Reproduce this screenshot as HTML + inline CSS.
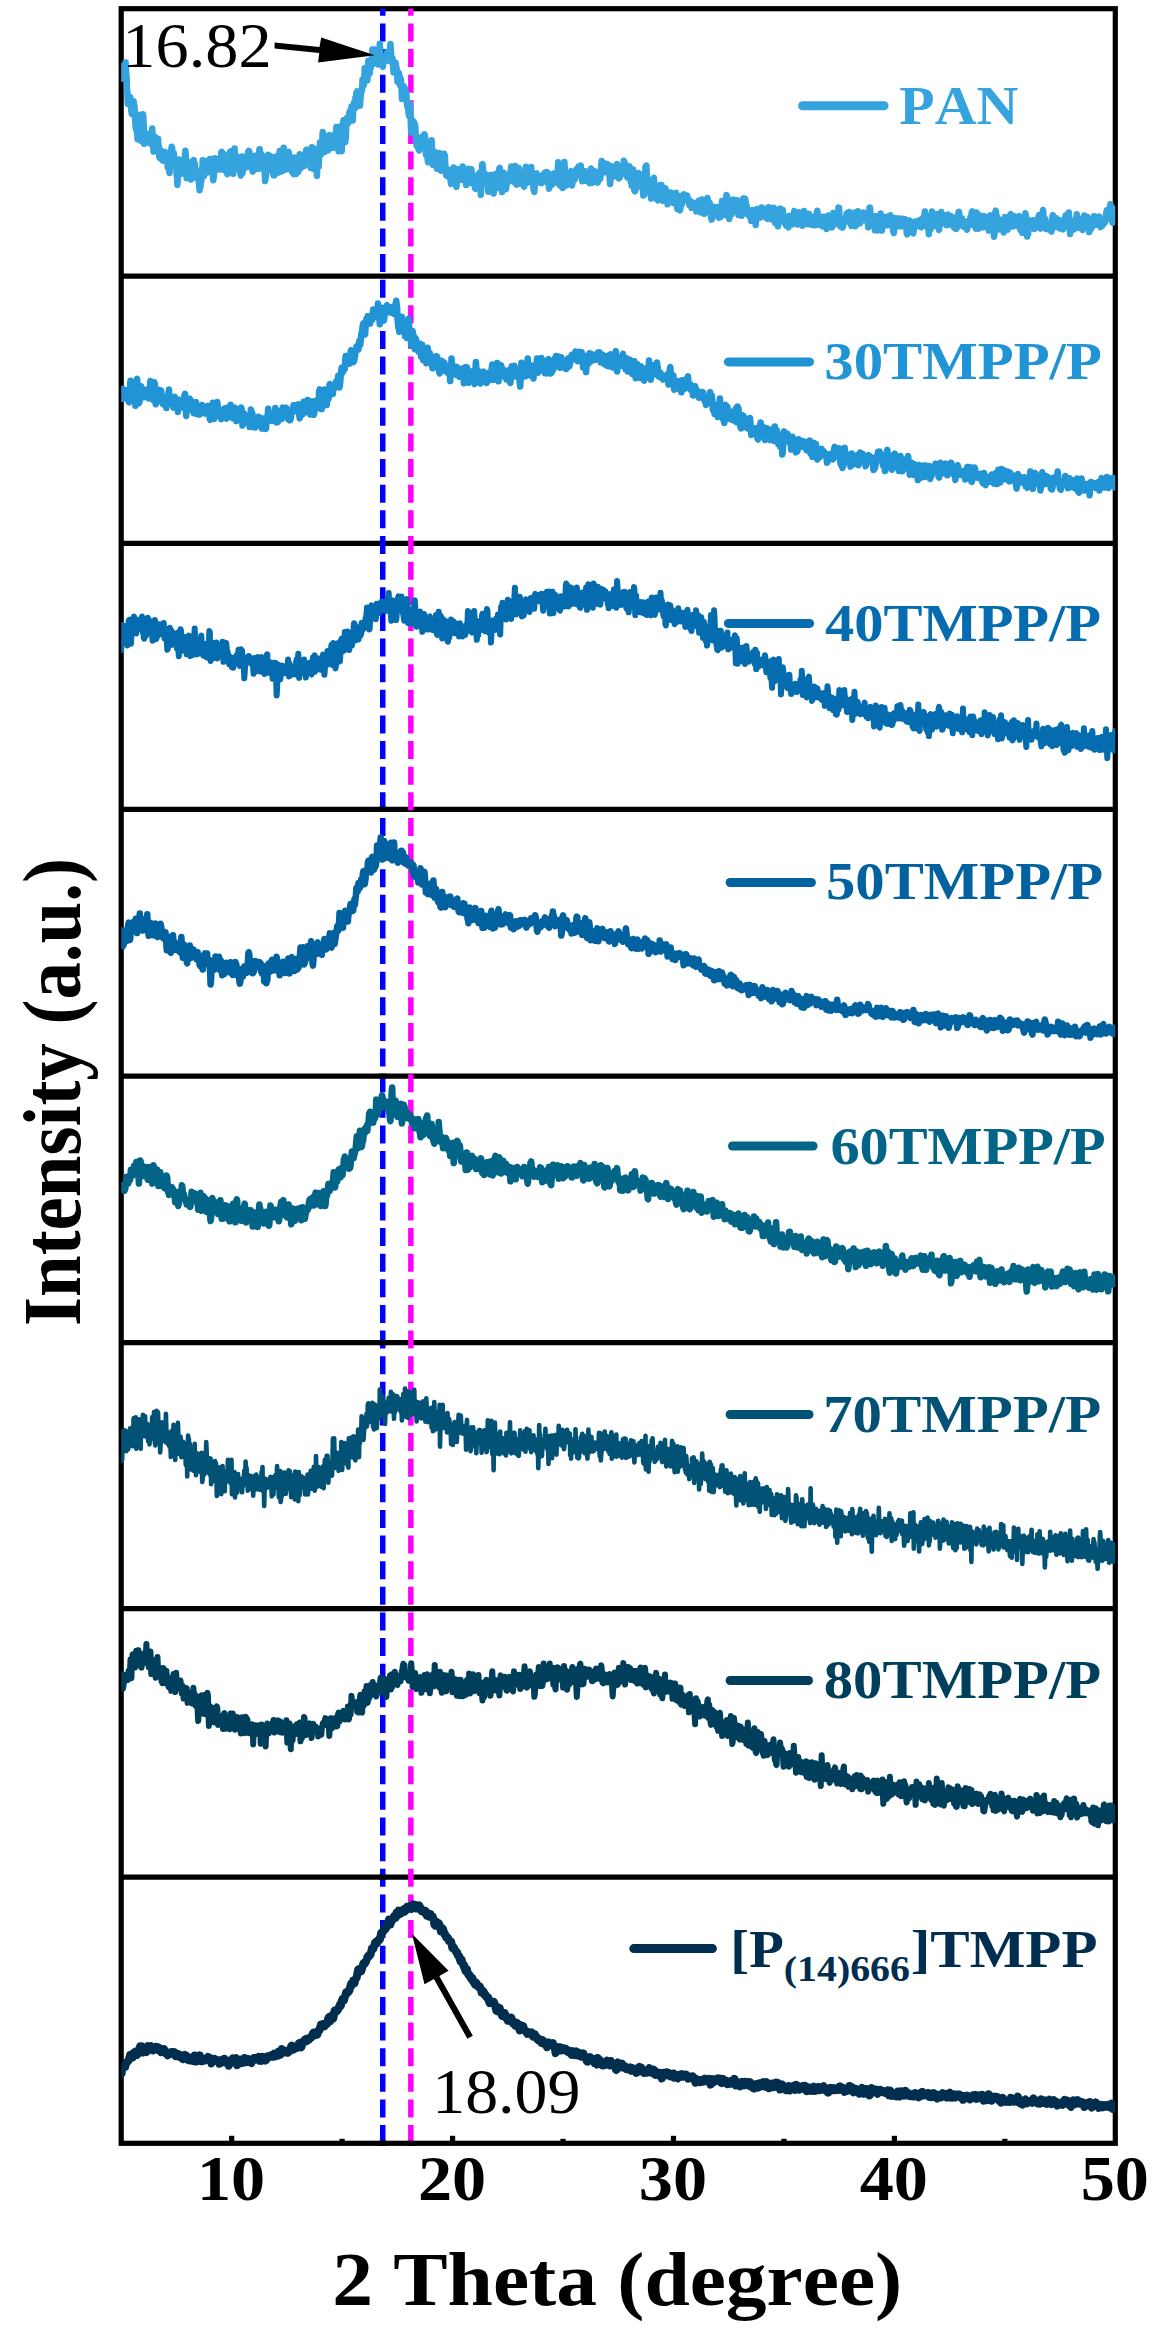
<!DOCTYPE html><html><head><meta charset="utf-8"><title>XRD</title><style>html,body{margin:0;padding:0;background:#fff;width:1153px;height:2334px;overflow:hidden;}svg{display:block;} text{font-kerning:none;font-feature-settings:"kern" 0;}</style></head><body><svg width="1153" height="2334" viewBox="0 0 1153 2334">
<defs><clipPath id="pc"><rect x="121.2" y="8.7" width="994.10" height="2134.60"/></clipPath></defs>
<rect width="1153" height="2334" fill="#fff"/>
<rect x="121.20" y="8.70" width="994.10" height="2134.60" fill="none" stroke="#000" stroke-width="5.2"/>
<line x1="121.20" y1="276.10" x2="1115.30" y2="276.10" stroke="#000" stroke-width="5.2"/>
<line x1="121.20" y1="543.30" x2="1115.30" y2="543.30" stroke="#000" stroke-width="5.2"/>
<line x1="121.20" y1="809.30" x2="1115.30" y2="809.30" stroke="#000" stroke-width="5.2"/>
<line x1="121.20" y1="1076.20" x2="1115.30" y2="1076.20" stroke="#000" stroke-width="5.2"/>
<line x1="121.20" y1="1342.70" x2="1115.30" y2="1342.70" stroke="#000" stroke-width="5.2"/>
<line x1="121.20" y1="1608.70" x2="1115.30" y2="1608.70" stroke="#000" stroke-width="5.2"/>
<line x1="121.20" y1="1877.20" x2="1115.30" y2="1877.20" stroke="#000" stroke-width="5.2"/>
<rect x="229.06" y="2135.80" width="5.2" height="5.90" fill="#000"/>
<rect x="339.51" y="2138.80" width="5.2" height="2.90" fill="#000"/>
<rect x="449.97" y="2135.80" width="5.2" height="5.90" fill="#000"/>
<rect x="560.42" y="2138.80" width="5.2" height="2.90" fill="#000"/>
<rect x="670.88" y="2135.80" width="5.2" height="5.90" fill="#000"/>
<rect x="781.33" y="2138.80" width="5.2" height="2.90" fill="#000"/>
<rect x="891.79" y="2135.80" width="5.2" height="5.90" fill="#000"/>
<rect x="1002.24" y="2138.80" width="5.2" height="2.90" fill="#000"/>
<line x1="382.75" y1="8.7" x2="382.75" y2="2143.3" stroke="#0000FF" stroke-width="5.5" stroke-dasharray="18 7.63" stroke-dashoffset="10.93"/>
<line x1="410.85" y1="8.7" x2="410.85" y2="2143.3" stroke="#FF00FF" stroke-width="5.5" stroke-dasharray="18 7.63" stroke-dashoffset="10.93"/>
<rect x="379" y="806.70" width="7.5" height="5.2" fill="#000"/>
<rect x="379" y="1073.60" width="7.5" height="5.2" fill="#000"/>
<rect x="379" y="1340.10" width="7.5" height="5.2" fill="#000"/>
<rect x="379" y="1606.10" width="7.5" height="5.2" fill="#000"/>
<rect x="407" y="1606.10" width="7.5" height="5.2" fill="#000"/>
<rect x="379" y="1874.60" width="7.5" height="5.2" fill="#000"/>
<rect x="379" y="2140.70" width="7.5" height="5.2" fill="#000"/>
<rect x="407" y="2140.70" width="7.5" height="5.2" fill="#000"/>
<g clip-path="url(#pc)">
<path d="M121.2,78.7 121.6,75.1 122.1,74.1 122.5,72.2 123.0,74.8 123.4,65.4 123.9,72.8 124.3,75.1 124.7,71.3 125.2,68.9 125.6,62.6 126.1,72.3 126.5,75.8 127.0,91.0 127.4,91.4 127.8,104.0 128.3,97.3 128.7,103.1 129.2,97.6 129.6,101.3 130.1,97.0 130.5,100.1 130.9,103.4 131.4,111.1 131.8,113.9 132.3,109.8 132.7,108.6 133.2,104.0 133.6,101.1 134.0,105.1 134.5,106.2 134.9,114.4 135.4,123.6 135.8,128.4 136.3,130.0 136.7,125.6 137.1,130.9 137.6,139.3 138.0,132.9 138.5,136.1 138.9,128.2 139.4,126.1 139.8,114.8 140.2,121.1 140.7,130.3 141.1,140.9 141.6,132.6 142.0,128.5 142.5,118.2 142.9,114.2 143.3,116.4 143.8,129.4 144.2,143.8 144.7,141.1 145.1,139.9 145.6,133.1 146.0,138.6 146.4,137.7 146.9,139.1 147.3,134.4 147.8,134.3 148.2,135.9 148.7,137.9 149.1,138.4 149.5,138.8 150.0,143.5 150.4,137.0 150.9,141.7 151.3,136.3 151.8,139.4 152.2,128.4 152.6,138.2 153.1,140.8 153.5,151.6 154.0,139.4 154.4,140.1 154.9,136.8 155.3,150.1 155.7,142.9 156.2,146.6 156.6,146.4 157.1,148.5 157.5,147.9 158.0,138.8 158.4,144.7 158.8,146.1 159.3,157.1 159.7,158.0 160.2,153.9 160.6,151.0 161.1,150.6 161.5,158.8 161.9,154.0 162.4,160.2 162.8,156.6 163.3,160.7 163.7,159.6 164.2,156.9 164.6,153.9 165.0,152.0 165.5,154.3 165.9,157.1 166.4,153.5 166.8,152.8 167.3,156.7 167.7,167.5 168.1,163.1 168.6,166.2 169.0,161.2 169.5,172.9 169.9,167.3 170.4,161.1 170.8,155.2 171.2,150.6 171.7,146.8 172.1,147.7 172.6,153.2 173.0,159.6 173.5,161.0 173.9,153.4 174.3,159.5 174.8,158.3 175.2,165.5 175.7,164.3 176.1,162.8 176.6,174.2 177.0,176.8 177.4,184.9 177.9,174.5 178.3,166.1 178.8,163.1 179.2,159.5 179.7,163.9 180.1,162.9 180.5,171.7 181.0,172.8 181.4,172.7 181.9,173.5 182.3,171.3 182.8,168.5 183.2,160.4 183.6,167.5 184.1,170.2 184.5,170.1 185.0,155.3 185.4,150.8 185.8,154.8 186.3,166.1 186.7,178.2 187.2,173.9 187.6,173.7 188.1,172.2 188.5,165.4 188.9,173.5 189.4,163.0 189.8,168.1 190.3,162.2 190.7,169.1 191.2,179.5 191.6,178.4 192.0,178.1 192.5,172.3 192.9,166.2 193.4,167.6 193.8,159.9 194.3,162.6 194.7,163.5 195.1,167.0 195.6,171.6 196.0,172.6 196.5,178.0 196.9,173.8 197.4,172.0 197.8,174.6 198.2,174.2 198.7,180.9 199.1,184.8 199.6,190.3 200.0,187.5 200.5,186.6 200.9,176.2 201.3,181.2 201.8,169.2 202.2,176.1 202.7,160.2 203.1,169.2 203.6,170.2 204.0,176.1 204.4,160.7 204.9,162.3 205.3,162.3 205.8,165.8 206.2,168.8 206.7,166.9 207.1,172.5 207.5,167.7 208.0,165.9 208.4,170.9 208.9,167.3 209.3,165.6 209.8,158.9 210.2,163.8 210.6,168.1 211.1,169.7 211.5,163.5 212.0,159.1 212.4,171.7 212.9,175.8 213.3,180.3 213.7,177.4 214.2,172.8 214.6,167.2 215.1,158.3 215.5,161.7 216.0,165.5 216.4,166.1 216.8,165.9 217.3,164.7 217.7,161.3 218.2,163.8 218.6,164.4 219.1,167.8 219.5,166.7 219.9,169.6 220.4,165.9 220.8,160.4 221.3,152.4 221.7,151.9 222.2,156.4 222.6,160.2 223.0,161.3 223.5,154.1 223.9,161.6 224.4,163.8 224.8,170.5 225.3,164.6 225.7,162.2 226.1,162.9 226.6,163.7 227.0,173.4 227.5,174.1 227.9,168.0 228.4,161.7 228.8,158.5 229.2,163.5 229.7,158.6 230.1,151.7 230.6,151.4 231.0,158.2 231.5,160.3 231.9,168.8 232.3,170.1 232.8,173.1 233.2,173.9 233.7,164.4 234.1,162.1 234.6,148.5 235.0,160.1 235.4,161.2 235.9,169.0 236.3,165.0 236.8,165.6 237.2,163.0 237.7,156.7 238.1,162.8 238.5,158.0 239.0,159.3 239.4,158.6 239.9,160.8 240.3,172.6 240.8,175.6 241.2,170.5 241.6,163.1 242.1,156.6 242.5,172.9 243.0,169.9 243.4,167.8 243.9,157.7 244.3,159.1 244.7,157.9 245.2,159.9 245.6,158.5 246.1,158.7 246.5,164.2 247.0,167.1 247.4,166.3 247.8,153.8 248.3,151.7 248.7,150.9 249.2,151.3 249.6,157.4 250.1,162.2 250.5,165.3 250.9,161.4 251.4,159.6 251.8,162.3 252.3,169.3 252.7,171.6 253.2,168.7 253.6,156.0 254.0,158.9 254.5,160.8 254.9,167.4 255.4,157.8 255.8,156.9 256.3,155.6 256.7,164.7 257.1,167.5 257.6,165.9 258.0,169.1 258.5,167.9 258.9,160.2 259.4,149.3 259.8,149.1 260.2,159.0 260.7,158.7 261.1,153.8 261.6,154.4 262.0,161.2 262.5,168.0 262.9,169.5 263.3,168.6 263.8,163.7 264.2,166.1 264.7,170.3 265.1,181.1 265.6,177.7 266.0,174.0 266.4,167.8 266.9,167.3 267.3,159.0 267.8,157.5 268.2,154.8 268.7,164.2 269.1,166.3 269.5,166.5 270.0,163.0 270.4,156.0 270.9,158.6 271.3,158.4 271.8,162.6 272.2,166.0 272.6,172.4 273.1,172.6 273.5,175.2 274.0,173.8 274.4,175.3 274.9,164.2 275.3,157.3 275.7,161.0 276.2,156.4 276.6,167.4 277.1,166.2 277.5,173.0 278.0,172.5 278.4,170.5 278.8,166.6 279.3,156.8 279.7,151.0 280.2,151.1 280.6,162.3 281.1,167.3 281.5,171.6 281.9,166.6 282.4,168.6 282.8,166.4 283.3,158.7 283.7,147.8 284.2,154.6 284.6,157.8 285.0,169.9 285.5,166.0 285.9,161.3 286.4,154.8 286.8,161.1 287.3,164.3 287.7,169.0 288.1,152.6 288.6,151.8 289.0,153.9 289.5,155.9 289.9,163.8 290.4,157.7 290.8,163.2 291.2,164.8 291.7,164.8 292.1,172.1 292.6,164.3 293.0,168.2 293.5,168.0 293.9,174.3 294.3,171.7 294.8,157.5 295.2,160.2 295.7,158.8 296.1,173.9 296.6,163.1 297.0,163.6 297.4,158.5 297.9,161.7 298.3,171.8 298.8,163.9 299.2,161.6 299.7,154.3 300.1,163.4 300.5,165.8 301.0,165.3 301.4,167.7 301.9,165.0 302.3,161.6 302.8,156.6 303.2,161.7 303.6,157.8 304.1,166.0 304.5,161.3 305.0,164.5 305.4,154.8 305.9,151.4 306.3,149.9 306.7,149.7 307.2,156.1 307.6,162.9 308.1,162.3 308.5,158.8 308.9,157.4 309.4,150.8 309.8,151.0 310.3,153.3 310.7,168.0 311.2,167.6 311.6,157.0 312.0,147.2 312.5,153.1 312.9,167.2 313.4,168.8 313.8,156.9 314.3,148.7 314.7,152.5 315.1,162.3 315.6,163.0 316.0,169.8 316.5,165.7 316.9,175.9 317.4,160.7 317.8,166.6 318.2,159.0 318.7,166.7 319.1,156.9 319.6,151.3 320.0,142.5 320.5,145.6 320.9,147.1 321.3,154.2 321.8,148.6 322.2,144.0 322.7,132.1 323.1,137.1 323.6,135.5 324.0,148.6 324.4,145.7 324.9,151.8 325.3,145.5 325.8,147.2 326.2,143.9 326.7,140.1 327.1,143.4 327.5,140.3 328.0,150.3 328.4,136.0 328.9,137.2 329.3,135.0 329.8,148.5 330.2,142.1 330.6,139.1 331.1,135.9 331.5,144.9 332.0,142.1 332.4,137.8 332.9,137.1 333.3,140.7 333.7,147.8 334.2,146.3 334.6,140.2 335.1,138.7 335.5,133.0 336.0,133.1 336.4,127.0 336.8,132.3 337.3,135.6 337.7,146.2 338.2,148.4 338.6,151.3 339.1,140.9 339.5,133.4 339.9,127.4 340.4,126.5 340.8,139.0 341.3,146.1 341.7,151.2 342.2,141.6 342.6,129.3 343.0,123.5 343.5,120.2 343.9,121.2 344.4,123.1 344.8,131.6 345.3,141.9 345.7,138.0 346.1,129.8 346.6,121.2 347.0,117.9 347.5,121.7 347.9,121.2 348.4,123.2 348.8,118.9 349.2,113.7 349.7,111.3 350.1,113.2 350.6,118.1 351.0,118.6 351.5,106.4 351.9,111.5 352.3,111.7 352.8,120.5 353.2,105.4 353.7,104.9 354.1,102.4 354.6,106.8 355.0,108.3 355.4,97.8 355.9,100.4 356.3,93.1 356.8,97.2 357.2,91.2 357.7,93.5 358.1,95.4 358.5,93.0 359.0,92.7 359.4,102.5 359.9,105.9 360.3,101.0 360.8,93.5 361.2,93.4 361.6,90.8 362.1,89.9 362.5,79.8 363.0,83.9 363.4,85.4 363.9,85.0 364.3,80.1 364.7,68.2 365.2,77.4 365.6,75.3 366.1,77.1 366.5,72.2 367.0,78.0 367.4,80.2 367.8,73.7 368.3,60.7 368.7,60.7 369.2,63.8 369.6,73.6 370.1,66.5 370.5,65.4 370.9,67.6 371.4,63.4 371.8,61.9 372.3,49.5 372.7,60.0 373.2,60.9 373.6,62.7 374.0,50.3 374.5,49.5 374.9,53.4 375.4,58.9 375.8,63.6 376.3,58.8 376.7,62.3 377.1,62.8 377.6,64.3 378.0,64.5 378.5,64.3 378.9,61.1 379.4,55.0 379.8,43.8 380.2,51.1 380.7,60.9 381.1,60.2 381.6,58.2 382.0,61.3 382.5,64.3 382.9,66.8 383.3,58.5 383.8,59.0 384.2,60.1 384.7,59.2 385.1,60.9 385.6,56.2 386.0,59.9 386.4,60.9 386.9,59.1 387.3,52.1 387.8,52.8 388.2,57.5 388.7,54.1 389.1,56.5 389.5,50.1 390.0,48.6 390.4,44.0 390.9,50.3 391.3,61.8 391.8,59.5 392.2,57.7 392.6,59.2 393.1,64.9 393.5,72.2 394.0,72.2 394.4,68.2 394.9,62.2 395.3,64.7 395.7,62.6 396.2,70.5 396.6,67.8 397.1,75.0 397.5,81.7 398.0,79.9 398.4,81.8 398.8,72.8 399.3,76.0 399.7,81.5 400.2,85.2 400.6,78.1 401.1,81.5 401.5,85.0 401.9,98.9 402.4,97.3 402.8,88.2 403.3,88.6 403.7,86.1 404.2,89.1 404.6,87.6 405.0,93.3 405.5,95.0 405.9,92.3 406.4,93.7 406.8,103.2 407.3,106.9 407.7,107.1 408.1,104.9 408.6,113.9 409.0,115.9 409.5,110.6 409.9,103.9 410.4,109.1 410.8,122.8 411.2,132.5 411.7,128.4 412.1,121.2 412.6,120.3 413.0,122.1 413.5,125.9 413.9,121.9 414.3,125.1 414.8,123.9 415.2,126.3 415.7,133.7 416.1,138.0 416.6,145.5 417.0,139.9 417.4,142.9 417.9,139.9 418.3,148.5 418.8,149.3 419.2,150.5 419.7,143.6 420.1,141.1 420.5,145.4 421.0,142.5 421.4,139.4 421.9,136.6 422.3,142.1 422.8,144.0 423.2,144.8 423.6,143.7 424.1,142.7 424.5,134.3 425.0,136.2 425.4,142.8 425.9,154.6 426.3,148.7 426.7,153.7 427.2,151.5 427.6,158.8 428.1,162.2 428.5,162.1 429.0,160.3 429.4,151.9 429.8,147.0 430.3,147.8 430.7,144.4 431.2,146.2 431.6,140.2 432.0,149.1 432.5,153.1 432.9,164.8 433.4,160.2 433.8,159.6 434.3,152.8 434.7,151.8 435.1,160.1 435.6,152.7 436.0,161.3 436.5,159.6 436.9,168.7 437.4,164.9 437.8,166.7 438.2,168.8 438.7,161.0 439.1,153.0 439.6,158.1 440.0,162.5 440.5,170.0 440.9,164.1 441.3,170.7 441.8,164.7 442.2,164.1 442.7,160.6 443.1,155.0 443.6,160.1 444.0,153.7 444.4,161.6 444.9,155.8 445.3,165.4 445.8,170.6 446.2,175.1 446.7,173.0 447.1,169.7 447.5,171.7 448.0,176.4 448.4,173.9 448.9,176.8 449.3,170.1 449.8,171.5 450.2,175.7 450.6,180.4 451.1,184.0 451.5,177.6 452.0,178.1 452.4,182.8 452.9,181.6 453.3,175.1 453.7,167.4 454.2,168.1 454.6,171.8 455.1,170.6 455.5,174.6 456.0,178.8 456.4,186.8 456.8,183.3 457.3,177.4 457.7,171.0 458.2,169.1 458.6,171.9 459.1,175.6 459.5,170.4 459.9,171.1 460.4,174.2 460.8,176.5 461.3,179.8 461.7,174.3 462.2,172.4 462.6,166.5 463.0,171.3 463.5,174.9 463.9,178.5 464.4,173.4 464.8,171.9 465.3,175.8 465.7,179.5 466.1,185.1 466.6,180.5 467.0,174.2 467.5,169.4 467.9,173.3 468.4,168.8 468.8,175.8 469.2,173.7 469.7,182.9 470.1,179.4 470.6,174.6 471.0,169.9 471.5,169.4 471.9,174.6 472.3,182.1 472.8,183.6 473.2,184.0 473.7,176.9 474.1,179.0 474.6,178.9 475.0,188.2 475.4,188.7 475.9,187.0 476.3,176.7 476.8,178.9 477.2,175.6 477.7,180.7 478.1,178.7 478.5,184.9 479.0,180.0 479.4,172.9 479.9,174.1 480.3,180.4 480.8,194.8 481.2,188.0 481.6,179.7 482.1,164.6 482.5,164.3 483.0,168.7 483.4,174.0 483.9,178.1 484.3,178.6 484.7,174.9 485.2,174.9 485.6,174.1 486.1,180.1 486.5,177.9 487.0,177.5 487.4,178.5 487.8,184.0 488.3,191.8 488.7,184.3 489.2,183.6 489.6,182.9 490.1,187.0 490.5,180.3 490.9,175.0 491.4,176.3 491.8,180.0 492.3,180.9 492.7,182.2 493.2,188.5 493.6,193.6 494.0,187.1 494.5,174.6 494.9,175.0 495.4,183.1 495.8,188.6 496.3,177.0 496.7,177.3 497.1,175.8 497.6,178.7 498.0,172.8 498.5,174.8 498.9,172.1 499.4,168.4 499.8,168.0 500.2,173.7 500.7,172.7 501.1,180.9 501.6,184.8 502.0,192.0 502.5,186.2 502.9,174.9 503.3,173.3 503.8,172.9 504.2,180.5 504.7,181.4 505.1,181.6 505.6,186.6 506.0,189.2 506.4,185.3 506.9,183.8 507.3,178.4 507.8,180.9 508.2,178.3 508.7,179.9 509.1,178.5 509.5,178.3 510.0,179.5 510.4,171.6 510.9,170.3 511.3,166.4 511.8,180.1 512.2,181.1 512.6,181.2 513.1,177.5 513.5,177.4 514.0,181.9 514.4,173.1 514.9,171.4 515.3,166.0 515.7,178.2 516.2,182.0 516.6,184.6 517.1,179.2 517.5,176.2 518.0,175.3 518.4,172.3 518.8,168.1 519.3,173.8 519.7,173.6 520.2,179.6 520.6,178.5 521.1,183.9 521.5,182.2 521.9,181.3 522.4,177.3 522.8,174.1 523.3,175.2 523.7,179.4 524.2,186.8 524.6,183.6 525.0,174.7 525.5,169.2 525.9,166.8 526.4,177.0 526.8,175.7 527.3,181.3 527.7,178.6 528.1,182.6 528.6,180.3 529.0,181.6 529.5,176.9 529.9,180.1 530.4,172.4 530.8,173.7 531.2,167.0 531.7,175.1 532.1,174.7 532.6,183.2 533.0,177.4 533.5,189.3 533.9,185.5 534.3,191.9 534.8,184.1 535.2,185.0 535.7,179.5 536.1,173.5 536.6,173.4 537.0,178.2 537.4,182.3 537.9,178.4 538.3,175.6 538.8,176.7 539.2,180.7 539.7,180.1 540.1,180.6 540.5,181.7 541.0,182.2 541.4,183.2 541.9,177.0 542.3,177.8 542.8,174.8 543.2,180.9 543.6,179.5 544.1,176.4 544.5,173.2 545.0,172.6 545.4,181.1 545.9,181.6 546.3,182.0 546.7,173.6 547.2,172.2 547.6,172.9 548.1,176.2 548.5,176.4 549.0,188.7 549.4,186.5 549.8,186.9 550.3,178.2 550.7,184.9 551.2,183.7 551.6,181.9 552.1,176.9 552.5,184.3 552.9,181.2 553.4,183.1 553.8,173.6 554.3,178.1 554.7,174.7 555.2,182.6 555.6,178.2 556.0,180.1 556.5,174.5 556.9,177.4 557.4,175.6 557.8,169.8 558.2,162.3 558.7,163.6 559.1,173.2 559.6,183.2 560.0,185.6 560.5,185.3 560.9,181.6 561.3,179.6 561.8,178.0 562.2,182.6 562.7,187.9 563.1,187.6 563.6,178.4 564.0,171.6 564.4,162.1 564.9,170.1 565.3,171.9 565.8,184.4 566.2,185.4 566.7,184.9 567.1,182.7 567.5,178.0 568.0,173.6 568.4,172.8 568.9,173.6 569.3,179.2 569.8,183.2 570.2,179.4 570.6,173.5 571.1,171.1 571.5,178.3 572.0,185.5 572.4,182.7 572.9,179.7 573.3,178.4 573.7,178.4 574.2,176.4 574.6,179.7 575.1,177.4 575.5,173.9 576.0,169.9 576.4,169.3 576.8,170.6 577.3,172.4 577.7,170.8 578.2,170.5 578.6,166.5 579.1,167.3 579.5,169.1 579.9,169.9 580.4,168.6 580.8,165.4 581.3,173.3 581.7,178.1 582.2,181.2 582.6,176.1 583.0,176.1 583.5,177.8 583.9,174.8 584.4,173.2 584.8,171.2 585.3,177.9 585.7,177.8 586.1,180.7 586.6,176.8 587.0,171.7 587.5,173.9 587.9,172.9 588.4,173.1 588.8,174.2 589.2,176.5 589.7,183.3 590.1,176.3 590.6,170.1 591.0,168.5 591.5,169.1 591.9,175.3 592.3,177.8 592.8,182.8 593.2,180.2 593.7,177.5 594.1,173.1 594.6,171.5 595.0,171.4 595.4,173.2 595.9,174.8 596.3,175.2 596.8,181.9 597.2,181.6 597.7,182.6 598.1,174.0 598.5,176.8 599.0,178.4 599.4,179.4 599.9,179.4 600.3,178.6 600.8,174.0 601.2,166.4 601.6,161.1 602.1,165.6 602.5,167.2 603.0,165.0 603.4,162.5 603.9,164.7 604.3,169.5 604.7,171.9 605.2,171.4 605.6,172.2 606.1,171.0 606.5,168.9 607.0,163.9 607.4,164.2 607.8,168.5 608.3,170.8 608.7,169.1 609.2,170.0 609.6,177.5 610.1,184.0 610.5,179.6 610.9,171.6 611.4,166.0 611.8,168.4 612.3,171.8 612.7,166.7 613.2,170.3 613.6,172.1 614.0,176.6 614.5,174.3 614.9,169.4 615.4,170.7 615.8,173.8 616.3,171.8 616.7,170.3 617.1,164.1 617.6,167.4 618.0,170.1 618.5,171.4 618.9,178.4 619.4,174.7 619.8,177.6 620.2,170.7 620.7,175.0 621.1,172.2 621.6,172.5 622.0,169.5 622.5,169.1 622.9,166.9 623.3,167.0 623.8,160.7 624.2,163.2 624.7,162.4 625.1,168.8 625.6,167.2 626.0,173.6 626.4,174.1 626.9,176.6 627.3,177.4 627.8,174.9 628.2,176.1 628.7,168.1 629.1,168.9 629.5,166.2 630.0,176.4 630.4,177.1 630.9,182.3 631.3,178.6 631.8,185.8 632.2,183.0 632.6,177.4 633.1,169.4 633.5,175.1 634.0,181.7 634.4,190.5 634.9,191.3 635.3,190.6 635.7,186.1 636.2,183.2 636.6,178.2 637.1,177.5 637.5,175.8 638.0,182.6 638.4,178.4 638.8,172.9 639.3,174.4 639.7,182.0 640.2,186.6 640.6,181.4 641.1,179.7 641.5,176.2 641.9,175.4 642.4,178.9 642.8,187.4 643.3,195.5 643.7,194.1 644.2,195.0 644.6,185.5 645.0,179.7 645.5,166.7 645.9,166.9 646.4,165.5 646.8,177.2 647.3,184.3 647.7,186.0 648.1,178.9 648.6,180.0 649.0,188.9 649.5,190.4 649.9,188.4 650.4,189.1 650.8,194.2 651.2,198.6 651.7,194.6 652.1,194.6 652.6,188.6 653.0,181.7 653.5,179.5 653.9,177.7 654.3,188.1 654.8,185.5 655.2,188.5 655.7,185.4 656.1,192.0 656.6,192.9 657.0,199.6 657.4,199.6 657.9,200.3 658.3,194.6 658.8,196.3 659.2,190.8 659.7,187.9 660.1,185.1 660.5,187.7 661.0,190.7 661.4,185.0 661.9,193.7 662.3,194.4 662.8,200.8 663.2,191.7 663.6,193.5 664.1,196.3 664.5,198.2 665.0,195.6 665.4,188.2 665.9,190.7 666.3,191.4 666.7,199.4 667.2,200.5 667.6,204.3 668.1,200.6 668.5,199.9 669.0,195.7 669.4,196.3 669.8,193.8 670.3,194.2 670.7,192.5 671.2,198.1 671.6,199.9 672.1,202.4 672.5,197.9 672.9,200.1 673.4,200.1 673.8,203.1 674.3,198.5 674.7,199.3 675.2,195.6 675.6,195.2 676.0,192.7 676.5,200.1 676.9,202.7 677.4,209.1 677.8,201.2 678.3,202.0 678.7,195.9 679.1,199.8 679.6,203.9 680.0,210.4 680.5,207.0 680.9,204.4 681.3,202.5 681.8,204.7 682.2,201.3 682.7,196.0 683.1,197.1 683.6,194.3 684.0,196.3 684.4,196.2 684.9,198.3 685.3,195.5 685.8,197.6 686.2,199.4 686.7,198.3 687.1,195.4 687.5,197.1 688.0,200.1 688.4,202.1 688.9,201.8 689.3,204.9 689.8,202.7 690.2,200.6 690.6,202.8 691.1,204.8 691.5,207.8 692.0,206.7 692.4,207.2 692.9,207.2 693.3,206.4 693.7,205.6 694.2,202.8 694.6,204.3 695.1,205.1 695.5,206.1 696.0,206.4 696.4,211.4 696.8,209.7 697.3,207.9 697.7,206.2 698.2,205.0 698.6,204.5 699.1,200.5 699.5,203.1 699.9,208.0 700.4,210.8 700.8,212.5 701.3,203.5 701.7,201.5 702.2,199.3 702.6,205.0 703.0,203.7 703.5,207.3 703.9,210.3 704.4,213.7 704.8,212.1 705.3,207.5 705.7,202.7 706.1,205.8 706.6,203.6 707.0,204.5 707.5,198.0 707.9,201.0 708.4,208.6 708.8,211.6 709.2,210.1 709.7,202.8 710.1,204.6 710.6,207.1 711.0,216.1 711.5,219.6 711.9,219.2 712.3,208.9 712.8,209.2 713.2,210.1 713.7,211.0 714.1,208.0 714.6,206.9 715.0,212.6 715.4,213.1 715.9,210.7 716.3,208.4 716.8,211.9 717.2,215.4 717.7,213.2 718.1,206.9 718.5,212.8 719.0,217.8 719.4,216.8 719.9,211.4 720.3,211.5 720.8,216.8 721.2,213.7 721.6,209.5 722.1,201.0 722.5,201.7 723.0,201.5 723.4,209.9 723.9,209.9 724.3,208.7 724.7,210.9 725.2,214.7 725.6,214.6 726.1,203.2 726.5,194.9 727.0,196.2 727.4,202.6 727.8,207.5 728.3,210.6 728.7,216.2 729.2,219.0 729.6,217.3 730.1,212.7 730.5,205.9 730.9,208.0 731.4,206.7 731.8,214.1 732.3,207.6 732.7,207.4 733.2,199.5 733.6,202.1 734.0,208.3 734.5,211.1 734.9,210.7 735.4,203.9 735.8,207.2 736.3,205.4 736.7,205.4 737.1,200.2 737.6,211.8 738.0,211.4 738.5,215.0 738.9,202.8 739.4,204.9 739.8,204.7 740.2,202.5 740.7,211.2 741.1,210.9 741.6,215.7 742.0,209.2 742.5,204.2 742.9,204.9 743.3,198.6 743.8,202.8 744.2,202.0 744.7,198.4 745.1,199.0 745.6,201.3 746.0,205.8 746.4,208.1 746.9,206.6 747.3,213.9 747.8,213.0 748.2,214.9 748.7,211.1 749.1,210.8 749.5,215.0 750.0,216.2 750.4,218.2 750.9,215.6 751.3,220.9 751.8,217.4 752.2,219.5 752.6,210.0 753.1,212.3 753.5,210.4 754.0,217.4 754.4,215.4 754.9,216.9 755.3,215.3 755.7,225.1 756.2,217.6 756.6,217.3 757.1,208.9 757.5,211.8 758.0,210.3 758.4,210.2 758.8,212.8 759.3,213.3 759.7,211.9 760.2,217.6 760.6,217.5 761.1,215.2 761.5,207.4 761.9,207.5 762.4,212.1 762.8,212.1 763.3,215.9 763.7,215.2 764.2,214.7 764.6,209.3 765.0,209.9 765.5,209.3 765.9,211.4 766.4,216.0 766.8,218.6 767.3,218.8 767.7,214.1 768.1,212.2 768.6,207.3 769.0,214.5 769.5,215.4 769.9,217.0 770.4,211.6 770.8,211.8 771.2,218.3 771.7,219.5 772.1,216.8 772.6,211.8 773.0,207.9 773.5,210.8 773.9,207.7 774.3,215.7 774.8,217.5 775.2,222.9 775.7,218.7 776.1,219.5 776.6,216.5 777.0,216.1 777.4,219.3 777.9,226.3 778.3,222.7 778.8,216.3 779.2,211.1 779.7,208.9 780.1,208.6 780.5,209.5 781.0,216.7 781.4,218.2 781.9,213.9 782.3,211.7 782.8,209.9 783.2,217.3 783.6,220.8 784.1,221.7 784.5,222.9 785.0,219.3 785.4,221.8 785.9,222.4 786.3,225.5 786.7,224.0 787.2,220.3 787.6,226.4 788.1,226.5 788.5,227.3 789.0,216.1 789.4,218.5 789.8,216.1 790.3,221.9 790.7,217.8 791.2,221.2 791.6,218.8 792.1,222.5 792.5,222.1 792.9,224.4 793.4,220.8 793.8,213.6 794.3,210.9 794.7,215.7 795.2,218.0 795.6,221.7 796.0,216.8 796.5,220.8 796.9,217.7 797.4,220.7 797.8,224.5 798.3,220.9 798.7,217.8 799.1,212.2 799.6,216.5 800.0,216.7 800.5,222.2 800.9,221.6 801.4,224.1 801.8,218.7 802.2,221.5 802.7,225.8 803.1,219.8 803.6,218.6 804.0,211.1 804.5,219.7 804.9,218.7 805.3,222.9 805.8,221.4 806.2,219.5 806.7,221.0 807.1,218.5 807.5,224.2 808.0,224.0 808.4,223.0 808.9,213.7 809.3,216.4 809.8,219.9 810.2,221.6 810.6,219.5 811.1,220.2 811.5,224.8 812.0,222.1 812.4,222.1 812.9,222.5 813.3,225.0 813.7,218.8 814.2,216.7 814.6,216.3 815.1,225.2 815.5,224.4 816.0,222.0 816.4,216.5 816.8,212.3 817.3,210.9 817.7,214.8 818.2,219.7 818.6,224.8 819.1,221.4 819.5,223.0 819.9,219.0 820.4,222.0 820.8,218.4 821.3,218.5 821.7,217.0 822.2,220.0 822.6,226.2 823.0,222.7 823.5,224.6 823.9,216.8 824.4,220.8 824.8,217.4 825.3,219.4 825.7,223.7 826.1,223.6 826.6,228.9 827.0,221.1 827.5,222.2 827.9,215.8 828.4,215.6 828.8,216.4 829.2,215.7 829.7,221.5 830.1,218.1 830.6,220.7 831.0,219.1 831.5,226.8 831.9,227.4 832.3,224.9 832.8,214.6 833.2,212.9 833.7,218.3 834.1,224.9 834.6,223.0 835.0,219.7 835.4,219.8 835.9,221.3 836.3,221.1 836.8,219.1 837.2,220.1 837.7,222.9 838.1,215.9 838.5,207.6 839.0,207.7 839.4,213.8 839.9,225.2 840.3,226.5 840.8,226.5 841.2,222.5 841.6,221.3 842.1,225.9 842.5,227.6 843.0,226.8 843.4,222.6 843.9,222.8 844.3,219.1 844.7,222.3 845.2,218.9 845.6,220.1 846.1,218.6 846.5,213.9 847.0,218.5 847.4,212.9 847.8,218.8 848.3,213.0 848.7,217.3 849.2,212.1 849.6,215.3 850.1,216.8 850.5,223.7 850.9,223.1 851.4,226.0 851.8,224.4 852.3,221.2 852.7,220.1 853.2,217.6 853.6,218.3 854.0,212.8 854.5,219.5 854.9,220.5 855.4,226.2 855.8,224.6 856.3,221.7 856.7,218.5 857.1,213.7 857.6,211.3 858.0,211.6 858.5,211.5 858.9,216.6 859.4,215.8 859.8,223.5 860.2,222.8 860.7,221.6 861.1,216.7 861.6,214.5 862.0,216.7 862.5,218.7 862.9,220.4 863.3,216.3 863.8,212.4 864.2,216.4 864.7,217.9 865.1,220.1 865.6,215.4 866.0,215.1 866.4,217.4 866.9,214.4 867.3,221.0 867.8,219.6 868.2,227.3 868.7,221.4 869.1,217.3 869.5,207.6 870.0,207.5 870.4,212.9 870.9,221.0 871.3,224.0 871.8,219.2 872.2,216.6 872.6,218.7 873.1,217.7 873.5,216.1 874.0,217.8 874.4,223.8 874.9,230.2 875.3,224.5 875.7,219.6 876.2,216.3 876.6,218.2 877.1,225.1 877.5,230.6 878.0,228.7 878.4,226.8 878.8,219.9 879.3,219.7 879.7,216.9 880.2,215.3 880.6,213.5 881.1,221.6 881.5,222.3 881.9,230.6 882.4,221.9 882.8,226.1 883.3,216.8 883.7,224.6 884.2,225.0 884.6,225.4 885.0,219.5 885.5,220.1 885.9,220.2 886.4,224.3 886.8,221.3 887.3,225.3 887.7,216.7 888.1,216.5 888.6,220.1 889.0,224.7 889.5,224.0 889.9,217.4 890.4,215.2 890.8,220.1 891.2,222.6 891.7,221.5 892.1,221.7 892.6,222.3 893.0,230.4 893.5,232.2 893.9,233.1 894.3,225.0 894.8,218.1 895.2,220.0 895.7,225.4 896.1,226.9 896.6,226.4 897.0,224.3 897.4,219.6 897.9,219.0 898.3,218.4 898.8,223.5 899.2,220.4 899.7,226.0 900.1,226.4 900.5,224.4 901.0,218.7 901.4,223.8 901.9,226.2 902.3,223.9 902.8,218.8 903.2,221.2 903.6,225.1 904.1,223.0 904.5,221.2 905.0,219.2 905.4,223.1 905.9,223.3 906.3,225.8 906.7,233.0 907.2,234.3 907.6,233.3 908.1,224.4 908.5,220.6 909.0,222.8 909.4,220.5 909.8,228.9 910.3,224.6 910.7,231.4 911.2,224.8 911.6,229.0 912.1,223.5 912.5,229.4 912.9,232.6 913.4,233.3 913.8,228.5 914.3,222.0 914.7,221.7 915.2,222.4 915.6,224.4 916.0,226.7 916.5,225.3 916.9,224.3 917.4,221.8 917.8,221.2 918.3,224.4 918.7,223.6 919.1,224.7 919.6,220.7 920.0,221.4 920.5,219.9 920.9,220.1 921.4,227.3 921.8,226.9 922.2,224.7 922.7,220.3 923.1,218.0 923.6,221.3 924.0,216.4 924.5,217.6 924.9,211.6 925.3,216.0 925.8,215.5 926.2,220.7 926.7,217.5 927.1,223.5 927.6,221.6 928.0,228.2 928.4,228.4 928.9,234.2 929.3,225.1 929.8,223.9 930.2,223.3 930.6,229.2 931.1,224.0 931.5,216.0 932.0,211.4 932.4,213.0 932.9,219.8 933.3,223.1 933.7,220.5 934.2,219.1 934.6,219.4 935.1,225.9 935.5,223.7 936.0,219.5 936.4,214.2 936.8,216.1 937.3,214.2 937.7,214.7 938.2,216.9 938.6,224.9 939.1,229.9 939.5,225.1 939.9,225.9 940.4,218.5 940.8,216.8 941.3,212.1 941.7,219.1 942.2,218.1 942.6,221.3 943.0,219.0 943.5,222.6 943.9,218.6 944.4,223.0 944.8,221.2 945.3,218.2 945.7,215.6 946.1,220.0 946.6,225.3 947.0,216.9 947.5,216.6 947.9,214.5 948.4,218.7 948.8,219.1 949.2,224.6 949.7,224.6 950.1,222.4 950.6,215.9 951.0,219.4 951.5,219.2 951.9,223.7 952.3,222.0 952.8,218.0 953.2,217.3 953.7,219.5 954.1,227.5 954.6,222.7 955.0,222.1 955.4,223.5 955.9,226.5 956.3,228.9 956.8,224.9 957.2,227.3 957.7,222.7 958.1,218.2 958.5,212.1 959.0,211.8 959.4,216.5 959.9,224.4 960.3,225.0 960.8,224.2 961.2,223.0 961.6,219.9 962.1,218.4 962.5,219.6 963.0,225.7 963.4,226.6 963.9,223.8 964.3,222.3 964.7,225.8 965.2,226.4 965.6,226.1 966.1,225.7 966.5,227.9 967.0,229.6 967.4,228.0 967.8,223.4 968.3,221.1 968.7,221.2 969.2,225.0 969.6,222.5 970.1,221.2 970.5,217.1 970.9,218.7 971.4,214.7 971.8,212.3 972.3,211.3 972.7,215.1 973.2,219.8 973.6,225.2 974.0,222.9 974.5,218.5 974.9,215.5 975.4,226.5 975.8,228.6 976.3,226.1 976.7,212.4 977.1,214.1 977.6,221.2 978.0,224.6 978.5,228.7 978.9,222.9 979.4,221.1 979.8,215.6 980.2,221.1 980.7,222.7 981.1,222.1 981.6,218.4 982.0,223.4 982.5,226.3 982.9,227.3 983.3,218.3 983.8,216.1 984.2,216.3 984.7,223.7 985.1,226.8 985.6,221.9 986.0,223.2 986.4,218.5 986.9,226.4 987.3,217.1 987.8,221.5 988.2,217.9 988.7,230.6 989.1,228.4 989.5,221.4 990.0,216.5 990.4,215.4 990.9,219.9 991.3,222.5 991.8,226.2 992.2,229.1 992.6,225.3 993.1,224.4 993.5,229.4 994.0,236.8 994.4,234.4 994.9,225.4 995.3,212.7 995.7,210.6 996.2,214.3 996.6,216.0 997.1,218.7 997.5,217.5 998.0,226.8 998.4,227.1 998.8,229.5 999.3,226.5 999.7,220.7 1000.2,222.2 1000.6,219.9 1001.1,227.6 1001.5,223.9 1001.9,227.1 1002.4,224.6 1002.8,226.3 1003.3,227.6 1003.7,232.5 1004.2,228.0 1004.6,221.3 1005.0,217.1 1005.5,219.9 1005.9,221.7 1006.4,224.5 1006.8,227.5 1007.3,229.3 1007.7,229.5 1008.1,224.0 1008.6,220.8 1009.0,221.6 1009.5,222.1 1009.9,219.8 1010.4,214.7 1010.8,214.2 1011.2,216.7 1011.7,221.6 1012.1,225.4 1012.6,226.6 1013.0,220.2 1013.5,215.9 1013.9,219.4 1014.3,216.6 1014.8,217.3 1015.2,218.7 1015.7,224.4 1016.1,224.1 1016.6,223.1 1017.0,222.1 1017.4,225.8 1017.9,225.3 1018.3,224.8 1018.8,219.0 1019.2,215.9 1019.7,221.8 1020.1,228.7 1020.5,229.9 1021.0,223.2 1021.4,222.9 1021.9,226.6 1022.3,232.9 1022.8,231.7 1023.2,230.2 1023.6,225.7 1024.1,230.4 1024.5,223.2 1025.0,224.3 1025.4,213.2 1025.9,216.1 1026.3,225.0 1026.7,231.1 1027.2,236.5 1027.6,228.9 1028.1,234.1 1028.5,228.2 1029.0,225.2 1029.4,220.3 1029.8,222.0 1030.3,223.5 1030.7,225.3 1031.2,222.7 1031.6,224.4 1032.1,226.7 1032.5,226.6 1032.9,221.8 1033.4,220.4 1033.8,223.4 1034.3,228.9 1034.7,223.5 1035.2,221.8 1035.6,220.5 1036.0,221.7 1036.5,223.7 1036.9,222.6 1037.4,222.1 1037.8,220.3 1038.3,217.3 1038.7,216.1 1039.1,215.0 1039.6,222.2 1040.0,225.6 1040.5,228.6 1040.9,222.4 1041.4,221.3 1041.8,220.4 1042.2,216.6 1042.7,213.4 1043.1,210.1 1043.6,219.2 1044.0,225.6 1044.5,225.0 1044.9,219.2 1045.3,219.1 1045.8,221.9 1046.2,229.1 1046.7,228.6 1047.1,228.7 1047.6,224.5 1048.0,226.0 1048.4,227.9 1048.9,225.7 1049.3,226.0 1049.8,228.1 1050.2,230.1 1050.7,230.1 1051.1,230.1 1051.5,231.6 1052.0,224.7 1052.4,216.7 1052.9,215.0 1053.3,220.9 1053.7,225.7 1054.2,222.5 1054.6,221.4 1055.1,218.7 1055.5,219.1 1056.0,218.0 1056.4,222.8 1056.8,227.1 1057.3,226.3 1057.7,224.2 1058.2,226.5 1058.6,222.0 1059.1,222.8 1059.5,220.3 1059.9,228.4 1060.4,228.0 1060.8,225.0 1061.3,226.4 1061.7,225.4 1062.2,226.6 1062.6,227.6 1063.0,229.4 1063.5,228.6 1063.9,221.8 1064.4,223.2 1064.8,217.8 1065.3,217.7 1065.7,215.3 1066.1,221.9 1066.6,217.5 1067.0,216.1 1067.5,216.7 1067.9,219.6 1068.4,218.4 1068.8,212.4 1069.2,219.0 1069.7,225.4 1070.1,234.0 1070.6,228.3 1071.0,224.6 1071.5,222.3 1071.9,228.3 1072.3,225.6 1072.8,226.8 1073.2,224.1 1073.7,229.4 1074.1,229.1 1074.6,226.5 1075.0,224.8 1075.4,221.0 1075.9,218.3 1076.3,217.7 1076.8,214.2 1077.2,222.5 1077.7,224.0 1078.1,227.7 1078.5,225.1 1079.0,222.0 1079.4,223.7 1079.9,219.0 1080.3,222.9 1080.8,218.9 1081.2,219.4 1081.6,224.3 1082.1,229.8 1082.5,229.9 1083.0,224.3 1083.4,218.4 1083.9,220.3 1084.3,215.4 1084.7,217.2 1085.2,217.4 1085.6,221.6 1086.1,226.5 1086.5,225.8 1087.0,219.2 1087.4,217.0 1087.8,217.9 1088.3,226.7 1088.7,226.9 1089.2,232.1 1089.6,231.4 1090.1,229.7 1090.5,225.5 1090.9,222.4 1091.4,228.5 1091.8,224.2 1092.3,223.6 1092.7,219.8 1093.2,219.5 1093.6,222.8 1094.0,216.2 1094.5,222.6 1094.9,220.9 1095.4,225.0 1095.8,221.5 1096.3,216.9 1096.7,219.9 1097.1,222.2 1097.6,222.3 1098.0,220.7 1098.5,218.1 1098.9,221.4 1099.4,216.6 1099.8,222.0 1100.2,225.1 1100.7,227.1 1101.1,222.1 1101.6,224.5 1102.0,226.0 1102.5,225.5 1102.9,221.3 1103.3,223.3 1103.8,223.3 1104.2,222.1 1104.7,222.9 1105.1,221.7 1105.6,219.5 1106.0,216.4 1106.4,211.9 1106.9,210.4 1107.3,211.2 1107.8,214.4 1108.2,218.1 1108.7,216.0 1109.1,218.2 1109.5,212.8 1110.0,209.0 1110.4,204.2 1110.9,212.0 1111.3,215.4 1111.8,220.6 1112.2,219.2 1112.6,222.7 1113.1,220.4 1113.5,213.4 1114.0,208.7 1114.4,209.7 1114.9,213.0 1115.3,214.5" fill="none" stroke="#35A3DD" stroke-width="6.5" stroke-linejoin="round" stroke-linecap="round"/>
<path d="M121.2,399.0 121.6,392.3 122.1,393.5 122.5,389.4 123.0,388.9 123.4,389.2 123.9,394.7 124.3,398.3 124.7,395.1 125.2,390.1 125.6,393.2 126.1,396.8 126.5,396.8 127.0,390.4 127.4,391.1 127.8,392.2 128.3,399.5 128.7,402.0 129.2,402.3 129.6,394.0 130.1,385.9 130.5,380.8 130.9,386.0 131.4,387.6 131.8,394.0 132.3,393.7 132.7,396.7 133.2,395.1 133.6,395.2 134.0,390.3 134.5,394.9 134.9,397.8 135.4,405.8 135.8,397.0 136.3,388.0 136.7,379.7 137.1,378.9 137.6,386.4 138.0,392.9 138.5,399.8 138.9,403.3 139.4,402.3 139.8,399.4 140.2,392.6 140.7,390.4 141.1,386.3 141.6,388.8 142.0,390.7 142.5,392.8 142.9,389.4 143.3,389.9 143.8,394.6 144.2,397.2 144.7,396.9 145.1,392.0 145.6,391.2 146.0,389.7 146.4,390.6 146.9,389.8 147.3,391.9 147.8,396.4 148.2,395.6 148.7,398.5 149.1,394.1 149.5,395.8 150.0,386.3 150.4,381.0 150.9,384.2 151.3,387.2 151.8,396.2 152.2,394.5 152.6,398.3 153.1,400.0 153.5,399.8 154.0,390.4 154.4,382.2 154.9,385.2 155.3,399.7 155.7,404.3 156.2,399.9 156.6,390.9 157.1,392.8 157.5,389.9 158.0,390.5 158.4,389.5 158.8,394.8 159.3,397.6 159.7,400.3 160.2,396.7 160.6,394.3 161.1,390.4 161.5,394.1 161.9,396.6 162.4,403.3 162.8,401.6 163.3,404.4 163.7,397.5 164.2,400.2 164.6,397.4 165.0,398.0 165.5,401.7 165.9,402.1 166.4,408.0 166.8,401.7 167.3,401.5 167.7,400.0 168.1,395.4 168.6,392.2 169.0,389.4 169.5,397.6 169.9,403.8 170.4,403.0 170.8,397.9 171.2,398.8 171.7,401.0 172.1,402.0 172.6,400.1 173.0,404.0 173.5,407.5 173.9,404.2 174.3,398.2 174.8,396.9 175.2,401.3 175.7,405.1 176.1,403.7 176.6,401.1 177.0,401.5 177.4,406.3 177.9,411.9 178.3,405.2 178.8,400.7 179.2,399.8 179.7,401.4 180.1,405.0 180.5,402.3 181.0,402.9 181.4,406.2 181.9,406.5 182.3,407.3 182.8,402.9 183.2,403.8 183.6,401.0 184.1,399.2 184.5,395.1 185.0,393.8 185.4,399.0 185.8,406.7 186.3,415.9 186.7,408.5 187.2,405.7 187.6,404.5 188.1,407.9 188.5,409.2 188.9,404.4 189.4,403.1 189.8,398.7 190.3,400.0 190.7,400.3 191.2,405.4 191.6,404.6 192.0,406.2 192.5,401.9 192.9,411.1 193.4,410.0 193.8,413.2 194.3,412.3 194.7,411.6 195.1,408.2 195.6,402.4 196.0,402.1 196.5,407.9 196.9,407.6 197.4,414.3 197.8,412.5 198.2,414.0 198.7,413.8 199.1,411.6 199.6,414.6 200.0,408.5 200.5,407.3 200.9,407.9 201.3,405.8 201.8,409.3 202.2,404.9 202.7,409.3 203.1,406.1 203.6,410.9 204.0,408.3 204.4,412.5 204.9,410.4 205.3,413.5 205.8,411.1 206.2,411.8 206.7,411.4 207.1,407.6 207.5,406.5 208.0,405.9 208.4,409.0 208.9,408.4 209.3,412.8 209.8,419.0 210.2,419.8 210.6,418.2 211.1,415.6 211.5,415.5 212.0,410.6 212.4,406.8 212.9,402.7 213.3,409.3 213.7,414.5 214.2,418.9 214.6,414.2 215.1,413.0 215.5,409.5 216.0,413.1 216.4,407.7 216.8,406.6 217.3,402.1 217.7,405.5 218.2,407.6 218.6,412.6 219.1,409.1 219.5,412.3 219.9,409.5 220.4,416.5 220.8,418.0 221.3,419.2 221.7,416.1 222.2,414.1 222.6,416.0 223.0,415.0 223.5,417.4 223.9,414.8 224.4,410.4 224.8,408.2 225.3,409.3 225.7,416.9 226.1,417.9 226.6,418.6 227.0,416.7 227.5,415.5 227.9,413.4 228.4,409.8 228.8,407.3 229.2,408.9 229.7,406.1 230.1,407.2 230.6,404.8 231.0,410.8 231.5,409.8 231.9,412.7 232.3,412.4 232.8,418.2 233.2,417.1 233.7,417.2 234.1,413.8 234.6,409.8 235.0,407.6 235.4,411.5 235.9,417.9 236.3,421.1 236.8,420.2 237.2,418.4 237.7,417.5 238.1,413.8 238.5,409.5 239.0,412.8 239.4,413.2 239.9,417.9 240.3,414.5 240.8,413.3 241.2,407.5 241.6,408.9 242.1,416.6 242.5,425.5 243.0,424.4 243.4,416.1 243.9,413.5 244.3,415.4 244.7,417.7 245.2,420.0 245.6,416.5 246.1,419.8 246.5,418.1 247.0,419.4 247.4,415.8 247.8,416.5 248.3,420.3 248.7,421.4 249.2,422.3 249.6,426.9 250.1,422.5 250.5,415.6 250.9,409.5 251.4,411.5 251.8,417.5 252.3,413.1 252.7,416.3 253.2,419.7 253.6,427.3 254.0,424.1 254.5,419.8 254.9,419.4 255.4,427.4 255.8,425.8 256.3,421.2 256.7,419.3 257.1,421.0 257.6,420.6 258.0,420.4 258.5,416.8 258.9,417.7 259.4,417.4 259.8,420.3 260.2,424.1 260.7,418.1 261.1,421.8 261.6,421.0 262.0,428.6 262.5,425.7 262.9,423.3 263.3,418.5 263.8,421.9 264.2,420.7 264.7,420.4 265.1,422.7 265.6,426.7 266.0,428.9 266.4,422.0 266.9,422.0 267.3,416.7 267.8,413.8 268.2,408.7 268.7,415.6 269.1,419.9 269.5,419.7 270.0,414.7 270.4,415.2 270.9,420.8 271.3,417.1 271.8,419.3 272.2,418.4 272.6,420.8 273.1,415.8 273.5,414.4 274.0,415.4 274.4,416.6 274.9,412.2 275.3,407.9 275.7,413.9 276.2,417.1 276.6,422.5 277.1,417.1 277.5,420.2 278.0,421.9 278.4,417.6 278.8,413.6 279.3,411.1 279.7,415.9 280.2,414.4 280.6,415.2 281.1,413.7 281.5,419.0 281.9,410.7 282.4,410.3 282.8,407.4 283.3,416.2 283.7,415.9 284.2,412.7 284.6,412.6 285.0,413.5 285.5,413.4 285.9,407.8 286.4,408.3 286.8,408.2 287.3,413.6 287.7,416.1 288.1,419.0 288.6,417.8 289.0,414.0 289.5,417.1 289.9,420.3 290.4,420.1 290.8,418.3 291.2,414.5 291.7,412.9 292.1,412.9 292.6,412.5 293.0,411.5 293.5,405.2 293.9,408.1 294.3,407.7 294.8,408.7 295.2,405.2 295.7,409.8 296.1,408.1 296.6,410.4 297.0,409.4 297.4,410.7 297.9,405.8 298.3,404.2 298.8,412.7 299.2,415.0 299.7,418.4 300.1,415.6 300.5,411.8 301.0,408.8 301.4,408.8 301.9,411.6 302.3,414.8 302.8,409.1 303.2,406.3 303.6,401.7 304.1,406.2 304.5,409.0 305.0,412.6 305.4,406.4 305.9,405.7 306.3,406.8 306.7,404.1 307.2,406.3 307.6,400.0 308.1,404.4 308.5,402.5 308.9,400.7 309.4,405.0 309.8,407.3 310.3,414.4 310.7,412.1 311.2,407.7 311.6,405.9 312.0,401.5 312.5,401.4 312.9,405.1 313.4,411.4 313.8,414.8 314.3,412.9 314.7,408.9 315.1,409.0 315.6,402.5 316.0,402.1 316.5,400.5 316.9,406.5 317.4,405.2 317.8,407.6 318.2,403.2 318.7,400.0 319.1,391.6 319.6,389.4 320.0,396.8 320.5,402.5 320.9,409.0 321.3,406.2 321.8,409.1 322.2,404.4 322.7,401.1 323.1,398.8 323.6,395.7 324.0,393.9 324.4,389.6 324.9,390.1 325.3,394.2 325.8,398.2 326.2,400.5 326.7,405.1 327.1,397.0 327.5,394.4 328.0,395.3 328.4,399.3 328.9,395.9 329.3,386.3 329.8,384.0 330.2,385.6 330.6,391.9 331.1,390.2 331.5,389.1 332.0,387.7 332.4,391.8 332.9,394.0 333.3,388.4 333.7,389.5 334.2,385.1 334.6,388.1 335.1,385.1 335.5,386.6 336.0,381.8 336.4,383.2 336.8,383.9 337.3,383.5 337.7,380.4 338.2,375.8 338.6,379.6 339.1,382.2 339.5,387.4 339.9,383.9 340.4,380.7 340.8,373.2 341.3,370.6 341.7,367.8 342.2,370.5 342.6,372.5 343.0,371.2 343.5,368.9 343.9,369.7 344.4,369.4 344.8,368.9 345.3,359.4 345.7,355.9 346.1,356.3 346.6,361.8 347.0,360.0 347.5,359.8 347.9,359.3 348.4,362.1 348.8,361.5 349.2,363.8 349.7,362.4 350.1,357.0 350.6,351.5 351.0,350.4 351.5,354.2 351.9,356.5 352.3,360.7 352.8,361.0 353.2,362.2 353.7,360.1 354.1,361.3 354.6,357.7 355.0,356.7 355.4,351.7 355.9,350.0 356.3,346.8 356.8,346.5 357.2,345.9 357.7,349.7 358.1,348.9 358.5,349.4 359.0,342.0 359.4,340.9 359.9,341.7 360.3,345.0 360.8,339.8 361.2,335.2 361.6,332.5 362.1,333.1 362.5,327.3 363.0,324.2 363.4,323.3 363.9,328.6 364.3,331.4 364.7,334.6 365.2,334.3 365.6,325.5 366.1,321.8 366.5,318.7 367.0,322.0 367.4,320.2 367.8,316.3 368.3,317.8 368.7,318.7 369.2,323.5 369.6,323.5 370.1,323.6 370.5,319.6 370.9,315.9 371.4,315.1 371.8,316.9 372.3,319.9 372.7,316.2 373.2,309.4 373.6,309.6 374.0,312.6 374.5,317.2 374.9,312.5 375.4,313.7 375.8,314.6 376.3,315.9 376.7,315.2 377.1,310.5 377.6,310.7 378.0,303.5 378.5,305.0 378.9,311.8 379.4,319.0 379.8,324.3 380.2,319.1 380.7,317.7 381.1,313.5 381.6,310.7 382.0,312.0 382.5,309.3 382.9,310.4 383.3,317.2 383.8,320.5 384.2,319.1 384.7,313.0 385.1,312.8 385.6,313.4 386.0,307.4 386.4,305.8 386.9,305.3 387.3,308.5 387.8,310.1 388.2,312.2 388.7,309.6 389.1,310.0 389.5,310.5 390.0,309.1 390.4,308.7 390.9,307.5 391.3,312.7 391.8,309.0 392.2,308.5 392.6,307.0 393.1,306.7 393.5,309.2 394.0,309.2 394.4,313.9 394.9,310.0 395.3,307.3 395.7,303.6 396.2,300.8 396.6,303.1 397.1,308.0 397.5,318.6 398.0,324.6 398.4,327.9 398.8,328.3 399.3,331.8 399.7,329.6 400.2,329.4 400.6,326.1 401.1,319.2 401.5,317.7 401.9,316.8 402.4,325.8 402.8,324.7 403.3,323.3 403.7,321.6 404.2,325.8 404.6,330.0 405.0,336.3 405.5,331.6 405.9,334.2 406.4,336.2 406.8,337.9 407.3,335.8 407.7,326.7 408.1,322.1 408.6,318.7 409.0,323.7 409.5,332.6 409.9,335.8 410.4,338.0 410.8,338.9 411.2,345.8 411.7,340.5 412.1,337.5 412.6,331.1 413.0,333.7 413.5,335.3 413.9,344.1 414.3,345.4 414.8,349.1 415.2,338.9 415.7,338.5 416.1,339.6 416.6,347.0 417.0,345.0 417.4,349.1 417.9,348.2 418.3,351.2 418.8,347.3 419.2,345.0 419.7,343.8 420.1,343.7 420.5,348.6 421.0,356.5 421.4,351.9 421.9,347.5 422.3,344.6 422.8,352.9 423.2,360.0 423.6,360.0 424.1,354.1 424.5,352.5 425.0,352.7 425.4,357.8 425.9,359.7 426.3,363.2 426.7,359.5 427.2,353.4 427.6,347.7 428.1,353.1 428.5,360.3 429.0,361.9 429.4,358.6 429.8,353.0 430.3,355.8 430.7,355.2 431.2,355.8 431.6,360.1 432.0,365.4 432.5,368.2 432.9,368.2 433.4,364.1 433.8,365.6 434.3,360.0 434.7,359.8 435.1,361.5 435.6,361.0 436.0,362.1 436.5,356.2 436.9,356.3 437.4,357.7 437.8,361.4 438.2,360.9 438.7,367.2 439.1,371.6 439.6,373.5 440.0,368.7 440.5,365.0 440.9,365.9 441.3,361.3 441.8,361.0 442.2,362.5 442.7,369.8 443.1,370.5 443.6,368.3 444.0,363.1 444.4,362.8 444.9,368.6 445.3,367.4 445.8,368.4 446.2,369.6 446.7,369.0 447.1,372.5 447.5,367.4 448.0,371.6 448.4,366.2 448.9,369.0 449.3,370.8 449.8,374.0 450.2,381.1 450.6,372.8 451.1,370.0 451.5,358.5 452.0,365.1 452.4,364.7 452.9,367.9 453.3,368.6 453.7,369.1 454.2,372.6 454.6,368.7 455.1,369.0 455.5,366.6 456.0,374.9 456.4,372.7 456.8,369.3 457.3,367.1 457.7,371.3 458.2,370.9 458.6,372.9 459.1,373.5 459.5,376.8 459.9,372.8 460.4,372.5 460.8,372.6 461.3,374.6 461.7,375.4 462.2,373.5 462.6,368.4 463.0,372.1 463.5,373.9 463.9,383.3 464.4,379.5 464.8,373.7 465.3,369.8 465.7,367.1 466.1,368.5 466.6,367.9 467.0,367.4 467.5,373.2 467.9,376.6 468.4,382.0 468.8,382.9 469.2,380.0 469.7,378.1 470.1,376.1 470.6,373.1 471.0,371.5 471.5,373.7 471.9,374.3 472.3,374.8 472.8,374.4 473.2,374.0 473.7,377.5 474.1,381.0 474.6,384.1 475.0,378.5 475.4,369.5 475.9,361.9 476.3,367.8 476.8,373.7 477.2,379.0 477.7,371.6 478.1,370.5 478.5,374.7 479.0,379.7 479.4,377.2 479.9,383.0 480.3,383.5 480.8,382.9 481.2,375.5 481.6,375.1 482.1,380.6 482.5,380.5 483.0,375.9 483.4,374.9 483.9,371.6 484.3,375.4 484.7,374.1 485.2,378.2 485.6,378.4 486.1,377.6 486.5,383.1 487.0,381.4 487.4,381.3 487.8,375.1 488.3,377.3 488.7,381.0 489.2,375.6 489.6,372.6 490.1,372.8 490.5,377.5 490.9,379.8 491.4,372.6 491.8,367.7 492.3,364.5 492.7,368.9 493.2,375.0 493.6,379.7 494.0,373.7 494.5,371.2 494.9,368.8 495.4,372.8 495.8,371.8 496.3,368.5 496.7,368.5 497.1,362.9 497.6,369.3 498.0,370.7 498.5,381.3 498.9,375.4 499.4,369.9 499.8,370.7 500.2,366.8 500.7,368.1 501.1,365.1 501.6,375.1 502.0,376.5 502.5,373.7 502.9,368.9 503.3,372.3 503.8,370.3 504.2,372.7 504.7,373.6 505.1,375.8 505.6,374.3 506.0,378.2 506.4,379.3 506.9,377.8 507.3,374.4 507.8,376.8 508.2,376.0 508.7,370.2 509.1,370.8 509.5,376.1 510.0,382.4 510.4,382.9 510.9,376.3 511.3,368.1 511.8,366.2 512.2,372.0 512.6,377.0 513.1,376.2 513.5,371.4 514.0,368.0 514.4,365.7 514.9,368.9 515.3,373.3 515.7,373.3 516.2,373.7 516.6,375.3 517.1,376.9 517.5,373.8 518.0,375.1 518.4,370.5 518.8,372.3 519.3,372.9 519.7,382.8 520.2,386.6 520.6,380.2 521.1,368.5 521.5,362.7 521.9,363.7 522.4,368.8 522.8,367.3 523.3,366.0 523.7,366.2 524.2,369.1 524.6,374.1 525.0,375.0 525.5,376.4 525.9,371.4 526.4,370.0 526.8,362.9 527.3,363.2 527.7,358.6 528.1,364.3 528.6,366.8 529.0,371.5 529.5,375.2 529.9,371.7 530.4,371.1 530.8,365.3 531.2,366.2 531.7,370.0 532.1,367.7 532.6,373.0 533.0,373.1 533.5,378.4 533.9,372.8 534.3,369.7 534.8,366.9 535.2,371.8 535.7,368.0 536.1,366.3 536.6,362.3 537.0,358.5 537.4,365.1 537.9,364.0 538.3,372.8 538.8,369.2 539.2,365.1 539.7,363.1 540.1,363.6 540.5,365.1 541.0,362.1 541.4,358.0 541.9,363.2 542.3,362.4 542.8,362.7 543.2,360.3 543.6,363.9 544.1,364.6 544.5,369.0 545.0,373.0 545.4,371.1 545.9,371.6 546.3,368.3 546.7,373.5 547.2,370.6 547.6,365.4 548.1,360.0 548.5,359.1 549.0,360.8 549.4,371.7 549.8,369.1 550.3,373.5 550.7,363.2 551.2,370.2 551.6,372.7 552.1,371.1 552.5,366.1 552.9,361.1 553.4,369.3 553.8,361.7 554.3,360.4 554.7,358.4 555.2,363.9 555.6,362.8 556.0,356.1 556.5,357.9 556.9,358.9 557.4,358.8 557.8,358.0 558.2,356.5 558.7,361.2 559.1,362.7 559.6,367.7 560.0,367.8 560.5,363.0 560.9,359.3 561.3,357.2 561.8,362.8 562.2,361.4 562.7,366.5 563.1,363.6 563.6,367.3 564.0,361.9 564.4,365.3 564.9,361.8 565.3,367.5 565.8,365.3 566.2,369.1 566.7,366.1 567.1,362.7 567.5,364.4 568.0,358.5 568.4,361.0 568.9,359.3 569.3,366.4 569.8,364.3 570.2,360.7 570.6,357.2 571.1,356.2 571.5,356.8 572.0,354.9 572.4,359.0 572.9,359.1 573.3,359.3 573.7,355.8 574.2,356.7 574.6,356.7 575.1,354.9 575.5,351.4 576.0,354.3 576.4,353.2 576.8,356.4 577.3,358.0 577.7,361.2 578.2,360.1 578.6,353.7 579.1,352.7 579.5,351.9 579.9,356.8 580.4,358.5 580.8,356.9 581.3,354.5 581.7,352.2 582.2,360.0 582.6,359.8 583.0,367.3 583.5,358.2 583.9,357.2 584.4,357.0 584.8,360.6 585.3,369.2 585.7,367.5 586.1,372.1 586.6,361.9 587.0,360.2 587.5,355.4 587.9,364.1 588.4,362.3 588.8,363.3 589.2,356.6 589.7,353.3 590.1,354.8 590.6,356.0 591.0,361.4 591.5,357.0 591.9,357.7 592.3,354.3 592.8,355.6 593.2,356.1 593.7,356.9 594.1,359.8 594.6,356.2 595.0,356.5 595.4,358.5 595.9,359.6 596.3,355.8 596.8,355.6 597.2,357.2 597.7,359.2 598.1,352.5 598.5,354.3 599.0,354.0 599.4,352.4 599.9,352.5 600.3,356.2 600.8,362.4 601.2,359.1 601.6,359.5 602.1,355.1 602.5,355.6 603.0,354.9 603.4,358.2 603.9,362.3 604.3,364.0 604.7,360.9 605.2,356.3 605.6,356.2 606.1,362.3 606.5,365.3 607.0,362.3 607.4,359.5 607.8,361.4 608.3,366.2 608.7,364.0 609.2,358.2 609.6,354.6 610.1,354.5 610.5,357.1 610.9,354.5 611.4,357.1 611.8,358.5 612.3,364.9 612.7,367.5 613.2,366.8 613.6,360.4 614.0,359.4 614.5,357.1 614.9,355.8 615.4,352.8 615.8,351.1 616.3,360.1 616.7,363.9 617.1,371.4 617.6,365.2 618.0,362.1 618.5,359.1 618.9,359.4 619.4,360.1 619.8,360.9 620.2,360.4 620.7,360.5 621.1,363.0 621.6,365.7 622.0,361.4 622.5,355.7 622.9,353.7 623.3,357.5 623.8,360.8 624.2,360.6 624.7,366.3 625.1,365.4 625.6,369.4 626.0,363.1 626.4,358.3 626.9,358.4 627.3,363.1 627.8,371.6 628.2,370.2 628.7,368.7 629.1,363.9 629.5,360.0 630.0,359.8 630.4,363.6 630.9,369.3 631.3,371.5 631.8,373.0 632.2,374.0 632.6,373.9 633.1,372.1 633.5,368.5 634.0,361.2 634.4,361.2 634.9,366.6 635.3,373.4 635.7,378.3 636.2,376.7 636.6,370.3 637.1,368.2 637.5,364.2 638.0,369.7 638.4,366.0 638.8,368.5 639.3,373.4 639.7,377.9 640.2,374.5 640.6,371.4 641.1,366.5 641.5,373.8 641.9,377.1 642.4,378.2 642.8,377.7 643.3,376.6 643.7,380.0 644.2,380.6 644.6,377.6 645.0,376.8 645.5,373.8 645.9,374.5 646.4,373.6 646.8,368.2 647.3,367.5 647.7,370.4 648.1,372.5 648.6,371.6 649.0,360.6 649.5,364.9 649.9,366.3 650.4,376.6 650.8,379.7 651.2,377.2 651.7,372.9 652.1,370.3 652.6,371.3 653.0,374.9 653.5,369.0 653.9,369.6 654.3,365.0 654.8,365.3 655.2,366.4 655.7,366.3 656.1,368.8 656.6,367.1 657.0,362.4 657.4,365.7 657.9,367.9 658.3,376.1 658.8,373.5 659.2,376.5 659.7,377.0 660.1,375.2 660.5,372.7 661.0,375.1 661.4,377.9 661.9,377.0 662.3,375.4 662.8,378.0 663.2,379.6 663.6,377.7 664.1,377.7 664.5,376.2 665.0,376.7 665.4,378.5 665.9,378.5 666.3,377.3 666.7,375.8 667.2,374.4 667.6,380.0 668.1,379.1 668.5,384.6 669.0,381.9 669.4,379.2 669.8,369.2 670.3,367.0 670.7,373.0 671.2,379.5 671.6,384.6 672.1,384.8 672.5,381.8 672.9,378.6 673.4,375.5 673.8,384.1 674.3,389.7 674.7,388.4 675.2,386.5 675.6,383.4 676.0,382.6 676.5,384.0 676.9,387.9 677.4,388.3 677.8,387.3 678.3,381.1 678.7,387.0 679.1,388.4 679.6,389.6 680.0,386.4 680.5,388.0 680.9,388.6 681.3,392.2 681.8,383.4 682.2,380.2 682.7,380.3 683.1,385.9 683.6,389.2 684.0,383.5 684.4,383.6 684.9,381.0 685.3,383.6 685.8,385.0 686.2,388.0 686.7,384.4 687.1,378.3 687.5,378.0 688.0,376.4 688.4,383.1 688.9,382.7 689.3,387.2 689.8,384.3 690.2,384.3 690.6,389.8 691.1,389.2 691.5,388.2 692.0,387.7 692.4,387.8 692.9,395.3 693.3,394.6 693.7,395.6 694.2,392.1 694.6,387.7 695.1,386.0 695.5,389.0 696.0,391.0 696.4,393.8 696.8,389.8 697.3,391.3 697.7,391.3 698.2,393.0 698.6,393.1 699.1,397.7 699.5,396.5 699.9,396.4 700.4,393.5 700.8,392.6 701.3,394.4 701.7,394.0 702.2,395.2 702.6,392.1 703.0,392.4 703.5,394.8 703.9,398.2 704.4,400.6 704.8,399.4 705.3,402.2 705.7,400.9 706.1,404.9 706.6,400.8 707.0,403.8 707.5,401.4 707.9,400.7 708.4,397.0 708.8,397.8 709.2,395.7 709.7,397.7 710.1,392.2 710.6,397.4 711.0,395.0 711.5,397.3 711.9,395.6 712.3,401.5 712.8,409.6 713.2,410.5 713.7,411.3 714.1,408.0 714.6,413.9 715.0,410.7 715.4,412.2 715.9,405.3 716.3,408.7 716.8,409.5 717.2,415.7 717.7,417.0 718.1,414.2 718.5,412.6 719.0,403.8 719.4,402.6 719.9,398.4 720.3,405.8 720.8,409.9 721.2,414.5 721.6,413.1 722.1,417.2 722.5,418.7 723.0,417.1 723.4,416.5 723.9,419.0 724.3,422.9 724.7,412.6 725.2,405.8 725.6,404.9 726.1,410.1 726.5,408.4 727.0,407.6 727.4,406.7 727.8,411.9 728.3,412.5 728.7,418.6 729.2,415.6 729.6,417.9 730.1,411.6 730.5,417.0 730.9,415.6 731.4,419.4 731.8,417.1 732.3,414.1 732.7,414.2 733.2,415.4 733.6,420.6 734.0,420.7 734.5,420.7 734.9,414.7 735.4,409.2 735.8,408.5 736.3,417.8 736.7,422.2 737.1,419.5 737.6,406.4 738.0,408.5 738.5,408.5 738.9,414.0 739.4,413.4 739.8,418.1 740.2,425.1 740.7,428.0 741.1,428.4 741.6,423.6 742.0,417.4 742.5,415.2 742.9,418.1 743.3,415.6 743.8,416.4 744.2,418.3 744.7,427.0 745.1,426.8 745.6,422.2 746.0,421.8 746.4,422.2 746.9,424.9 747.3,428.1 747.8,428.4 748.2,425.6 748.7,424.2 749.1,426.2 749.5,425.9 750.0,418.0 750.4,422.1 750.9,429.6 751.3,434.9 751.8,431.8 752.2,427.7 752.6,429.6 753.1,433.0 753.5,434.0 754.0,432.8 754.4,429.4 754.9,428.9 755.3,431.3 755.7,430.0 756.2,428.1 756.6,431.4 757.1,434.2 757.5,438.4 758.0,439.5 758.4,437.8 758.8,435.1 759.3,430.4 759.7,427.9 760.2,426.1 760.6,422.4 761.1,426.8 761.5,425.3 761.9,428.3 762.4,426.5 762.8,434.8 763.3,433.8 763.7,436.8 764.2,435.2 764.6,438.4 765.0,440.0 765.5,433.2 765.9,432.6 766.4,427.9 766.8,431.9 767.3,434.5 767.7,434.1 768.1,433.5 768.6,433.4 769.0,429.9 769.5,435.4 769.9,429.6 770.4,440.0 770.8,434.6 771.2,439.2 771.7,435.3 772.1,437.9 772.6,438.0 773.0,437.4 773.5,440.4 773.9,440.9 774.3,436.4 774.8,426.5 775.2,431.2 775.7,429.9 776.1,437.4 776.6,429.9 777.0,434.4 777.4,432.0 777.9,439.5 778.3,444.0 778.8,443.7 779.2,440.1 779.7,438.2 780.1,446.7 780.5,445.3 781.0,440.4 781.4,439.9 781.9,444.7 782.3,454.5 782.8,452.2 783.2,442.3 783.6,434.3 784.1,431.4 784.5,437.0 785.0,438.8 785.4,441.2 785.9,437.7 786.3,437.4 786.7,433.7 787.2,436.3 787.6,433.6 788.1,441.3 788.5,439.1 789.0,441.8 789.4,437.7 789.8,438.5 790.3,443.0 790.7,444.5 791.2,449.6 791.6,445.2 792.1,440.5 792.5,436.8 792.9,437.7 793.4,440.0 793.8,441.9 794.3,443.3 794.7,442.2 795.2,444.8 795.6,448.5 796.0,452.3 796.5,451.0 796.9,449.1 797.4,451.4 797.8,448.5 798.3,444.1 798.7,439.3 799.1,440.9 799.6,443.5 800.0,443.4 800.5,443.0 800.9,444.9 801.4,443.9 801.8,441.9 802.2,441.0 802.7,444.4 803.1,446.9 803.6,443.9 804.0,442.6 804.5,441.7 804.9,446.6 805.3,445.6 805.8,447.2 806.2,448.6 806.7,450.4 807.1,450.5 807.5,447.4 808.0,445.1 808.4,447.0 808.9,444.1 809.3,444.7 809.8,440.6 810.2,445.8 810.6,453.7 811.1,453.2 811.5,453.9 812.0,447.9 812.4,456.9 812.9,448.6 813.3,446.5 813.7,442.8 814.2,449.7 814.6,453.5 815.1,447.3 815.5,446.6 816.0,443.9 816.4,454.5 816.8,456.5 817.3,459.6 817.7,453.3 818.2,456.4 818.6,455.8 819.1,457.7 819.5,451.3 819.9,453.7 820.4,455.3 820.8,455.1 821.3,450.4 821.7,448.9 822.2,451.3 822.6,451.1 823.0,450.6 823.5,453.1 823.9,455.6 824.4,454.1 824.8,453.4 825.3,453.0 825.7,453.5 826.1,453.7 826.6,458.2 827.0,462.7 827.5,462.3 827.9,458.0 828.4,454.7 828.8,455.1 829.2,457.8 829.7,457.3 830.1,456.5 830.6,455.7 831.0,453.7 831.5,453.8 831.9,453.7 832.3,458.5 832.8,459.4 833.2,457.2 833.7,451.9 834.1,449.1 834.6,446.9 835.0,447.1 835.4,447.3 835.9,449.4 836.3,453.9 836.8,455.3 837.2,456.4 837.7,455.4 838.1,454.0 838.5,451.2 839.0,449.1 839.4,448.5 839.9,456.0 840.3,461.8 840.8,464.6 841.2,461.7 841.6,461.9 842.1,466.1 842.5,468.0 843.0,466.2 843.4,465.7 843.9,460.2 844.3,452.9 844.7,447.7 845.2,451.8 845.6,454.9 846.1,455.9 846.5,454.7 847.0,457.0 847.4,455.4 847.8,454.9 848.3,457.6 848.7,462.1 849.2,462.7 849.6,459.9 850.1,462.2 850.5,466.6 850.9,464.6 851.4,459.2 851.8,453.6 852.3,457.9 852.7,459.5 853.2,460.0 853.6,462.8 854.0,464.1 854.5,462.8 854.9,458.7 855.4,457.2 855.8,463.3 856.3,458.4 856.7,458.6 857.1,455.3 857.6,463.4 858.0,463.6 858.5,465.2 858.9,464.1 859.4,459.7 859.8,456.2 860.2,452.5 860.7,457.2 861.1,455.3 861.6,457.9 862.0,456.8 862.5,460.7 862.9,453.9 863.3,455.6 863.8,455.7 864.2,458.0 864.7,456.5 865.1,457.2 865.6,466.2 866.0,465.1 866.4,463.9 866.9,456.4 867.3,459.5 867.8,455.7 868.2,456.3 868.7,455.2 869.1,458.8 869.5,459.4 870.0,458.1 870.4,456.4 870.9,459.7 871.3,460.8 871.8,459.1 872.2,458.0 872.6,459.4 873.1,466.4 873.5,469.9 874.0,468.7 874.4,469.1 874.9,465.5 875.3,467.2 875.7,462.5 876.2,461.8 876.6,459.5 877.1,455.5 877.5,454.8 878.0,451.8 878.4,457.8 878.8,452.4 879.3,456.8 879.7,451.6 880.2,455.7 880.6,454.6 881.1,460.1 881.5,459.8 881.9,460.2 882.4,461.9 882.8,464.4 883.3,466.1 883.7,463.4 884.2,466.8 884.6,467.6 885.0,471.0 885.5,467.9 885.9,465.4 886.4,454.7 886.8,452.1 887.3,449.9 887.7,459.8 888.1,461.6 888.6,461.7 889.0,458.8 889.5,458.1 889.9,458.0 890.4,455.5 890.8,459.9 891.2,466.7 891.7,469.7 892.1,468.0 892.6,466.5 893.0,465.8 893.5,465.9 893.9,460.4 894.3,456.4 894.8,453.6 895.2,459.8 895.7,464.6 896.1,463.4 896.6,461.7 897.0,465.2 897.4,466.3 897.9,466.8 898.3,469.4 898.8,471.0 899.2,469.9 899.7,462.5 900.1,459.8 900.5,456.1 901.0,460.5 901.4,465.5 901.9,468.6 902.3,471.3 902.8,469.3 903.2,470.3 903.6,467.3 904.1,466.7 904.5,463.8 905.0,460.6 905.4,459.5 905.9,462.5 906.3,464.4 906.7,465.8 907.2,460.0 907.6,458.0 908.1,456.1 908.5,460.4 909.0,462.7 909.4,470.0 909.8,474.8 910.3,470.6 910.7,467.2 911.2,462.4 911.6,466.4 912.1,470.7 912.5,474.0 912.9,474.7 913.4,469.2 913.8,465.8 914.3,464.1 914.7,466.9 915.2,472.8 915.6,475.2 916.0,473.3 916.5,469.2 916.9,469.7 917.4,474.6 917.8,480.0 918.3,475.7 918.7,467.7 919.1,465.0 919.6,469.6 920.0,476.1 920.5,478.1 920.9,475.5 921.4,475.0 921.8,467.9 922.2,471.6 922.7,469.2 923.1,471.6 923.6,465.5 924.0,469.4 924.5,472.3 924.9,476.9 925.3,469.8 925.8,465.5 926.2,466.6 926.7,469.7 927.1,472.1 927.6,470.3 928.0,469.6 928.4,471.9 928.9,465.9 929.3,471.2 929.8,472.5 930.2,478.9 930.6,476.7 931.1,472.4 931.5,476.0 932.0,472.5 932.4,470.4 932.9,466.8 933.3,467.1 933.7,468.7 934.2,471.9 934.6,468.1 935.1,470.7 935.5,463.8 936.0,469.4 936.4,468.9 936.8,472.5 937.3,468.1 937.7,467.1 938.2,467.8 938.6,476.8 939.1,477.6 939.5,473.0 939.9,466.0 940.4,462.8 940.8,469.2 941.3,473.4 941.7,471.7 942.2,467.0 942.6,468.4 943.0,470.4 943.5,473.2 943.9,469.0 944.4,471.9 944.8,469.3 945.3,466.6 945.7,463.6 946.1,466.0 946.6,473.2 947.0,475.2 947.5,475.3 947.9,473.1 948.4,470.8 948.8,467.2 949.2,467.5 949.7,471.5 950.1,472.1 950.6,465.7 951.0,462.8 951.5,463.3 951.9,469.2 952.3,469.8 952.8,471.1 953.2,472.3 953.7,474.6 954.1,473.8 954.6,474.2 955.0,474.3 955.4,479.9 955.9,475.6 956.3,474.8 956.8,469.5 957.2,468.2 957.7,465.3 958.1,466.8 958.5,471.3 959.0,472.8 959.4,472.0 959.9,473.7 960.3,474.6 960.8,474.0 961.2,473.2 961.6,472.3 962.1,474.9 962.5,471.6 963.0,473.0 963.4,470.9 963.9,470.7 964.3,471.0 964.7,476.3 965.2,479.5 965.6,479.2 966.1,478.0 966.5,471.6 967.0,472.1 967.4,467.0 967.8,468.7 968.3,467.0 968.7,468.6 969.2,468.9 969.6,470.7 970.1,467.0 970.5,471.1 970.9,472.2 971.4,481.5 971.8,481.9 972.3,479.6 972.7,473.2 973.2,472.7 973.6,474.8 974.0,472.7 974.5,467.4 974.9,468.2 975.4,472.8 975.8,474.2 976.3,475.9 976.7,475.6 977.1,477.7 977.6,473.7 978.0,474.4 978.5,475.1 978.9,475.2 979.4,476.1 979.8,474.0 980.2,475.3 980.7,473.9 981.1,479.4 981.6,479.9 982.0,481.4 982.5,481.1 982.9,483.2 983.3,479.3 983.8,476.4 984.2,473.1 984.7,480.0 985.1,483.5 985.6,485.2 986.0,481.9 986.4,479.4 986.9,481.5 987.3,479.8 987.8,481.6 988.2,479.3 988.7,477.5 989.1,478.7 989.5,479.4 990.0,481.8 990.4,476.5 990.9,476.8 991.3,475.2 991.8,474.6 992.2,475.8 992.6,477.3 993.1,481.1 993.5,480.0 994.0,483.6 994.4,480.2 994.9,474.2 995.3,473.4 995.7,475.2 996.2,480.0 996.6,479.4 997.1,484.1 997.5,481.8 998.0,478.6 998.4,469.7 998.8,472.3 999.3,473.5 999.7,478.9 1000.2,482.6 1000.6,479.9 1001.1,475.8 1001.5,468.9 1001.9,473.3 1002.4,473.4 1002.8,473.3 1003.3,472.7 1003.7,473.7 1004.2,474.6 1004.6,470.6 1005.0,474.9 1005.5,474.9 1005.9,479.5 1006.4,476.6 1006.8,479.1 1007.3,475.1 1007.7,478.6 1008.1,471.7 1008.6,479.2 1009.0,478.2 1009.5,481.4 1009.9,474.1 1010.4,473.0 1010.8,476.5 1011.2,476.8 1011.7,480.1 1012.1,479.5 1012.6,479.6 1013.0,476.7 1013.5,479.5 1013.9,477.8 1014.3,475.7 1014.8,476.3 1015.2,480.9 1015.7,483.3 1016.1,485.4 1016.6,488.6 1017.0,485.4 1017.4,476.9 1017.9,474.0 1018.3,479.5 1018.8,482.5 1019.2,482.6 1019.7,478.5 1020.1,481.2 1020.5,477.0 1021.0,479.4 1021.4,479.0 1021.9,481.6 1022.3,481.1 1022.8,479.7 1023.2,482.5 1023.6,480.6 1024.1,483.6 1024.5,477.3 1025.0,482.4 1025.4,480.3 1025.9,486.5 1026.3,486.3 1026.7,486.6 1027.2,487.8 1027.6,486.5 1028.1,485.6 1028.5,484.9 1029.0,486.7 1029.4,482.2 1029.8,480.2 1030.3,471.6 1030.7,476.2 1031.2,475.8 1031.6,481.0 1032.1,483.8 1032.5,486.6 1032.9,488.8 1033.4,479.1 1033.8,479.9 1034.3,476.3 1034.7,476.3 1035.2,473.0 1035.6,474.1 1036.0,480.1 1036.5,483.4 1036.9,483.3 1037.4,481.9 1037.8,480.6 1038.3,478.8 1038.7,483.7 1039.1,478.8 1039.6,483.1 1040.0,485.4 1040.5,490.4 1040.9,487.0 1041.4,478.1 1041.8,474.5 1042.2,472.3 1042.7,480.0 1043.1,483.7 1043.6,482.2 1044.0,477.5 1044.5,476.3 1044.9,484.2 1045.3,482.4 1045.8,481.3 1046.2,476.1 1046.7,478.1 1047.1,480.0 1047.6,477.8 1048.0,478.8 1048.4,478.9 1048.9,479.7 1049.3,477.6 1049.8,479.4 1050.2,483.6 1050.7,488.2 1051.1,485.9 1051.5,489.3 1052.0,489.5 1052.4,488.1 1052.9,483.1 1053.3,482.6 1053.7,480.1 1054.2,480.2 1054.6,477.3 1055.1,478.9 1055.5,477.6 1056.0,478.5 1056.4,481.3 1056.8,480.0 1057.3,475.1 1057.7,471.5 1058.2,475.9 1058.6,482.2 1059.1,484.5 1059.5,484.1 1059.9,488.2 1060.4,489.3 1060.8,489.8 1061.3,486.4 1061.7,485.5 1062.2,484.9 1062.6,484.1 1063.0,482.4 1063.5,481.9 1063.9,484.4 1064.4,481.2 1064.8,480.8 1065.3,475.9 1065.7,481.7 1066.1,480.4 1066.6,482.7 1067.0,482.0 1067.5,486.5 1067.9,488.1 1068.4,487.5 1068.8,484.4 1069.2,482.3 1069.7,478.3 1070.1,482.4 1070.6,480.1 1071.0,483.4 1071.5,479.8 1071.9,487.0 1072.3,486.3 1072.8,486.8 1073.2,485.3 1073.7,487.6 1074.1,486.6 1074.6,485.8 1075.0,484.4 1075.4,487.9 1075.9,488.8 1076.3,487.7 1076.8,483.2 1077.2,478.6 1077.7,481.8 1078.1,489.3 1078.5,492.3 1079.0,492.8 1079.4,487.0 1079.9,485.8 1080.3,484.8 1080.8,481.4 1081.2,480.4 1081.6,478.5 1082.1,483.2 1082.5,486.7 1083.0,488.4 1083.4,490.4 1083.9,489.4 1084.3,490.5 1084.7,487.4 1085.2,485.7 1085.6,484.6 1086.1,484.8 1086.5,486.0 1087.0,483.9 1087.4,486.8 1087.8,486.0 1088.3,484.8 1088.7,485.6 1089.2,489.1 1089.6,495.2 1090.1,490.7 1090.5,485.3 1090.9,481.9 1091.4,482.1 1091.8,486.0 1092.3,484.9 1092.7,485.7 1093.2,484.9 1093.6,486.2 1094.0,484.7 1094.5,484.3 1094.9,483.5 1095.4,486.7 1095.8,486.6 1096.3,488.1 1096.7,485.1 1097.1,483.1 1097.6,483.4 1098.0,482.5 1098.5,487.4 1098.9,487.0 1099.4,490.6 1099.8,484.7 1100.2,483.3 1100.7,481.5 1101.1,479.9 1101.6,478.2 1102.0,482.4 1102.5,483.8 1102.9,486.6 1103.3,485.8 1103.8,487.1 1104.2,487.5 1104.7,484.7 1105.1,484.8 1105.6,486.4 1106.0,486.1 1106.4,482.1 1106.9,477.0 1107.3,477.2 1107.8,483.8 1108.2,484.6 1108.7,488.0 1109.1,481.9 1109.5,482.1 1110.0,479.0 1110.4,482.2 1110.9,482.0 1111.3,483.8 1111.8,481.7 1112.2,481.7 1112.6,479.1 1113.1,477.9 1113.5,479.2 1114.0,480.3 1114.4,484.8 1114.9,487.4 1115.3,485.5" fill="none" stroke="#2194D5" stroke-width="6.5" stroke-linejoin="round" stroke-linecap="round"/>
<path d="M121.2,650.2 121.6,634.6 122.1,625.0 122.5,628.5 123.0,628.0 123.4,634.7 123.9,634.0 124.3,625.7 124.7,630.9 125.2,640.7 125.6,635.5 126.1,630.8 126.5,626.3 127.0,629.2 127.4,645.4 127.8,643.5 128.3,633.0 128.7,621.2 129.2,619.9 129.6,619.6 130.1,624.2 130.5,641.1 130.9,643.7 131.4,636.3 131.8,632.2 132.3,628.3 132.7,626.9 133.2,630.8 133.6,629.6 134.0,616.6 134.5,617.7 134.9,631.4 135.4,626.8 135.8,626.6 136.3,633.5 136.7,621.9 137.1,622.3 137.6,629.5 138.0,620.2 138.5,623.0 138.9,624.5 139.4,621.7 139.8,620.6 140.2,619.7 140.7,618.8 141.1,619.2 141.6,619.8 142.0,616.5 142.5,626.3 142.9,632.6 143.3,629.8 143.8,637.5 144.2,638.7 144.7,631.2 145.1,623.4 145.6,627.0 146.0,634.1 146.4,635.3 146.9,632.7 147.3,626.5 147.8,617.8 148.2,622.1 148.7,624.6 149.1,620.0 149.5,629.1 150.0,631.7 150.4,629.2 150.9,631.0 151.3,623.5 151.8,621.8 152.2,635.6 152.6,640.7 153.1,628.4 153.5,627.6 154.0,636.4 154.4,627.8 154.9,619.9 155.3,623.7 155.7,636.2 156.2,639.1 156.6,628.8 157.1,627.2 157.5,636.3 158.0,635.5 158.4,628.9 158.8,631.5 159.3,624.3 159.7,624.3 160.2,627.7 160.6,625.5 161.1,633.3 161.5,633.2 161.9,628.4 162.4,627.5 162.8,634.7 163.3,630.5 163.7,622.9 164.2,630.6 164.6,638.4 165.0,637.1 165.5,631.3 165.9,634.7 166.4,635.5 166.8,641.8 167.3,649.7 167.7,649.2 168.1,639.1 168.6,628.7 169.0,631.9 169.5,628.7 169.9,627.8 170.4,637.8 170.8,635.9 171.2,630.5 171.7,642.0 172.1,644.9 172.6,640.6 173.0,639.5 173.5,634.6 173.9,633.1 174.3,637.3 174.8,636.5 175.2,635.7 175.7,636.5 176.1,636.1 176.6,645.4 177.0,648.8 177.4,636.1 177.9,632.6 178.3,647.0 178.8,656.2 179.2,642.9 179.7,636.8 180.1,642.3 180.5,629.2 181.0,630.7 181.4,651.1 181.9,646.8 182.3,636.6 182.8,644.3 183.2,643.9 183.6,637.8 184.1,641.2 184.5,637.0 185.0,638.1 185.4,638.9 185.8,637.1 186.3,646.9 186.7,654.3 187.2,647.3 187.6,641.1 188.1,645.9 188.5,636.9 188.9,635.6 189.4,644.9 189.8,648.0 190.3,656.1 190.7,654.3 191.2,645.4 191.6,644.7 192.0,645.1 192.5,647.8 192.9,655.1 193.4,648.4 193.8,641.7 194.3,635.8 194.7,628.4 195.1,639.9 195.6,638.1 196.0,639.0 196.5,654.4 196.9,649.3 197.4,640.4 197.8,644.4 198.2,645.4 198.7,645.3 199.1,644.6 199.6,648.9 200.0,653.5 200.5,649.5 200.9,638.2 201.3,635.4 201.8,645.8 202.2,652.2 202.7,649.2 203.1,648.9 203.6,655.7 204.0,650.4 204.4,650.0 204.9,652.0 205.3,643.9 205.8,644.6 206.2,655.4 206.7,657.5 207.1,651.8 207.5,653.9 208.0,657.1 208.4,654.3 208.9,643.0 209.3,631.0 209.8,631.9 210.2,650.5 210.6,660.9 211.1,646.6 211.5,647.1 212.0,647.7 212.4,645.1 212.9,655.5 213.3,654.1 213.7,653.6 214.2,658.1 214.6,647.1 215.1,642.8 215.5,652.5 216.0,650.6 216.4,642.5 216.8,651.2 217.3,658.4 217.7,649.4 218.2,644.4 218.6,646.8 219.1,656.0 219.5,654.2 219.9,651.3 220.4,654.9 220.8,651.9 221.3,650.8 221.7,652.2 222.2,648.1 222.6,641.7 223.0,649.0 223.5,661.8 223.9,661.4 224.4,651.5 224.8,649.3 225.3,650.9 225.7,644.8 226.1,642.9 226.6,646.6 227.0,653.6 227.5,651.3 227.9,654.1 228.4,659.4 228.8,659.8 229.2,664.2 229.7,660.0 230.1,656.5 230.6,657.2 231.0,658.2 231.5,660.2 231.9,667.1 232.3,667.0 232.8,666.2 233.2,667.8 233.7,659.6 234.1,657.8 234.6,662.4 235.0,664.2 235.4,660.0 235.9,661.1 236.3,660.3 236.8,655.0 237.2,660.6 237.7,662.3 238.1,655.9 238.5,649.8 239.0,651.5 239.4,654.2 239.9,665.9 240.3,664.6 240.8,649.3 241.2,663.6 241.6,662.7 242.1,650.7 242.5,660.3 243.0,663.1 243.4,662.5 243.9,669.3 244.3,678.3 244.7,672.7 245.2,664.2 245.6,662.1 246.1,658.3 246.5,657.8 247.0,661.2 247.4,661.1 247.8,661.6 248.3,661.8 248.7,655.9 249.2,656.5 249.6,660.2 250.1,659.6 250.5,659.0 250.9,663.6 251.4,660.0 251.8,661.8 252.3,665.0 252.7,660.6 253.2,668.8 253.6,673.7 254.0,660.4 254.5,658.0 254.9,672.1 255.4,666.6 255.8,658.9 256.3,669.1 256.7,665.6 257.1,667.6 257.6,667.5 258.0,656.9 258.5,660.4 258.9,661.8 259.4,667.7 259.8,671.5 260.2,669.1 260.7,668.3 261.1,660.6 261.6,657.0 262.0,668.8 262.5,666.5 262.9,668.0 263.3,672.5 263.8,661.9 264.2,666.2 264.7,674.0 265.1,667.7 265.6,661.9 266.0,661.1 266.4,660.9 266.9,654.5 267.3,654.3 267.8,670.0 268.2,670.8 268.7,666.9 269.1,672.8 269.5,671.8 270.0,666.1 270.4,663.0 270.9,662.7 271.3,666.5 271.8,667.3 272.2,669.2 272.6,678.7 273.1,677.7 273.5,663.7 274.0,663.0 274.4,668.3 274.9,665.1 275.3,662.7 275.7,663.3 276.2,680.7 276.6,695.5 277.1,689.2 277.5,671.5 278.0,664.6 278.4,673.3 278.8,671.2 279.3,669.2 279.7,675.5 280.2,679.6 280.6,676.7 281.1,671.4 281.5,668.4 281.9,665.4 282.4,667.0 282.8,668.0 283.3,670.8 283.7,672.7 284.2,668.2 284.6,673.3 285.0,672.9 285.5,669.0 285.9,672.6 286.4,667.4 286.8,665.2 287.3,668.8 287.7,666.4 288.1,659.5 288.6,673.5 289.0,676.5 289.5,663.5 289.9,665.1 290.4,666.5 290.8,671.3 291.2,674.9 291.7,668.5 292.1,666.6 292.6,672.0 293.0,669.6 293.5,671.6 293.9,673.5 294.3,672.7 294.8,667.0 295.2,670.8 295.7,674.6 296.1,662.5 296.6,659.4 297.0,660.4 297.4,665.7 297.9,659.3 298.3,653.7 298.8,668.3 299.2,677.9 299.7,668.5 300.1,663.8 300.5,669.5 301.0,667.8 301.4,664.4 301.9,669.0 302.3,670.3 302.8,667.6 303.2,672.1 303.6,667.1 304.1,659.6 304.5,673.4 305.0,673.0 305.4,668.0 305.9,677.5 306.3,673.0 306.7,666.4 307.2,665.5 307.6,663.5 308.1,663.9 308.5,666.1 308.9,663.6 309.4,662.8 309.8,668.7 310.3,670.2 310.7,665.5 311.2,673.7 311.6,674.5 312.0,668.7 312.5,664.9 312.9,657.5 313.4,663.3 313.8,672.0 314.3,656.8 314.7,655.4 315.1,671.7 315.6,668.7 316.0,668.0 316.5,663.1 316.9,661.8 317.4,661.4 317.8,658.5 318.2,661.5 318.7,663.0 319.1,658.6 319.6,658.9 320.0,666.2 320.5,669.8 320.9,665.5 321.3,662.5 321.8,662.0 322.2,661.8 322.7,661.7 323.1,654.6 323.6,654.7 324.0,665.9 324.4,674.7 324.9,668.0 325.3,662.0 325.8,663.2 326.2,656.0 326.7,662.8 327.1,665.0 327.5,650.9 328.0,654.0 328.4,654.8 328.9,656.6 329.3,663.4 329.8,660.3 330.2,657.8 330.6,656.3 331.1,647.9 331.5,644.7 332.0,660.3 332.4,664.9 332.9,647.9 333.3,643.1 333.7,647.0 334.2,654.7 334.6,658.5 335.1,661.1 335.5,668.4 336.0,664.4 336.4,658.1 336.8,660.4 337.3,655.8 337.7,648.8 338.2,643.0 338.6,647.1 339.1,650.1 339.5,647.5 339.9,661.4 340.4,653.9 340.8,640.8 341.3,641.8 341.7,638.6 342.2,645.7 342.6,643.2 343.0,641.0 343.5,648.0 343.9,650.9 344.4,642.4 344.8,632.0 345.3,643.6 345.7,640.7 346.1,636.8 346.6,649.3 347.0,641.5 347.5,631.5 347.9,641.6 348.4,640.3 348.8,639.7 349.2,650.0 349.7,646.2 350.1,640.3 350.6,639.6 351.0,636.6 351.5,639.9 351.9,645.6 352.3,641.6 352.8,639.4 353.2,632.9 353.7,627.0 354.1,623.2 354.6,624.3 355.0,637.1 355.4,640.4 355.9,633.9 356.3,630.5 356.8,630.4 357.2,636.2 357.7,632.4 358.1,632.6 358.5,639.5 359.0,627.1 359.4,627.0 359.9,636.2 360.3,631.2 360.8,635.3 361.2,633.0 361.6,622.9 362.1,626.8 362.5,630.1 363.0,627.8 363.4,629.0 363.9,626.5 364.3,624.0 364.7,625.4 365.2,622.6 365.6,618.2 366.1,616.9 366.5,613.9 367.0,607.4 367.4,612.7 367.8,622.0 368.3,617.6 368.7,615.6 369.2,629.4 369.6,629.3 370.1,621.8 370.5,618.4 370.9,606.9 371.4,605.4 371.8,613.9 372.3,610.5 372.7,610.8 373.2,612.2 373.6,614.8 374.0,618.2 374.5,615.4 374.9,616.4 375.4,614.3 375.8,619.2 376.3,614.6 376.7,603.7 377.1,607.9 377.6,611.6 378.0,605.4 378.5,608.6 378.9,613.0 379.4,610.9 379.8,608.7 380.2,603.1 380.7,606.3 381.1,606.1 381.6,601.5 382.0,604.4 382.5,610.5 382.9,608.0 383.3,606.4 383.8,604.0 384.2,603.9 384.7,603.6 385.1,603.3 385.6,602.5 386.0,602.1 386.4,610.8 386.9,610.2 387.3,598.7 387.8,604.6 388.2,609.0 388.7,593.0 389.1,603.8 389.5,610.6 390.0,605.5 390.4,609.3 390.9,614.7 391.3,620.7 391.8,605.0 392.2,600.2 392.6,603.4 393.1,601.4 393.5,605.4 394.0,605.3 394.4,601.2 394.9,605.0 395.3,614.2 395.7,615.2 396.2,620.1 396.6,616.0 397.1,603.9 397.5,605.1 398.0,598.0 398.4,596.4 398.8,602.1 399.3,598.3 399.7,597.9 400.2,597.5 400.6,604.3 401.1,602.1 401.5,596.5 401.9,604.2 402.4,607.3 402.8,612.8 403.3,614.3 403.7,617.3 404.2,620.7 404.6,607.5 405.0,603.5 405.5,615.3 405.9,610.8 406.4,600.5 406.8,599.1 407.3,603.7 407.7,616.8 408.1,623.0 408.6,618.9 409.0,608.9 409.5,611.4 409.9,617.1 410.4,620.0 410.8,622.0 411.2,623.8 411.7,620.3 412.1,615.3 412.6,617.4 413.0,615.3 413.5,617.8 413.9,612.3 414.3,603.7 414.8,600.3 415.2,607.1 415.7,621.5 416.1,623.2 416.6,626.8 417.0,625.5 417.4,614.6 417.9,615.6 418.3,620.4 418.8,619.9 419.2,624.0 419.7,619.6 420.1,611.5 420.5,615.2 421.0,624.2 421.4,621.4 421.9,622.2 422.3,631.8 422.8,624.6 423.2,616.2 423.6,617.8 424.1,614.0 424.5,621.4 425.0,629.2 425.4,627.5 425.9,624.2 426.3,620.5 426.7,622.9 427.2,629.4 427.6,625.7 428.1,624.2 428.5,629.4 429.0,624.2 429.4,616.6 429.8,616.4 430.3,622.3 430.7,625.7 431.2,625.4 431.6,620.2 432.0,626.4 432.5,630.1 432.9,624.2 433.4,624.0 433.8,628.2 434.3,626.6 434.7,623.8 435.1,631.2 435.6,631.3 436.0,615.1 436.5,618.9 436.9,634.1 437.4,634.9 437.8,633.3 438.2,619.9 438.7,611.7 439.1,620.9 439.6,625.5 440.0,625.1 440.5,618.8 440.9,616.0 441.3,620.1 441.8,627.3 442.2,638.4 442.7,627.6 443.1,618.9 443.6,621.9 444.0,625.9 444.4,631.3 444.9,629.5 445.3,629.1 445.8,624.5 446.2,621.2 446.7,623.2 447.1,630.6 447.5,640.8 448.0,641.6 448.4,632.2 448.9,634.9 449.3,637.6 449.8,631.2 450.2,630.2 450.6,626.0 451.1,619.4 451.5,620.5 452.0,626.0 452.4,629.9 452.9,625.5 453.3,623.8 453.7,621.4 454.2,627.9 454.6,633.2 455.1,623.1 455.5,628.4 456.0,633.1 456.4,625.6 456.8,632.9 457.3,633.8 457.7,628.1 458.2,629.3 458.6,630.6 459.1,636.4 459.5,630.0 459.9,623.3 460.4,631.4 460.8,635.5 461.3,634.3 461.7,634.7 462.2,635.4 462.6,636.4 463.0,629.5 463.5,633.6 463.9,635.4 464.4,629.0 464.8,630.3 465.3,635.0 465.7,630.4 466.1,625.1 466.6,627.8 467.0,626.3 467.5,622.0 467.9,611.0 468.4,612.1 468.8,628.0 469.2,630.7 469.7,624.4 470.1,623.8 470.6,629.3 471.0,629.4 471.5,624.1 471.9,626.7 472.3,632.5 472.8,631.9 473.2,628.0 473.7,619.0 474.1,610.9 474.6,618.2 475.0,622.7 475.4,619.9 475.9,623.3 476.3,628.7 476.8,639.8 477.2,632.6 477.7,621.2 478.1,635.3 478.5,631.0 479.0,623.3 479.4,621.9 479.9,624.6 480.3,626.1 480.8,623.3 481.2,629.9 481.6,625.3 482.1,615.4 482.5,613.7 483.0,620.6 483.4,626.4 483.9,629.1 484.3,622.8 484.7,625.3 485.2,631.2 485.6,625.2 486.1,620.3 486.5,615.9 487.0,609.0 487.4,610.7 487.8,619.8 488.3,628.7 488.7,632.3 489.2,620.5 489.6,620.0 490.1,620.3 490.5,626.5 490.9,642.6 491.4,635.2 491.8,621.5 492.3,625.8 492.7,630.1 493.2,626.4 493.6,625.6 494.0,620.3 494.5,621.9 494.9,630.1 495.4,628.1 495.8,621.2 496.3,618.5 496.7,623.0 497.1,628.9 497.6,624.3 498.0,614.4 498.5,617.1 498.9,620.9 499.4,619.8 499.8,629.5 500.2,634.5 500.7,617.3 501.1,607.0 501.6,615.5 502.0,611.9 502.5,602.8 502.9,608.1 503.3,614.2 503.8,614.2 504.2,617.0 504.7,615.0 505.1,612.5 505.6,614.6 506.0,619.6 506.4,611.2 506.9,608.4 507.3,608.5 507.8,599.7 508.2,609.0 508.7,616.8 509.1,616.5 509.5,614.3 510.0,612.9 510.4,609.6 510.9,609.9 511.3,618.9 511.8,608.7 512.2,601.4 512.6,606.9 513.1,600.9 513.5,602.5 514.0,608.5 514.4,597.4 514.9,587.8 515.3,599.7 515.7,608.4 516.2,614.6 516.6,613.6 517.1,612.6 517.5,612.4 518.0,601.9 518.4,604.6 518.8,608.0 519.3,606.4 519.7,596.8 520.2,598.8 520.6,609.0 521.1,608.1 521.5,610.3 521.9,616.4 522.4,614.0 522.8,605.9 523.3,610.2 523.7,615.5 524.2,612.6 524.6,606.1 525.0,602.3 525.5,600.6 525.9,599.3 526.4,605.6 526.8,606.3 527.3,605.0 527.7,603.4 528.1,604.7 528.6,607.7 529.0,609.3 529.5,612.0 529.9,607.5 530.4,602.0 530.8,597.9 531.2,598.9 531.7,600.1 532.1,598.2 532.6,601.4 533.0,607.2 533.5,603.4 533.9,607.6 534.3,608.6 534.8,595.1 535.2,593.9 535.7,600.4 536.1,599.9 536.6,600.5 537.0,597.8 537.4,595.8 537.9,599.3 538.3,601.3 538.8,599.5 539.2,594.9 539.7,596.7 540.1,600.9 540.5,599.9 541.0,597.8 541.4,593.7 541.9,600.9 542.3,601.6 542.8,606.9 543.2,610.7 543.6,605.0 544.1,603.9 544.5,600.2 545.0,602.9 545.4,599.4 545.9,593.3 546.3,592.6 546.7,591.8 547.2,600.3 547.6,602.3 548.1,603.6 548.5,606.9 549.0,591.6 549.4,601.0 549.8,613.5 550.3,603.4 550.7,596.1 551.2,595.0 551.6,602.1 552.1,598.8 552.5,591.8 552.9,602.3 553.4,613.2 553.8,606.0 554.3,595.1 554.7,594.5 555.2,600.8 555.6,600.6 556.0,595.5 556.5,601.0 556.9,604.9 557.4,606.4 557.8,600.0 558.2,597.1 558.7,602.2 559.1,605.3 559.6,610.1 560.0,610.7 560.5,601.0 560.9,597.9 561.3,596.3 561.8,601.6 562.2,605.6 562.7,598.7 563.1,601.0 563.6,599.2 564.0,600.9 564.4,606.5 564.9,604.4 565.3,601.3 565.8,585.6 566.2,583.5 566.7,600.3 567.1,603.3 567.5,585.4 568.0,586.9 568.4,606.5 568.9,600.4 569.3,591.9 569.8,595.1 570.2,594.5 570.6,589.3 571.1,587.7 571.5,597.8 572.0,603.9 572.4,595.4 572.9,590.0 573.3,595.4 573.7,598.5 574.2,594.3 574.6,595.5 575.1,595.3 575.5,597.6 576.0,604.0 576.4,596.4 576.8,587.4 577.3,595.0 577.7,595.4 578.2,593.3 578.6,603.6 579.1,606.2 579.5,604.7 579.9,607.6 580.4,607.8 580.8,603.9 581.3,605.8 581.7,602.0 582.2,592.6 582.6,597.9 583.0,596.8 583.5,594.6 583.9,596.1 584.4,600.2 584.8,604.9 585.3,605.1 585.7,600.3 586.1,587.5 586.6,594.9 587.0,609.8 587.5,600.8 587.9,588.6 588.4,584.2 588.8,594.1 589.2,596.3 589.7,592.1 590.1,598.5 590.6,594.8 591.0,592.6 591.5,592.9 591.9,597.2 592.3,605.5 592.8,607.8 593.2,595.1 593.7,583.5 594.1,587.6 594.6,594.9 595.0,600.3 595.4,589.2 595.9,586.4 596.3,599.5 596.8,599.2 597.2,594.9 597.7,586.7 598.1,593.7 598.5,604.1 599.0,596.0 599.4,591.6 599.9,597.0 600.3,604.7 600.8,600.2 601.2,588.8 601.6,592.0 602.1,594.8 602.5,592.0 603.0,593.9 603.4,589.7 603.9,596.7 604.3,596.2 604.7,596.8 605.2,598.5 605.6,591.4 606.1,595.3 606.5,598.2 607.0,593.9 607.4,600.3 607.8,604.1 608.3,603.6 608.7,608.3 609.2,601.1 609.6,594.2 610.1,596.4 610.5,601.7 610.9,596.4 611.4,594.0 611.8,600.5 612.3,605.9 612.7,602.5 613.2,597.1 613.6,594.0 614.0,589.3 614.5,597.0 614.9,603.5 615.4,598.2 615.8,602.6 616.3,607.8 616.7,595.0 617.1,580.9 617.6,588.7 618.0,596.4 618.5,600.2 618.9,597.4 619.4,596.2 619.8,604.1 620.2,596.4 620.7,603.3 621.1,605.0 621.6,596.2 622.0,597.6 622.5,595.4 622.9,593.4 623.3,592.1 623.8,598.2 624.2,594.2 624.7,591.8 625.1,599.2 625.6,600.2 626.0,600.3 626.4,608.7 626.9,608.9 627.3,600.0 627.8,596.8 628.2,603.4 628.7,612.3 629.1,602.3 629.5,592.2 630.0,592.0 630.4,600.9 630.9,606.5 631.3,605.6 631.8,600.5 632.2,597.2 632.6,601.6 633.1,606.7 633.5,603.2 634.0,586.9 634.4,589.4 634.9,606.0 635.3,615.2 635.7,601.3 636.2,595.8 636.6,608.9 637.1,607.7 637.5,602.3 638.0,603.6 638.4,605.6 638.8,610.4 639.3,608.0 639.7,609.5 640.2,612.3 640.6,601.9 641.1,606.7 641.5,609.4 641.9,608.8 642.4,611.3 642.8,605.7 643.3,602.3 643.7,613.1 644.2,609.5 644.6,602.7 645.0,612.9 645.5,614.2 645.9,614.6 646.4,608.1 646.8,606.2 647.3,614.9 647.7,604.3 648.1,601.6 648.6,607.0 649.0,602.3 649.5,607.9 649.9,612.3 650.4,614.7 650.8,615.2 651.2,601.7 651.7,597.4 652.1,606.8 652.6,612.8 653.0,608.8 653.5,608.0 653.9,607.7 654.3,610.8 654.8,615.0 655.2,611.5 655.7,598.9 656.1,597.5 656.6,609.9 657.0,606.4 657.4,603.2 657.9,609.7 658.3,609.5 658.8,607.3 659.2,601.2 659.7,603.1 660.1,603.7 660.5,592.7 661.0,601.2 661.4,606.2 661.9,600.5 662.3,605.6 662.8,609.9 663.2,614.5 663.6,616.5 664.1,615.6 664.5,611.4 665.0,607.5 665.4,624.2 665.9,625.4 666.3,609.4 666.7,605.5 667.2,607.5 667.6,612.0 668.1,604.6 668.5,606.1 669.0,616.8 669.4,611.9 669.8,614.0 670.3,605.2 670.7,609.3 671.2,620.2 671.6,617.1 672.1,612.6 672.5,610.3 672.9,614.5 673.4,617.1 673.8,611.8 674.3,617.2 674.7,624.2 675.2,622.0 675.6,621.7 676.0,615.1 676.5,614.7 676.9,619.0 677.4,621.8 677.8,613.7 678.3,608.3 678.7,614.5 679.1,612.1 679.6,612.1 680.0,614.3 680.5,616.4 680.9,621.6 681.3,620.0 681.8,617.0 682.2,619.5 682.7,619.4 683.1,621.2 683.6,617.6 684.0,612.8 684.4,616.0 684.9,621.3 685.3,626.9 685.8,624.0 686.2,618.1 686.7,614.7 687.1,613.0 687.5,609.8 688.0,620.4 688.4,619.0 688.9,614.8 689.3,623.9 689.8,625.5 690.2,628.7 690.6,618.7 691.1,616.3 691.5,631.0 692.0,622.3 692.4,614.9 692.9,618.2 693.3,615.4 693.7,619.9 694.2,619.8 694.6,618.0 695.1,623.7 695.5,615.9 696.0,610.3 696.4,616.1 696.8,625.7 697.3,626.8 697.7,622.2 698.2,615.2 698.6,624.1 699.1,632.8 699.5,626.6 699.9,631.8 700.4,631.3 700.8,623.0 701.3,617.2 701.7,626.8 702.2,624.2 702.6,622.6 703.0,637.8 703.5,631.5 703.9,621.8 704.4,627.2 704.8,631.9 705.3,630.5 705.7,640.8 706.1,638.4 706.6,632.1 707.0,645.6 707.5,641.3 707.9,627.1 708.4,636.6 708.8,638.6 709.2,634.4 709.7,630.0 710.1,625.9 710.6,622.8 711.0,615.1 711.5,618.8 711.9,624.9 712.3,634.4 712.8,640.4 713.2,635.5 713.7,623.0 714.1,610.3 714.6,619.6 715.0,633.4 715.4,630.3 715.9,636.4 716.3,642.8 716.8,646.3 717.2,649.8 717.7,650.1 718.1,644.3 718.5,634.7 719.0,630.8 719.4,633.3 719.9,639.0 720.3,632.9 720.8,630.7 721.2,639.9 721.6,647.8 722.1,645.2 722.5,637.4 723.0,637.4 723.4,644.8 723.9,638.9 724.3,636.8 724.7,639.2 725.2,635.2 725.6,645.9 726.1,645.9 726.5,641.5 727.0,639.2 727.4,632.6 727.8,643.2 728.3,649.4 728.7,644.5 729.2,644.0 729.6,643.0 730.1,645.5 730.5,648.0 730.9,643.5 731.4,639.7 731.8,645.8 732.3,647.3 732.7,646.5 733.2,645.5 733.6,646.8 734.0,648.0 734.5,637.8 734.9,635.2 735.4,647.0 735.8,663.3 736.3,658.1 736.7,638.2 737.1,644.6 737.6,663.7 738.0,658.1 738.5,647.2 738.9,649.6 739.4,656.7 739.8,649.5 740.2,647.6 740.7,656.7 741.1,653.3 741.6,652.6 742.0,656.0 742.5,661.6 742.9,652.9 743.3,647.5 743.8,657.4 744.2,653.2 744.7,654.1 745.1,663.9 745.6,660.0 746.0,650.0 746.4,646.1 746.9,650.7 747.3,657.1 747.8,659.7 748.2,658.0 748.7,661.5 749.1,661.6 749.5,657.8 750.0,658.2 750.4,660.2 750.9,658.4 751.3,654.0 751.8,654.7 752.2,659.2 752.6,654.0 753.1,652.1 753.5,656.5 754.0,652.3 754.4,659.6 754.9,664.1 755.3,649.7 755.7,656.9 756.2,669.1 756.6,652.2 757.1,653.2 757.5,667.2 758.0,664.9 758.4,666.9 758.8,664.8 759.3,665.8 759.7,665.4 760.2,661.8 760.6,663.9 761.1,663.9 761.5,664.3 761.9,659.6 762.4,661.7 762.8,665.0 763.3,665.3 763.7,661.0 764.2,663.5 764.6,664.0 765.0,655.2 765.5,658.4 765.9,668.9 766.4,672.3 766.8,667.5 767.3,669.0 767.7,666.9 768.1,665.7 768.6,671.8 769.0,671.8 769.5,663.7 769.9,671.4 770.4,677.9 770.8,664.4 771.2,660.9 771.7,682.7 772.1,687.8 772.6,669.1 773.0,660.9 773.5,659.5 773.9,667.0 774.3,677.6 774.8,681.2 775.2,678.5 775.7,677.5 776.1,677.9 776.6,676.5 777.0,679.3 777.4,678.5 777.9,678.0 778.3,669.0 778.8,658.9 779.2,672.0 779.7,679.0 780.1,670.4 780.5,678.7 781.0,694.4 781.4,687.2 781.9,679.3 782.3,675.8 782.8,667.3 783.2,670.1 783.6,674.3 784.1,675.1 784.5,677.7 785.0,676.0 785.4,677.5 785.9,686.2 786.3,681.6 786.7,675.7 787.2,686.1 787.6,688.2 788.1,683.6 788.5,680.7 789.0,676.6 789.4,674.8 789.8,682.8 790.3,684.5 790.7,687.5 791.2,694.1 791.6,690.4 792.1,690.8 792.5,688.4 792.9,692.2 793.4,691.3 793.8,686.7 794.3,689.5 794.7,687.0 795.2,683.7 795.6,684.5 796.0,684.4 796.5,688.2 796.9,692.0 797.4,690.6 797.8,688.9 798.3,686.0 798.7,687.6 799.1,685.2 799.6,684.9 800.0,682.1 800.5,679.3 800.9,687.1 801.4,684.1 801.8,670.8 802.2,677.7 802.7,695.0 803.1,692.3 803.6,685.2 804.0,686.8 804.5,691.6 804.9,687.5 805.3,683.5 805.8,688.5 806.2,696.2 806.7,697.4 807.1,688.5 807.5,683.9 808.0,681.4 808.4,677.5 808.9,676.6 809.3,682.3 809.8,687.9 810.2,686.7 810.6,689.5 811.1,692.7 811.5,691.0 812.0,700.9 812.4,698.4 812.9,691.3 813.3,698.3 813.7,693.4 814.2,686.6 814.6,690.5 815.1,693.0 815.5,694.0 816.0,695.1 816.4,697.2 816.8,694.6 817.3,688.2 817.7,690.6 818.2,697.2 818.6,693.4 819.1,692.2 819.5,696.5 819.9,694.5 820.4,693.5 820.8,696.7 821.3,699.5 821.7,699.8 822.2,696.8 822.6,695.6 823.0,698.6 823.5,698.5 823.9,693.1 824.4,697.4 824.8,705.9 825.3,701.3 825.7,702.3 826.1,698.8 826.6,694.0 827.0,694.0 827.5,686.2 827.9,690.4 828.4,696.1 828.8,695.6 829.2,702.0 829.7,708.2 830.1,705.4 830.6,701.9 831.0,704.4 831.5,703.8 831.9,697.4 832.3,698.6 832.8,702.6 833.2,710.0 833.7,707.2 834.1,702.6 834.6,709.8 835.0,704.4 835.4,707.0 835.9,714.2 836.3,713.9 836.8,714.5 837.2,709.2 837.7,698.1 838.1,701.8 838.5,709.7 839.0,698.8 839.4,689.9 839.9,692.6 840.3,696.6 840.8,696.7 841.2,694.3 841.6,694.2 842.1,699.7 842.5,705.6 843.0,702.0 843.4,702.1 843.9,700.4 844.3,690.1 844.7,695.3 845.2,701.5 845.6,698.3 846.1,699.5 846.5,706.2 847.0,712.1 847.4,708.6 847.8,703.7 848.3,709.0 848.7,711.0 849.2,704.5 849.6,700.3 850.1,699.8 850.5,701.0 850.9,701.9 851.4,699.4 851.8,706.3 852.3,720.0 852.7,714.5 853.2,701.9 853.6,704.6 854.0,698.7 854.5,691.7 854.9,699.9 855.4,707.6 855.8,713.7 856.3,711.4 856.7,710.9 857.1,707.8 857.6,701.8 858.0,704.0 858.5,709.9 858.9,711.0 859.4,712.5 859.8,708.9 860.2,706.4 860.7,714.3 861.1,710.0 861.6,711.1 862.0,713.8 862.5,706.8 862.9,709.9 863.3,711.2 863.8,711.8 864.2,705.5 864.7,702.6 865.1,714.2 865.6,707.7 866.0,711.4 866.4,716.7 866.9,715.5 867.3,715.6 867.8,713.6 868.2,718.3 868.7,716.8 869.1,707.7 869.5,708.3 870.0,708.0 870.4,706.8 870.9,714.4 871.3,712.2 871.8,711.4 872.2,708.8 872.6,713.9 873.1,717.3 873.5,717.4 874.0,726.4 874.4,725.6 874.9,722.8 875.3,715.4 875.7,705.5 876.2,712.1 876.6,712.2 877.1,714.3 877.5,717.9 878.0,720.8 878.4,723.0 878.8,716.6 879.3,724.5 879.7,727.7 880.2,722.1 880.6,722.3 881.1,716.7 881.5,707.0 881.9,716.8 882.4,719.7 882.8,712.3 883.3,709.8 883.7,713.0 884.2,710.7 884.6,707.7 885.0,718.1 885.5,722.2 885.9,723.3 886.4,718.1 886.8,716.0 887.3,714.2 887.7,715.2 888.1,723.9 888.6,720.9 889.0,720.3 889.5,722.1 889.9,716.5 890.4,716.4 890.8,716.9 891.2,715.0 891.7,714.7 892.1,725.1 892.6,723.9 893.0,714.2 893.5,721.1 893.9,718.4 894.3,713.0 894.8,718.6 895.2,717.6 895.7,714.6 896.1,713.9 896.6,711.9 897.0,711.2 897.4,706.2 897.9,712.2 898.3,718.6 898.8,713.7 899.2,709.6 899.7,709.1 900.1,711.9 900.5,705.1 901.0,710.0 901.4,718.5 901.9,711.3 902.3,710.8 902.8,714.1 903.2,717.4 903.6,717.0 904.1,719.3 904.5,718.1 905.0,717.1 905.4,717.9 905.9,713.9 906.3,718.7 906.7,721.7 907.2,718.3 907.6,718.9 908.1,718.1 908.5,712.2 909.0,718.1 909.4,722.1 909.8,709.8 910.3,710.3 910.7,717.4 911.2,720.3 911.6,721.8 912.1,723.4 912.5,726.6 912.9,714.2 913.4,718.8 913.8,728.4 914.3,722.8 914.7,727.5 915.2,723.2 915.6,716.8 916.0,715.1 916.5,720.5 916.9,728.4 917.4,727.8 917.8,717.1 918.3,704.4 918.7,713.0 919.1,729.5 919.6,730.9 920.0,722.8 920.5,720.2 920.9,714.6 921.4,719.2 921.8,723.8 922.2,717.4 922.7,718.0 923.1,717.0 923.6,712.0 924.0,712.6 924.5,719.1 924.9,718.9 925.3,715.9 925.8,723.1 926.2,729.3 926.7,724.6 927.1,721.5 927.6,732.2 928.0,722.0 928.4,723.7 928.9,736.1 929.3,722.5 929.8,717.1 930.2,714.7 930.6,714.1 931.1,716.9 931.5,725.5 932.0,729.8 932.4,724.5 932.9,727.2 933.3,724.5 933.7,722.1 934.2,724.3 934.6,725.6 935.1,721.4 935.5,713.9 936.0,724.9 936.4,726.8 936.8,723.4 937.3,725.9 937.7,725.9 938.2,717.3 938.6,708.8 939.1,706.9 939.5,712.3 939.9,712.1 940.4,715.1 940.8,719.1 941.3,711.9 941.7,718.5 942.2,729.7 942.6,729.6 943.0,721.1 943.5,725.6 943.9,726.4 944.4,718.2 944.8,715.4 945.3,715.3 945.7,722.3 946.1,720.6 946.6,718.6 947.0,718.2 947.5,719.4 947.9,717.3 948.4,716.0 948.8,725.7 949.2,718.5 949.7,713.4 950.1,716.7 950.6,718.4 951.0,725.4 951.5,723.6 951.9,714.8 952.3,728.7 952.8,733.3 953.2,721.4 953.7,723.4 954.1,728.4 954.6,724.3 955.0,721.1 955.4,724.5 955.9,726.5 956.3,723.3 956.8,717.6 957.2,716.2 957.7,721.9 958.1,726.1 958.5,729.0 959.0,725.6 959.4,727.4 959.9,727.5 960.3,720.1 960.8,728.8 961.2,725.9 961.6,723.9 962.1,732.3 962.5,719.7 963.0,708.6 963.4,718.3 963.9,722.5 964.3,724.1 964.7,727.9 965.2,719.2 965.6,719.7 966.1,729.0 966.5,722.7 967.0,723.0 967.4,729.5 967.8,725.5 968.3,719.6 968.7,722.9 969.2,726.6 969.6,732.2 970.1,727.3 970.5,716.4 970.9,717.8 971.4,727.7 971.8,733.1 972.3,735.3 972.7,727.3 973.2,716.6 973.6,721.1 974.0,728.3 974.5,724.6 974.9,720.9 975.4,725.2 975.8,723.9 976.3,723.2 976.7,726.4 977.1,730.5 977.6,725.6 978.0,725.8 978.5,731.3 978.9,729.2 979.4,722.6 979.8,724.3 980.2,725.1 980.7,720.2 981.1,728.1 981.6,734.2 982.0,732.0 982.5,729.4 982.9,731.5 983.3,731.3 983.8,729.9 984.2,723.5 984.7,712.2 985.1,716.9 985.6,723.9 986.0,720.4 986.4,724.4 986.9,725.5 987.3,725.6 987.8,735.4 988.2,730.5 988.7,722.9 989.1,722.9 989.5,714.9 990.0,715.2 990.4,721.2 990.9,720.7 991.3,720.5 991.8,720.1 992.2,726.6 992.6,728.2 993.1,717.1 993.5,721.7 994.0,732.5 994.4,734.1 994.9,731.6 995.3,726.6 995.7,729.1 996.2,732.3 996.6,728.9 997.1,728.5 997.5,732.6 998.0,739.3 998.4,737.4 998.8,731.2 999.3,723.6 999.7,719.3 1000.2,722.5 1000.6,719.9 1001.1,715.3 1001.5,725.2 1001.9,738.5 1002.4,734.5 1002.8,726.8 1003.3,724.7 1003.7,730.0 1004.2,730.8 1004.6,722.9 1005.0,722.2 1005.5,723.7 1005.9,724.6 1006.4,727.7 1006.8,730.7 1007.3,733.7 1007.7,729.0 1008.1,727.1 1008.6,728.1 1009.0,733.3 1009.5,737.7 1009.9,733.4 1010.4,730.8 1010.8,726.1 1011.2,723.4 1011.7,722.2 1012.1,730.0 1012.6,740.4 1013.0,739.5 1013.5,732.3 1013.9,720.3 1014.3,727.3 1014.8,736.5 1015.2,730.6 1015.7,727.5 1016.1,732.2 1016.6,733.6 1017.0,732.5 1017.4,724.5 1017.9,723.1 1018.3,728.7 1018.8,729.2 1019.2,735.3 1019.7,739.8 1020.1,735.2 1020.5,730.2 1021.0,735.2 1021.4,732.7 1021.9,730.5 1022.3,730.3 1022.8,725.0 1023.2,732.1 1023.6,734.5 1024.1,728.5 1024.5,732.0 1025.0,733.1 1025.4,728.5 1025.9,739.4 1026.3,746.9 1026.7,734.9 1027.2,732.6 1027.6,727.7 1028.1,720.0 1028.5,730.6 1029.0,739.5 1029.4,737.0 1029.8,733.7 1030.3,734.1 1030.7,733.3 1031.2,734.7 1031.6,739.8 1032.1,734.7 1032.5,733.9 1032.9,736.3 1033.4,732.5 1033.8,731.0 1034.3,734.2 1034.7,735.0 1035.2,733.6 1035.6,734.7 1036.0,729.0 1036.5,723.5 1036.9,732.9 1037.4,736.9 1037.8,735.1 1038.3,735.7 1038.7,735.9 1039.1,736.8 1039.6,735.8 1040.0,737.7 1040.5,740.1 1040.9,743.3 1041.4,746.4 1041.8,736.7 1042.2,733.8 1042.7,734.0 1043.1,728.7 1043.6,732.0 1044.0,736.5 1044.5,743.2 1044.9,740.8 1045.3,740.5 1045.8,740.8 1046.2,738.9 1046.7,736.4 1047.1,735.1 1047.6,736.5 1048.0,727.7 1048.4,731.1 1048.9,742.8 1049.3,732.2 1049.8,729.3 1050.2,739.7 1050.7,744.6 1051.1,740.9 1051.5,740.4 1052.0,744.5 1052.4,746.2 1052.9,743.4 1053.3,733.0 1053.7,734.8 1054.2,739.0 1054.6,733.3 1055.1,729.8 1055.5,736.2 1056.0,739.9 1056.4,740.6 1056.8,745.0 1057.3,741.1 1057.7,732.1 1058.2,728.7 1058.6,733.8 1059.1,741.5 1059.5,740.1 1059.9,737.5 1060.4,734.6 1060.8,725.3 1061.3,724.7 1061.7,736.8 1062.2,743.9 1062.6,739.6 1063.0,740.0 1063.5,749.5 1063.9,751.1 1064.4,746.3 1064.8,752.7 1065.3,748.1 1065.7,738.2 1066.1,743.8 1066.6,735.2 1067.0,726.9 1067.5,735.3 1067.9,747.8 1068.4,750.4 1068.8,743.0 1069.2,742.3 1069.7,740.7 1070.1,736.6 1070.6,735.3 1071.0,743.6 1071.5,746.2 1071.9,741.4 1072.3,736.2 1072.8,732.7 1073.2,735.0 1073.7,738.3 1074.1,743.3 1074.6,739.9 1075.0,738.6 1075.4,740.8 1075.9,735.6 1076.3,733.1 1076.8,739.1 1077.2,746.8 1077.7,743.8 1078.1,735.0 1078.5,740.2 1079.0,743.8 1079.4,746.2 1079.9,744.6 1080.3,744.5 1080.8,749.0 1081.2,740.9 1081.6,740.4 1082.1,744.0 1082.5,742.3 1083.0,746.9 1083.4,738.3 1083.9,728.3 1084.3,736.1 1084.7,736.5 1085.2,736.2 1085.6,736.9 1086.1,740.8 1086.5,739.4 1087.0,737.7 1087.4,745.5 1087.8,744.3 1088.3,746.7 1088.7,743.4 1089.2,735.3 1089.6,737.8 1090.1,735.4 1090.5,744.2 1090.9,747.7 1091.4,738.8 1091.8,736.7 1092.3,730.9 1092.7,738.2 1093.2,743.6 1093.6,738.0 1094.0,745.8 1094.5,749.8 1094.9,746.6 1095.4,740.9 1095.8,744.4 1096.3,747.8 1096.7,741.4 1097.1,744.1 1097.6,740.1 1098.0,738.0 1098.5,743.4 1098.9,741.2 1099.4,742.0 1099.8,750.0 1100.2,741.5 1100.7,737.6 1101.1,737.8 1101.6,737.0 1102.0,742.3 1102.5,747.3 1102.9,749.2 1103.3,746.6 1103.8,749.7 1104.2,748.0 1104.7,742.0 1105.1,745.5 1105.6,737.9 1106.0,729.3 1106.4,737.0 1106.9,749.1 1107.3,758.0 1107.8,748.6 1108.2,739.9 1108.7,738.3 1109.1,742.3 1109.5,742.8 1110.0,739.9 1110.4,740.2 1110.9,738.9 1111.3,734.9 1111.8,738.4 1112.2,741.2 1112.6,743.5 1113.1,748.7 1113.5,750.3 1114.0,750.4 1114.4,742.3 1114.9,736.1 1115.3,731.1" fill="none" stroke="#046CAF" stroke-width="6.0" stroke-linejoin="round" stroke-linecap="round"/>
<path d="M121.2,935.4 121.6,930.4 122.1,937.3 122.5,938.4 123.0,946.1 123.4,943.1 123.9,944.3 124.3,938.7 124.7,937.8 125.2,934.6 125.6,930.7 126.1,930.9 126.5,938.5 127.0,940.3 127.4,940.5 127.8,927.5 128.3,925.0 128.7,922.6 129.2,934.6 129.6,939.9 130.1,939.7 130.5,935.1 130.9,929.2 131.4,926.0 131.8,924.0 132.3,922.6 132.7,925.7 133.2,927.6 133.6,927.8 134.0,930.1 134.5,924.0 134.9,924.5 135.4,921.3 135.8,918.8 136.3,920.5 136.7,921.9 137.1,933.1 137.6,930.7 138.0,930.2 138.5,926.6 138.9,921.4 139.4,920.2 139.8,913.4 140.2,919.4 140.7,920.7 141.1,926.0 141.6,918.5 142.0,920.8 142.5,920.8 142.9,930.6 143.3,923.7 143.8,921.5 144.2,925.0 144.7,926.7 145.1,926.7 145.6,919.0 146.0,923.0 146.4,919.6 146.9,920.0 147.3,914.2 147.8,927.5 148.2,932.3 148.7,935.8 149.1,928.9 149.5,925.1 150.0,923.7 150.4,922.8 150.9,929.6 151.3,930.5 151.8,930.6 152.2,926.3 152.6,932.4 153.1,935.2 153.5,931.3 154.0,927.2 154.4,926.1 154.9,925.7 155.3,923.5 155.7,925.0 156.2,928.2 156.6,936.3 157.1,936.7 157.5,937.0 158.0,931.7 158.4,928.1 158.8,927.7 159.3,930.8 159.7,933.8 160.2,930.1 160.6,923.7 161.1,926.1 161.5,928.9 161.9,932.5 162.4,934.5 162.8,937.7 163.3,938.1 163.7,933.7 164.2,938.2 164.6,937.2 165.0,934.9 165.5,932.1 165.9,939.8 166.4,945.2 166.8,950.3 167.3,949.3 167.7,944.9 168.1,940.6 168.6,936.7 169.0,940.6 169.5,944.6 169.9,949.8 170.4,952.4 170.8,952.7 171.2,946.7 171.7,947.3 172.1,940.4 172.6,941.5 173.0,935.3 173.5,942.9 173.9,942.9 174.3,949.7 174.8,941.9 175.2,944.4 175.7,944.9 176.1,949.7 176.6,949.9 177.0,948.1 177.4,947.9 177.9,946.5 178.3,943.6 178.8,947.4 179.2,948.9 179.7,952.1 180.1,950.2 180.5,946.4 181.0,942.2 181.4,937.1 181.9,947.1 182.3,950.9 182.8,957.7 183.2,946.5 183.6,946.4 184.1,944.7 184.5,949.0 185.0,954.1 185.4,953.0 185.8,954.8 186.3,955.2 186.7,961.7 187.2,963.3 187.6,958.6 188.1,952.9 188.5,956.0 188.9,954.3 189.4,952.2 189.8,945.6 190.3,952.5 190.7,957.3 191.2,957.7 191.6,952.3 192.0,951.1 192.5,952.5 192.9,951.8 193.4,949.4 193.8,950.6 194.3,952.3 194.7,955.0 195.1,954.7 195.6,954.6 196.0,956.3 196.5,959.2 196.9,955.4 197.4,955.1 197.8,952.3 198.2,955.6 198.7,957.3 199.1,959.8 199.6,965.0 200.0,961.1 200.5,966.2 200.9,966.2 201.3,966.2 201.8,966.7 202.2,962.6 202.7,969.5 203.1,962.7 203.6,963.5 204.0,956.5 204.4,954.4 204.9,953.5 205.3,957.2 205.8,960.3 206.2,958.2 206.7,957.8 207.1,953.5 207.5,960.5 208.0,958.5 208.4,962.7 208.9,965.0 209.3,960.1 209.8,968.1 210.2,974.3 210.6,984.4 211.1,979.3 211.5,967.5 212.0,967.6 212.4,965.3 212.9,966.8 213.3,960.9 213.7,966.1 214.2,969.8 214.6,967.9 215.1,963.3 215.5,956.5 216.0,964.2 216.4,961.7 216.8,965.8 217.3,964.7 217.7,967.1 218.2,963.5 218.6,960.4 219.1,956.8 219.5,965.4 219.9,969.9 220.4,968.7 220.8,960.5 221.3,964.8 221.7,972.6 222.2,975.3 222.6,971.2 223.0,970.3 223.5,973.9 223.9,969.8 224.4,974.0 224.8,972.3 225.3,969.8 225.7,964.5 226.1,962.7 226.6,967.9 227.0,969.0 227.5,970.4 227.9,966.5 228.4,966.4 228.8,964.3 229.2,972.2 229.7,967.9 230.1,968.9 230.6,962.2 231.0,962.7 231.5,964.9 231.9,967.6 232.3,971.5 232.8,975.1 233.2,972.3 233.7,973.3 234.1,968.8 234.6,971.5 235.0,966.0 235.4,961.9 235.9,963.7 236.3,964.1 236.8,971.5 237.2,973.8 237.7,975.8 238.1,973.4 238.5,969.1 239.0,975.8 239.4,981.6 239.9,983.6 240.3,981.6 240.8,978.8 241.2,973.2 241.6,970.3 242.1,969.1 242.5,970.6 243.0,976.2 243.4,970.4 243.9,971.3 244.3,966.4 244.7,971.5 245.2,969.1 245.6,967.5 246.1,966.5 246.5,969.6 247.0,972.7 247.4,968.8 247.8,964.9 248.3,953.9 248.7,952.2 249.2,953.9 249.6,958.0 250.1,960.7 250.5,964.7 250.9,967.8 251.4,971.9 251.8,971.5 252.3,973.1 252.7,972.5 253.2,973.0 253.6,968.5 254.0,971.3 254.5,962.9 254.9,968.0 255.4,961.0 255.8,964.8 256.3,964.6 256.7,965.3 257.1,966.4 257.6,965.6 258.0,964.0 258.5,965.3 258.9,962.0 259.4,966.7 259.8,962.2 260.2,966.5 260.7,963.3 261.1,971.7 261.6,968.0 262.0,973.5 262.5,967.7 262.9,965.7 263.3,966.4 263.8,970.8 264.2,981.3 264.7,975.6 265.1,975.4 265.6,974.9 266.0,976.9 266.4,983.2 266.9,977.9 267.3,980.6 267.8,969.0 268.2,967.6 268.7,963.4 269.1,966.0 269.5,969.1 270.0,971.9 270.4,965.5 270.9,965.0 271.3,961.6 271.8,962.5 272.2,959.8 272.6,963.5 273.1,970.5 273.5,967.9 274.0,963.6 274.4,960.2 274.9,968.8 275.3,969.6 275.7,968.5 276.2,964.0 276.6,956.8 277.1,959.3 277.5,962.2 278.0,971.1 278.4,965.0 278.8,969.4 279.3,969.9 279.7,975.2 280.2,967.2 280.6,967.9 281.1,967.8 281.5,967.6 281.9,966.9 282.4,963.9 282.8,966.7 283.3,961.7 283.7,966.4 284.2,967.3 284.6,971.9 285.0,973.0 285.5,968.5 285.9,964.4 286.4,965.0 286.8,965.7 287.3,965.4 287.7,960.4 288.1,958.6 288.6,963.4 289.0,966.8 289.5,973.4 289.9,967.6 290.4,965.9 290.8,960.9 291.2,957.8 291.7,957.3 292.1,959.3 292.6,963.0 293.0,959.1 293.5,964.3 293.9,962.5 294.3,970.9 294.8,964.4 295.2,969.8 295.7,963.3 296.1,959.0 296.6,961.9 297.0,969.2 297.4,969.4 297.9,968.4 298.3,962.4 298.8,967.2 299.2,962.6 299.7,960.2 300.1,952.6 300.5,947.6 301.0,949.1 301.4,952.9 301.9,954.3 302.3,949.3 302.8,947.2 303.2,951.8 303.6,959.2 304.1,964.5 304.5,963.2 305.0,962.4 305.4,955.2 305.9,959.6 306.3,957.4 306.7,958.4 307.2,950.2 307.6,946.2 308.1,947.4 308.5,952.6 308.9,953.4 309.4,957.0 309.8,954.6 310.3,951.4 310.7,944.9 311.2,941.3 311.6,944.9 312.0,953.7 312.5,963.7 312.9,965.6 313.4,960.7 313.8,950.8 314.3,953.2 314.7,949.5 315.1,950.2 315.6,946.8 316.0,951.9 316.5,954.0 316.9,946.4 317.4,944.7 317.8,942.4 318.2,950.4 318.7,953.2 319.1,949.4 319.6,948.8 320.0,947.2 320.5,947.2 320.9,950.4 321.3,949.3 321.8,954.7 322.2,947.9 322.7,947.0 323.1,948.0 323.6,947.7 324.0,944.2 324.4,939.0 324.9,941.9 325.3,944.5 325.8,949.5 326.2,949.5 326.7,946.9 327.1,943.9 327.5,939.8 328.0,943.7 328.4,940.3 328.9,940.0 329.3,936.7 329.8,933.4 330.2,936.9 330.6,940.2 331.1,947.3 331.5,947.5 332.0,944.3 332.4,941.8 332.9,938.9 333.3,933.2 333.7,933.4 334.2,935.4 334.6,943.9 335.1,940.9 335.5,938.6 336.0,933.5 336.4,932.8 336.8,929.5 337.3,926.0 337.7,925.6 338.2,931.0 338.6,926.3 339.1,922.8 339.5,913.0 339.9,918.2 340.4,922.7 340.8,923.3 341.3,924.3 341.7,918.8 342.2,925.6 342.6,922.4 343.0,927.7 343.5,918.4 343.9,920.1 344.4,917.1 344.8,918.8 345.3,910.7 345.7,912.0 346.1,915.2 346.6,918.1 347.0,917.9 347.5,917.9 347.9,921.6 348.4,915.0 348.8,913.4 349.2,909.7 349.7,909.7 350.1,907.1 350.6,904.0 351.0,908.3 351.5,906.3 351.9,907.9 352.3,906.1 352.8,910.9 353.2,910.7 353.7,903.3 354.1,901.1 354.6,898.7 355.0,904.6 355.4,899.6 355.9,896.9 356.3,888.4 356.8,887.5 357.2,889.9 357.7,891.5 358.1,888.3 358.5,882.9 359.0,883.2 359.4,884.2 359.9,887.9 360.3,886.4 360.8,885.8 361.2,879.5 361.6,882.4 362.1,881.0 362.5,879.1 363.0,872.6 363.4,871.2 363.9,877.8 364.3,879.9 364.7,884.3 365.2,881.5 365.6,878.0 366.1,870.2 366.5,873.1 367.0,872.6 367.4,871.7 367.8,863.2 368.3,860.8 368.7,864.7 369.2,869.3 369.6,869.4 370.1,871.5 370.5,871.0 370.9,872.5 371.4,862.5 371.8,857.8 372.3,856.9 372.7,862.5 373.2,861.9 373.6,865.2 374.0,869.7 374.5,868.1 374.9,863.1 375.4,859.1 375.8,866.1 376.3,861.9 376.7,856.1 377.1,845.6 377.6,851.7 378.0,853.3 378.5,855.3 378.9,854.5 379.4,857.2 379.8,849.9 380.2,843.9 380.7,837.6 381.1,846.3 381.6,851.9 382.0,854.5 382.5,859.6 382.9,858.3 383.3,855.3 383.8,847.5 384.2,841.0 384.7,842.5 385.1,846.3 385.6,848.9 386.0,852.0 386.4,846.5 386.9,851.8 387.3,848.8 387.8,857.7 388.2,856.7 388.7,858.0 389.1,852.0 389.5,847.9 390.0,845.5 390.4,843.9 390.9,842.8 391.3,848.3 391.8,854.3 392.2,860.4 392.6,858.6 393.1,851.8 393.5,842.4 394.0,842.4 394.4,848.1 394.9,857.8 395.3,858.9 395.7,859.6 396.2,856.2 396.6,855.8 397.1,855.7 397.5,862.4 398.0,862.7 398.4,861.9 398.8,858.2 399.3,854.1 399.7,852.8 400.2,855.0 400.6,852.2 401.1,850.8 401.5,850.8 401.9,854.6 402.4,852.8 402.8,852.2 403.3,856.2 403.7,862.4 404.2,862.3 404.6,856.8 405.0,863.5 405.5,860.8 405.9,863.1 406.4,857.8 406.8,862.1 407.3,864.7 407.7,863.8 408.1,864.4 408.6,865.7 409.0,863.1 409.5,862.0 409.9,862.3 410.4,866.0 410.8,866.0 411.2,862.5 411.7,863.4 412.1,866.1 412.6,870.8 413.0,865.5 413.5,865.4 413.9,869.5 414.3,876.4 414.8,874.9 415.2,872.3 415.7,871.6 416.1,872.8 416.6,874.2 417.0,876.1 417.4,875.7 417.9,879.9 418.3,882.4 418.8,880.3 419.2,875.3 419.7,872.8 420.1,870.8 420.5,868.2 421.0,871.8 421.4,879.3 421.9,884.4 422.3,882.4 422.8,883.0 423.2,880.8 423.6,877.1 424.1,872.5 424.5,872.0 425.0,878.3 425.4,886.3 425.9,892.6 426.3,890.2 426.7,885.5 427.2,886.3 427.6,889.9 428.1,894.1 428.5,891.6 429.0,887.9 429.4,890.2 429.8,884.4 430.3,885.0 430.7,883.6 431.2,889.0 431.6,894.9 432.0,894.8 432.5,893.2 432.9,887.1 433.4,880.5 433.8,886.2 434.3,889.3 434.7,897.5 435.1,891.4 435.6,888.7 436.0,888.9 436.5,891.2 436.9,894.3 437.4,897.4 437.8,900.5 438.2,902.2 438.7,899.3 439.1,897.3 439.6,898.7 440.0,899.0 440.5,907.2 440.9,907.5 441.3,902.9 441.8,895.9 442.2,892.0 442.7,900.7 443.1,901.6 443.6,900.9 444.0,896.3 444.4,899.7 444.9,905.5 445.3,907.2 445.8,905.1 446.2,899.7 446.7,898.4 447.1,897.8 447.5,899.1 448.0,900.8 448.4,898.5 448.9,903.6 449.3,901.4 449.8,901.9 450.2,896.4 450.6,897.5 451.1,901.2 451.5,905.1 452.0,904.3 452.4,903.9 452.9,900.5 453.3,902.4 453.7,903.5 454.2,906.9 454.6,905.9 455.1,902.6 455.5,903.1 456.0,904.6 456.4,902.2 456.8,899.0 457.3,898.6 457.7,904.1 458.2,906.7 458.6,911.2 459.1,908.1 459.5,912.3 459.9,908.0 460.4,912.1 460.8,907.7 461.3,909.7 461.7,905.3 462.2,910.4 462.6,908.8 463.0,912.7 463.5,903.3 463.9,904.8 464.4,903.7 464.8,911.9 465.3,913.4 465.7,914.1 466.1,908.7 466.6,911.6 467.0,912.2 467.5,918.8 467.9,918.2 468.4,923.2 468.8,917.4 469.2,912.0 469.7,907.4 470.1,909.2 470.6,914.2 471.0,916.3 471.5,920.1 471.9,919.1 472.3,919.6 472.8,919.5 473.2,919.6 473.7,917.3 474.1,919.4 474.6,918.4 475.0,915.9 475.4,908.0 475.9,910.4 476.3,913.7 476.8,917.6 477.2,913.0 477.7,914.6 478.1,918.5 478.5,922.9 479.0,919.8 479.4,916.9 479.9,916.6 480.3,916.9 480.8,914.3 481.2,911.0 481.6,918.2 482.1,924.9 482.5,927.7 483.0,923.6 483.4,923.0 483.9,926.1 484.3,927.7 484.7,922.7 485.2,917.7 485.6,915.8 486.1,920.1 486.5,924.1 487.0,924.0 487.4,920.2 487.8,922.8 488.3,920.9 488.7,923.2 489.2,919.8 489.6,923.3 490.1,926.7 490.5,921.4 490.9,913.2 491.4,910.8 491.8,918.4 492.3,927.7 492.7,928.4 493.2,925.7 493.6,922.9 494.0,926.1 494.5,924.4 494.9,927.7 495.4,922.2 495.8,924.0 496.3,918.6 496.7,918.3 497.1,916.3 497.6,914.5 498.0,912.3 498.5,909.2 498.9,915.2 499.4,915.0 499.8,918.4 500.2,920.2 500.7,924.4 501.1,924.4 501.6,922.6 502.0,921.7 502.5,924.3 502.9,919.8 503.3,921.2 503.8,920.2 504.2,921.3 504.7,916.8 505.1,915.5 505.6,914.4 506.0,917.0 506.4,918.1 506.9,918.2 507.3,921.2 507.8,923.0 508.2,921.8 508.7,922.4 509.1,918.7 509.5,918.6 510.0,915.1 510.4,919.9 510.9,927.5 511.3,926.2 511.8,924.4 512.2,921.4 512.6,926.4 513.1,928.2 513.5,929.2 514.0,926.9 514.4,925.5 514.9,924.9 515.3,923.6 515.7,921.3 516.2,924.1 516.6,924.8 517.1,926.9 517.5,922.7 518.0,923.3 518.4,921.3 518.8,922.9 519.3,921.4 519.7,925.8 520.2,920.3 520.6,924.1 521.1,921.7 521.5,923.8 521.9,921.8 522.4,920.4 522.8,923.8 523.3,921.8 523.7,923.0 524.2,921.9 524.6,921.6 525.0,919.8 525.5,921.5 525.9,924.3 526.4,927.6 526.8,925.3 527.3,923.7 527.7,922.4 528.1,923.9 528.6,923.7 529.0,924.4 529.5,922.7 529.9,924.0 530.4,920.2 530.8,920.8 531.2,918.3 531.7,919.8 532.1,922.6 532.6,920.5 533.0,920.7 533.5,918.0 533.9,922.3 534.3,920.6 534.8,918.1 535.2,915.2 535.7,917.3 536.1,920.8 536.6,926.3 537.0,930.6 537.4,931.7 537.9,928.6 538.3,926.8 538.8,926.3 539.2,925.3 539.7,922.5 540.1,925.7 540.5,927.3 541.0,926.5 541.4,925.1 541.9,921.9 542.3,922.8 542.8,920.7 543.2,922.5 543.6,922.5 544.1,920.7 544.5,919.4 545.0,917.4 545.4,919.4 545.9,923.8 546.3,924.5 546.7,925.3 547.2,924.5 547.6,923.8 548.1,924.8 548.5,925.0 549.0,927.8 549.4,924.1 549.8,923.6 550.3,924.7 550.7,924.7 551.2,917.8 551.6,919.7 552.1,915.1 552.5,920.4 552.9,911.6 553.4,916.7 553.8,915.5 554.3,921.4 554.7,923.3 555.2,926.1 555.6,923.7 556.0,924.8 556.5,924.9 556.9,925.2 557.4,924.2 557.8,921.1 558.2,923.6 558.7,920.0 559.1,922.4 559.6,925.1 560.0,926.9 560.5,927.0 560.9,928.3 561.3,935.6 561.8,932.6 562.2,927.5 562.7,916.3 563.1,915.4 563.6,920.4 564.0,924.8 564.4,927.5 564.9,922.6 565.3,926.0 565.8,924.1 566.2,923.3 566.7,920.2 567.1,921.6 567.5,924.1 568.0,928.3 568.4,928.7 568.9,928.6 569.3,928.5 569.8,930.0 570.2,927.4 570.6,925.7 571.1,927.3 571.5,933.6 572.0,932.0 572.4,932.8 572.9,932.1 573.3,927.7 573.7,925.0 574.2,926.5 574.6,929.2 575.1,932.6 575.5,927.8 576.0,926.5 576.4,917.8 576.8,916.7 577.3,917.0 577.7,926.9 578.2,923.3 578.6,928.7 579.1,924.1 579.5,931.7 579.9,926.3 580.4,927.6 580.8,923.3 581.3,928.4 581.7,931.3 582.2,934.8 582.6,933.3 583.0,932.0 583.5,932.4 583.9,930.9 584.4,924.1 584.8,921.7 585.3,918.2 585.7,921.3 586.1,928.2 586.6,937.0 587.0,937.8 587.5,933.0 587.9,933.3 588.4,934.7 588.8,929.8 589.2,922.3 589.7,925.7 590.1,933.3 590.6,940.3 591.0,938.5 591.5,936.2 591.9,934.1 592.3,932.3 592.8,932.5 593.2,933.1 593.7,931.6 594.1,935.6 594.6,936.0 595.0,940.7 595.4,934.6 595.9,933.4 596.3,930.5 596.8,929.7 597.2,928.3 597.7,934.5 598.1,938.0 598.5,941.2 599.0,936.6 599.4,936.3 599.9,933.2 600.3,934.0 600.8,931.9 601.2,934.6 601.6,930.5 602.1,930.7 602.5,928.9 603.0,933.2 603.4,932.5 603.9,933.8 604.3,933.7 604.7,938.0 605.2,938.0 605.6,937.5 606.1,935.7 606.5,932.7 607.0,933.3 607.4,932.5 607.8,935.6 608.3,938.2 608.7,941.1 609.2,941.4 609.6,937.5 610.1,934.6 610.5,931.3 610.9,932.1 611.4,936.7 611.8,940.5 612.3,938.4 612.7,937.5 613.2,934.6 613.6,934.8 614.0,934.9 614.5,938.4 614.9,943.9 615.4,939.5 615.8,938.9 616.3,935.9 616.7,938.2 617.1,937.5 617.6,933.0 618.0,933.3 618.5,931.3 618.9,935.7 619.4,933.7 619.8,937.6 620.2,938.1 620.7,940.0 621.1,938.3 621.6,936.3 622.0,939.0 622.5,940.1 622.9,941.8 623.3,939.4 623.8,938.4 624.2,938.7 624.7,937.9 625.1,935.1 625.6,930.5 626.0,928.4 626.4,933.4 626.9,936.1 627.3,940.7 627.8,941.9 628.2,944.2 628.7,942.6 629.1,939.5 629.5,941.3 630.0,940.3 630.4,942.0 630.9,944.7 631.3,948.1 631.8,948.2 632.2,944.7 632.6,942.9 633.1,938.9 633.5,939.9 634.0,942.3 634.4,942.2 634.9,940.8 635.3,941.9 635.7,947.2 636.2,948.7 636.6,944.5 637.1,940.9 637.5,939.6 638.0,943.9 638.4,944.8 638.8,948.7 639.3,944.0 639.7,944.2 640.2,943.0 640.6,942.5 641.1,945.3 641.5,944.1 641.9,948.5 642.4,947.1 642.8,945.7 643.3,942.0 643.7,941.6 644.2,940.9 644.6,940.5 645.0,938.5 645.5,941.3 645.9,943.5 646.4,944.6 646.8,943.0 647.3,940.3 647.7,943.4 648.1,945.7 648.6,953.8 649.0,952.3 649.5,952.6 649.9,947.4 650.4,946.4 650.8,943.4 651.2,945.0 651.7,945.7 652.1,947.4 652.6,945.4 653.0,944.4 653.5,945.8 653.9,944.9 654.3,946.3 654.8,947.5 655.2,950.7 655.7,952.2 656.1,948.7 656.6,946.8 657.0,948.2 657.4,948.8 657.9,950.6 658.3,950.1 658.8,948.7 659.2,948.8 659.7,940.5 660.1,945.4 660.5,947.5 661.0,951.6 661.4,949.3 661.9,947.4 662.3,947.7 662.8,946.3 663.2,944.4 663.6,945.7 664.1,945.8 664.5,948.5 665.0,948.6 665.4,948.3 665.9,945.8 666.3,944.3 666.7,945.8 667.2,951.1 667.6,956.5 668.1,954.1 668.5,951.3 669.0,947.6 669.4,952.3 669.8,948.1 670.3,952.6 670.7,947.6 671.2,952.7 671.6,953.0 672.1,956.7 672.5,958.8 672.9,955.8 673.4,959.1 673.8,955.2 674.3,955.8 674.7,953.8 675.2,960.1 675.6,958.9 676.0,956.2 676.5,954.0 676.9,955.9 677.4,956.3 677.8,953.4 678.3,955.1 678.7,955.1 679.1,953.9 679.6,953.2 680.0,956.2 680.5,957.1 680.9,956.0 681.3,957.3 681.8,956.1 682.2,954.6 682.7,955.1 683.1,959.6 683.6,965.3 684.0,963.5 684.4,962.3 684.9,960.1 685.3,956.5 685.8,954.1 686.2,954.4 686.7,958.9 687.1,962.9 687.5,963.2 688.0,962.4 688.4,958.6 688.9,958.5 689.3,958.9 689.8,958.1 690.2,958.9 690.6,959.1 691.1,963.7 691.5,960.5 692.0,959.1 692.4,963.7 692.9,964.7 693.3,965.4 693.7,961.7 694.2,958.5 694.6,959.6 695.1,959.3 695.5,965.6 696.0,966.8 696.4,962.8 696.8,961.8 697.3,961.8 697.7,960.5 698.2,961.2 698.6,959.5 699.1,964.7 699.5,964.3 699.9,965.3 700.4,966.2 700.8,967.1 701.3,969.6 701.7,969.7 702.2,967.6 702.6,969.2 703.0,969.0 703.5,967.9 703.9,966.0 704.4,966.6 704.8,971.7 705.3,973.6 705.7,973.7 706.1,970.8 706.6,970.3 707.0,969.2 707.5,970.7 707.9,970.1 708.4,970.4 708.8,970.0 709.2,971.9 709.7,973.4 710.1,975.7 710.6,972.7 711.0,972.6 711.5,970.8 711.9,972.0 712.3,972.1 712.8,973.2 713.2,972.0 713.7,977.7 714.1,980.2 714.6,980.2 715.0,972.5 715.4,972.3 715.9,973.9 716.3,975.8 716.8,975.4 717.2,974.2 717.7,979.0 718.1,978.2 718.5,977.6 719.0,971.3 719.4,974.9 719.9,976.3 720.3,979.0 720.8,976.4 721.2,975.9 721.6,974.3 722.1,972.6 722.5,975.0 723.0,977.7 723.4,977.7 723.9,976.6 724.3,979.8 724.7,983.7 725.2,984.0 725.6,981.7 726.1,979.8 726.5,981.6 727.0,985.4 727.4,984.8 727.8,985.1 728.3,981.4 728.7,983.2 729.2,982.4 729.6,980.6 730.1,978.9 730.5,975.1 730.9,974.8 731.4,975.4 731.8,981.2 732.3,985.2 732.7,986.2 733.2,983.6 733.6,979.9 734.0,977.0 734.5,978.6 734.9,982.2 735.4,985.3 735.8,983.3 736.3,980.3 736.7,983.6 737.1,986.6 737.6,988.0 738.0,987.0 738.5,986.7 738.9,984.5 739.4,983.4 739.8,983.8 740.2,989.6 740.7,987.8 741.1,988.9 741.6,987.9 742.0,990.2 742.5,988.9 742.9,987.8 743.3,987.0 743.8,987.4 744.2,988.8 744.7,989.1 745.1,987.6 745.6,985.7 746.0,985.4 746.4,986.2 746.9,987.2 747.3,985.0 747.8,986.4 748.2,990.3 748.7,995.0 749.1,993.4 749.5,986.9 750.0,984.9 750.4,985.6 750.9,988.6 751.3,987.4 751.8,986.3 752.2,987.6 752.6,988.9 753.1,992.9 753.5,989.7 754.0,987.1 754.4,986.1 754.9,986.5 755.3,988.3 755.7,988.9 756.2,990.1 756.6,993.2 757.1,990.7 757.5,991.9 758.0,991.4 758.4,994.6 758.8,995.9 759.3,994.5 759.7,992.1 760.2,992.6 760.6,995.4 761.1,998.1 761.5,993.8 761.9,989.0 762.4,987.4 762.8,988.2 763.3,990.4 763.7,990.5 764.2,992.1 764.6,993.4 765.0,996.5 765.5,995.0 765.9,995.1 766.4,990.8 766.8,992.3 767.3,990.0 767.7,992.3 768.1,992.4 768.6,997.8 769.0,999.0 769.5,996.9 769.9,995.1 770.4,992.8 770.8,995.3 771.2,996.4 771.7,1001.3 772.1,999.7 772.6,995.7 773.0,990.0 773.5,993.3 773.9,994.1 774.3,997.5 774.8,992.0 775.2,991.4 775.7,991.5 776.1,998.4 776.6,998.1 777.0,993.9 777.4,990.9 777.9,992.3 778.3,994.2 778.8,993.7 779.2,999.6 779.7,1002.4 780.1,1002.5 780.5,996.4 781.0,994.7 781.4,997.2 781.9,1001.8 782.3,1004.2 782.8,1003.9 783.2,1000.0 783.6,999.7 784.1,1000.9 784.5,1000.1 785.0,994.9 785.4,992.8 785.9,995.2 786.3,998.1 786.7,997.6 787.2,995.2 787.6,998.5 788.1,999.3 788.5,999.3 789.0,994.5 789.4,995.5 789.8,995.4 790.3,1000.2 790.7,996.6 791.2,997.0 791.6,991.1 792.1,994.9 792.5,993.7 792.9,994.0 793.4,994.1 793.8,999.0 794.3,1000.7 794.7,1002.3 795.2,1002.1 795.6,999.8 796.0,998.5 796.5,999.8 796.9,1003.8 797.4,1001.0 797.8,997.7 798.3,996.0 798.7,998.3 799.1,1001.0 799.6,1003.2 800.0,1003.6 800.5,1005.4 800.9,1005.2 801.4,1007.1 801.8,1001.4 802.2,1000.1 802.7,999.2 803.1,1003.9 803.6,1007.2 804.0,1007.6 804.5,1005.7 804.9,1005.1 805.3,1005.4 805.8,1004.8 806.2,999.7 806.7,996.1 807.1,1000.1 807.5,1003.6 808.0,1004.8 808.4,999.6 808.9,1000.1 809.3,999.6 809.8,1002.9 810.2,1003.5 810.6,1001.1 811.1,998.0 811.5,996.9 812.0,999.4 812.4,1000.4 812.9,1001.3 813.3,1001.8 813.7,1000.2 814.2,1000.0 814.6,1000.0 815.1,1000.8 815.5,999.2 816.0,1003.5 816.4,1005.2 816.8,1005.0 817.3,1001.0 817.7,999.5 818.2,1000.0 818.6,999.8 819.1,1002.4 819.5,1003.4 819.9,1003.2 820.4,1004.2 820.8,1005.1 821.3,1006.6 821.7,1004.9 822.2,1004.3 822.6,1005.6 823.0,1004.1 823.5,1003.0 823.9,1002.4 824.4,1001.5 824.8,1001.3 825.3,1001.3 825.7,1007.5 826.1,1009.4 826.6,1009.8 827.0,1004.1 827.5,1003.3 827.9,1006.5 828.4,1009.0 828.8,1010.5 829.2,1005.5 829.7,1007.0 830.1,1007.6 830.6,1010.5 831.0,1010.6 831.5,1009.1 831.9,1006.3 832.3,1004.6 832.8,1005.5 833.2,1008.0 833.7,1008.0 834.1,1005.0 834.6,1007.0 835.0,1008.8 835.4,1009.5 835.9,1009.8 836.3,1006.2 836.8,1005.3 837.2,999.8 837.7,1004.6 838.1,1008.2 838.5,1009.7 839.0,1006.9 839.4,1008.6 839.9,1008.5 840.3,1009.7 840.8,1007.9 841.2,1009.2 841.6,1010.0 842.1,1010.1 842.5,1011.2 843.0,1009.7 843.4,1007.4 843.9,1005.4 844.3,1006.3 844.7,1013.4 845.2,1013.8 845.6,1015.0 846.1,1009.2 846.5,1011.0 847.0,1011.2 847.4,1012.9 847.8,1012.4 848.3,1009.7 848.7,1010.1 849.2,1010.6 849.6,1013.0 850.1,1012.4 850.5,1011.0 850.9,1009.0 851.4,1008.9 851.8,1010.7 852.3,1013.2 852.7,1011.7 853.2,1012.5 853.6,1011.0 854.0,1011.2 854.5,1008.5 854.9,1006.1 855.4,1005.4 855.8,1005.7 856.3,1008.2 856.7,1010.1 857.1,1011.8 857.6,1012.3 858.0,1013.7 858.5,1013.5 858.9,1013.3 859.4,1009.0 859.8,1008.7 860.2,1004.8 860.7,1010.1 861.1,1008.3 861.6,1010.8 862.0,1007.3 862.5,1009.6 862.9,1008.9 863.3,1010.0 863.8,1007.4 864.2,1009.2 864.7,1007.8 865.1,1010.0 865.6,1009.6 866.0,1010.0 866.4,1009.2 866.9,1008.3 867.3,1007.8 867.8,1007.3 868.2,1004.1 868.7,1005.7 869.1,1007.2 869.5,1009.9 870.0,1010.6 870.4,1011.3 870.9,1011.0 871.3,1013.4 871.8,1010.9 872.2,1013.9 872.6,1011.5 873.1,1014.6 873.5,1012.9 874.0,1012.7 874.4,1012.5 874.9,1015.7 875.3,1016.5 875.7,1016.6 876.2,1011.8 876.6,1009.5 877.1,1007.8 877.5,1010.7 878.0,1013.3 878.4,1015.9 878.8,1015.5 879.3,1015.8 879.7,1014.5 880.2,1013.1 880.6,1008.9 881.1,1007.8 881.5,1008.7 881.9,1014.1 882.4,1015.1 882.8,1016.9 883.3,1014.2 883.7,1012.8 884.2,1012.4 884.6,1015.4 885.0,1014.2 885.5,1012.9 885.9,1008.3 886.4,1008.8 886.8,1010.4 887.3,1013.3 887.7,1014.2 888.1,1013.1 888.6,1014.7 889.0,1014.1 889.5,1015.7 889.9,1013.5 890.4,1011.1 890.8,1011.1 891.2,1014.3 891.7,1017.4 892.1,1015.5 892.6,1011.1 893.0,1012.2 893.5,1013.0 893.9,1016.5 894.3,1017.4 894.8,1017.4 895.2,1014.9 895.7,1015.7 896.1,1015.2 896.6,1015.3 897.0,1014.8 897.4,1016.9 897.9,1016.4 898.3,1014.4 898.8,1017.0 899.2,1015.5 899.7,1016.9 900.1,1012.3 900.5,1018.0 901.0,1016.8 901.4,1016.6 901.9,1013.5 902.3,1013.1 902.8,1015.9 903.2,1017.6 903.6,1019.8 904.1,1019.3 904.5,1016.7 905.0,1015.1 905.4,1015.2 905.9,1015.6 906.3,1015.7 906.7,1012.3 907.2,1012.4 907.6,1012.3 908.1,1014.5 908.5,1015.5 909.0,1015.2 909.4,1016.4 909.8,1016.3 910.3,1017.9 910.7,1016.9 911.2,1015.8 911.6,1015.5 912.1,1015.1 912.5,1015.4 912.9,1014.0 913.4,1010.0 913.8,1013.2 914.3,1015.2 914.7,1021.9 915.2,1019.4 915.6,1019.7 916.0,1016.8 916.5,1014.2 916.9,1015.3 917.4,1017.2 917.8,1022.7 918.3,1021.7 918.7,1023.3 919.1,1017.0 919.6,1018.9 920.0,1016.0 920.5,1020.8 920.9,1016.3 921.4,1015.0 921.8,1016.9 922.2,1015.5 922.7,1018.4 923.1,1016.2 923.6,1020.3 924.0,1017.7 924.5,1017.6 924.9,1015.2 925.3,1015.5 925.8,1014.1 926.2,1017.5 926.7,1018.6 927.1,1019.4 927.6,1018.7 928.0,1020.4 928.4,1019.2 928.9,1020.9 929.3,1020.1 929.8,1021.6 930.2,1015.9 930.6,1014.8 931.1,1015.0 931.5,1019.0 932.0,1020.1 932.4,1019.3 932.9,1018.0 933.3,1015.6 933.7,1014.5 934.2,1016.2 934.6,1017.7 935.1,1020.3 935.5,1019.9 936.0,1023.1 936.4,1020.9 936.8,1019.9 937.3,1014.1 937.7,1014.3 938.2,1013.8 938.6,1019.9 939.1,1021.3 939.5,1020.6 939.9,1020.7 940.4,1024.2 940.8,1027.2 941.3,1025.1 941.7,1024.2 942.2,1020.6 942.6,1020.7 943.0,1015.8 943.5,1020.6 943.9,1021.5 944.4,1025.5 944.8,1025.3 945.3,1023.4 945.7,1019.9 946.1,1016.2 946.6,1018.3 947.0,1021.6 947.5,1018.9 947.9,1020.9 948.4,1021.4 948.8,1027.7 949.2,1025.4 949.7,1024.1 950.1,1022.6 950.6,1021.5 951.0,1020.5 951.5,1018.0 951.9,1018.1 952.3,1019.6 952.8,1021.0 953.2,1021.0 953.7,1020.3 954.1,1021.0 954.6,1019.9 955.0,1019.3 955.4,1019.0 955.9,1017.3 956.3,1019.4 956.8,1024.7 957.2,1027.8 957.7,1027.2 958.1,1020.4 958.5,1019.7 959.0,1018.2 959.4,1021.6 959.9,1021.1 960.3,1022.1 960.8,1020.2 961.2,1022.5 961.6,1020.9 962.1,1020.2 962.5,1018.0 963.0,1017.4 963.4,1018.3 963.9,1017.6 964.3,1018.7 964.7,1018.6 965.2,1019.6 965.6,1019.0 966.1,1019.3 966.5,1021.7 967.0,1024.2 967.4,1024.7 967.8,1024.9 968.3,1024.4 968.7,1021.9 969.2,1018.4 969.6,1015.3 970.1,1015.5 970.5,1019.3 970.9,1020.9 971.4,1022.1 971.8,1022.2 972.3,1021.2 972.7,1021.4 973.2,1020.2 973.6,1022.5 974.0,1024.4 974.5,1025.0 974.9,1022.5 975.4,1019.8 975.8,1019.7 976.3,1022.4 976.7,1024.4 977.1,1022.8 977.6,1023.1 978.0,1024.6 978.5,1022.7 978.9,1022.7 979.4,1024.9 979.8,1026.2 980.2,1026.7 980.7,1026.9 981.1,1027.0 981.6,1025.6 982.0,1019.1 982.5,1019.0 982.9,1018.1 983.3,1022.2 983.8,1025.3 984.2,1026.9 984.7,1026.5 985.1,1022.8 985.6,1026.1 986.0,1026.7 986.4,1029.6 986.9,1030.3 987.3,1029.2 987.8,1027.9 988.2,1023.1 988.7,1020.3 989.1,1022.9 989.5,1023.1 990.0,1024.2 990.4,1020.1 990.9,1021.4 991.3,1025.5 991.8,1027.7 992.2,1025.2 992.6,1021.1 993.1,1022.0 993.5,1026.0 994.0,1027.9 994.4,1023.1 994.9,1022.0 995.3,1020.1 995.7,1024.5 996.2,1024.1 996.6,1027.0 997.1,1024.8 997.5,1022.7 998.0,1022.1 998.4,1025.0 998.8,1026.3 999.3,1024.8 999.7,1021.3 1000.2,1017.8 1000.6,1018.8 1001.1,1019.6 1001.5,1019.0 1001.9,1021.2 1002.4,1024.4 1002.8,1030.8 1003.3,1027.9 1003.7,1026.8 1004.2,1022.4 1004.6,1023.1 1005.0,1022.5 1005.5,1026.1 1005.9,1024.2 1006.4,1025.5 1006.8,1026.4 1007.3,1030.2 1007.7,1030.2 1008.1,1030.2 1008.6,1029.5 1009.0,1027.4 1009.5,1023.0 1009.9,1019.4 1010.4,1019.8 1010.8,1020.4 1011.2,1022.5 1011.7,1022.9 1012.1,1022.9 1012.6,1025.0 1013.0,1022.5 1013.5,1022.4 1013.9,1021.3 1014.3,1023.6 1014.8,1022.8 1015.2,1022.8 1015.7,1020.9 1016.1,1024.5 1016.6,1022.4 1017.0,1022.5 1017.4,1020.5 1017.9,1022.5 1018.3,1025.4 1018.8,1025.0 1019.2,1023.8 1019.7,1022.9 1020.1,1024.8 1020.5,1024.5 1021.0,1025.4 1021.4,1025.0 1021.9,1024.8 1022.3,1024.6 1022.8,1024.3 1023.2,1029.2 1023.6,1030.8 1024.1,1032.7 1024.5,1029.9 1025.0,1029.1 1025.4,1028.9 1025.9,1026.6 1026.3,1027.1 1026.7,1024.0 1027.2,1024.2 1027.6,1021.4 1028.1,1023.6 1028.5,1026.3 1029.0,1029.3 1029.4,1027.0 1029.8,1025.5 1030.3,1022.6 1030.7,1025.4 1031.2,1025.6 1031.6,1031.9 1032.1,1033.6 1032.5,1034.6 1032.9,1026.6 1033.4,1024.5 1033.8,1023.0 1034.3,1026.6 1034.7,1025.8 1035.2,1026.3 1035.6,1022.3 1036.0,1022.0 1036.5,1024.4 1036.9,1027.9 1037.4,1029.7 1037.8,1028.1 1038.3,1027.2 1038.7,1028.8 1039.1,1026.4 1039.6,1029.4 1040.0,1027.0 1040.5,1029.0 1040.9,1025.5 1041.4,1027.8 1041.8,1027.2 1042.2,1028.7 1042.7,1026.9 1043.1,1030.4 1043.6,1030.2 1044.0,1026.6 1044.5,1020.9 1044.9,1019.5 1045.3,1022.3 1045.8,1023.9 1046.2,1024.2 1046.7,1026.3 1047.1,1031.3 1047.6,1034.4 1048.0,1033.5 1048.4,1029.1 1048.9,1028.3 1049.3,1028.6 1049.8,1029.6 1050.2,1029.4 1050.7,1027.2 1051.1,1028.8 1051.5,1026.9 1052.0,1031.1 1052.4,1030.0 1052.9,1030.5 1053.3,1028.9 1053.7,1027.9 1054.2,1028.1 1054.6,1028.3 1055.1,1030.9 1055.5,1029.4 1056.0,1027.6 1056.4,1029.2 1056.8,1031.0 1057.3,1030.4 1057.7,1025.4 1058.2,1021.8 1058.6,1023.4 1059.1,1024.4 1059.5,1029.4 1059.9,1031.5 1060.4,1033.6 1060.8,1034.5 1061.3,1029.0 1061.7,1023.4 1062.2,1023.4 1062.6,1026.8 1063.0,1032.1 1063.5,1031.6 1063.9,1032.7 1064.4,1033.8 1064.8,1035.1 1065.3,1033.1 1065.7,1032.7 1066.1,1028.9 1066.6,1029.4 1067.0,1025.6 1067.5,1028.8 1067.9,1029.1 1068.4,1030.4 1068.8,1027.9 1069.2,1027.9 1069.7,1031.2 1070.1,1034.8 1070.6,1031.6 1071.0,1029.4 1071.5,1028.6 1071.9,1033.4 1072.3,1034.5 1072.8,1030.7 1073.2,1028.7 1073.7,1029.8 1074.1,1031.6 1074.6,1030.9 1075.0,1026.7 1075.4,1028.6 1075.9,1032.7 1076.3,1036.2 1076.8,1034.3 1077.2,1034.0 1077.7,1031.9 1078.1,1032.1 1078.5,1031.8 1079.0,1034.3 1079.4,1036.3 1079.9,1035.8 1080.3,1033.7 1080.8,1032.5 1081.2,1031.4 1081.6,1030.9 1082.1,1029.9 1082.5,1031.1 1083.0,1032.3 1083.4,1031.4 1083.9,1029.0 1084.3,1027.1 1084.7,1026.5 1085.2,1028.2 1085.6,1030.5 1086.1,1032.6 1086.5,1029.3 1087.0,1027.9 1087.4,1025.0 1087.8,1027.6 1088.3,1027.8 1088.7,1030.9 1089.2,1028.9 1089.6,1032.2 1090.1,1033.3 1090.5,1037.7 1090.9,1034.0 1091.4,1032.2 1091.8,1032.2 1092.3,1034.8 1092.7,1034.7 1093.2,1031.8 1093.6,1028.7 1094.0,1029.9 1094.5,1028.7 1094.9,1031.7 1095.4,1031.4 1095.8,1033.6 1096.3,1031.2 1096.7,1032.8 1097.1,1034.1 1097.6,1034.2 1098.0,1030.4 1098.5,1031.2 1098.9,1029.2 1099.4,1032.1 1099.8,1026.5 1100.2,1032.6 1100.7,1032.8 1101.1,1034.4 1101.6,1030.3 1102.0,1030.0 1102.5,1027.3 1102.9,1024.6 1103.3,1024.3 1103.8,1028.0 1104.2,1031.6 1104.7,1031.0 1105.1,1030.9 1105.6,1031.8 1106.0,1033.5 1106.4,1032.7 1106.9,1032.8 1107.3,1030.4 1107.8,1030.4 1108.2,1029.3 1108.7,1028.3 1109.1,1029.6 1109.5,1026.9 1110.0,1029.1 1110.4,1029.2 1110.9,1032.5 1111.3,1031.6 1111.8,1029.4 1112.2,1028.4 1112.6,1029.8 1113.1,1032.0 1113.5,1033.9 1114.0,1030.4 1114.4,1029.2 1114.9,1027.5 1115.3,1029.1" fill="none" stroke="#02629F" stroke-width="6.5" stroke-linejoin="round" stroke-linecap="round"/>
<path d="M121.2,1185.3 121.6,1186.0 122.1,1185.1 122.5,1188.2 123.0,1185.0 123.4,1187.4 123.9,1185.4 124.3,1190.8 124.7,1185.7 125.2,1189.5 125.6,1184.9 126.1,1181.4 126.5,1176.8 127.0,1181.5 127.4,1182.7 127.8,1183.6 128.3,1183.5 128.7,1178.6 129.2,1179.5 129.6,1177.7 130.1,1179.9 130.5,1175.1 130.9,1169.7 131.4,1173.3 131.8,1171.1 132.3,1174.2 132.7,1175.6 133.2,1171.9 133.6,1170.9 134.0,1166.1 134.5,1169.7 134.9,1169.4 135.4,1168.9 135.8,1165.4 136.3,1162.0 136.7,1162.0 137.1,1164.2 137.6,1161.7 138.0,1169.1 138.5,1175.6 138.9,1183.5 139.4,1176.2 139.8,1165.3 140.2,1160.4 140.7,1161.7 141.1,1166.6 141.6,1165.7 142.0,1165.2 142.5,1173.1 142.9,1176.0 143.3,1175.6 143.8,1167.2 144.2,1171.1 144.7,1172.1 145.1,1174.6 145.6,1169.4 146.0,1167.0 146.4,1168.3 146.9,1175.9 147.3,1178.3 147.8,1179.7 148.2,1171.5 148.7,1172.6 149.1,1166.9 149.5,1174.0 150.0,1171.8 150.4,1178.1 150.9,1174.5 151.3,1180.9 151.8,1181.6 152.2,1183.6 152.6,1174.8 153.1,1170.1 153.5,1165.2 154.0,1167.3 154.4,1168.2 154.9,1174.5 155.3,1177.6 155.7,1180.7 156.2,1175.5 156.6,1173.3 157.1,1169.5 157.5,1176.0 158.0,1179.5 158.4,1186.1 158.8,1183.9 159.3,1181.2 159.7,1179.1 160.2,1172.2 160.6,1177.5 161.1,1178.1 161.5,1185.7 161.9,1184.2 162.4,1186.3 162.8,1185.3 163.3,1185.4 163.7,1181.8 164.2,1182.1 164.6,1183.3 165.0,1188.5 165.5,1188.5 165.9,1183.5 166.4,1175.4 166.8,1176.1 167.3,1178.4 167.7,1186.2 168.1,1192.3 168.6,1192.5 169.0,1195.0 169.5,1194.1 169.9,1193.9 170.4,1188.9 170.8,1187.7 171.2,1188.5 171.7,1187.1 172.1,1187.6 172.6,1188.5 173.0,1190.0 173.5,1189.9 173.9,1192.4 174.3,1195.4 174.8,1198.2 175.2,1202.3 175.7,1196.7 176.1,1195.6 176.6,1192.0 177.0,1198.5 177.4,1198.5 177.9,1204.2 178.3,1206.0 178.8,1203.4 179.2,1199.4 179.7,1192.6 180.1,1194.8 180.5,1194.3 181.0,1195.5 181.4,1189.8 181.9,1185.2 182.3,1186.5 182.8,1192.5 183.2,1196.2 183.6,1196.8 184.1,1194.4 184.5,1198.9 185.0,1200.2 185.4,1198.8 185.8,1201.7 186.3,1200.3 186.7,1204.4 187.2,1200.6 187.6,1203.8 188.1,1201.8 188.5,1203.2 188.9,1203.3 189.4,1206.0 189.8,1202.3 190.3,1207.0 190.7,1202.6 191.2,1199.2 191.6,1191.8 192.0,1194.3 192.5,1197.4 192.9,1200.5 193.4,1199.1 193.8,1201.5 194.3,1197.1 194.7,1195.5 195.1,1193.4 195.6,1195.6 196.0,1197.0 196.5,1196.2 196.9,1196.3 197.4,1199.7 197.8,1203.7 198.2,1209.7 198.7,1209.5 199.1,1205.5 199.6,1198.7 200.0,1195.2 200.5,1192.7 200.9,1197.8 201.3,1206.3 201.8,1210.8 202.2,1209.9 202.7,1198.4 203.1,1198.7 203.6,1196.2 204.0,1203.1 204.4,1201.0 204.9,1200.9 205.3,1198.3 205.8,1198.9 206.2,1207.2 206.7,1212.0 207.1,1209.7 207.5,1203.2 208.0,1200.2 208.4,1210.8 208.9,1206.2 209.3,1209.3 209.8,1205.8 210.2,1217.7 210.6,1221.0 211.1,1218.2 211.5,1207.3 212.0,1199.4 212.4,1198.0 212.9,1202.2 213.3,1203.3 213.7,1201.5 214.2,1204.1 214.6,1206.6 215.1,1209.6 215.5,1206.4 216.0,1204.2 216.4,1202.4 216.8,1211.5 217.3,1212.5 217.7,1213.9 218.2,1211.0 218.6,1211.1 219.1,1213.9 219.5,1206.6 219.9,1206.6 220.4,1200.3 220.8,1204.9 221.3,1212.4 221.7,1218.7 222.2,1218.5 222.6,1216.0 223.0,1218.8 223.5,1215.3 223.9,1209.6 224.4,1205.2 224.8,1211.7 225.3,1210.6 225.7,1210.0 226.1,1205.6 226.6,1209.3 227.0,1211.8 227.5,1211.5 227.9,1215.2 228.4,1212.4 228.8,1219.8 229.2,1216.9 229.7,1221.3 230.1,1211.5 230.6,1212.0 231.0,1206.4 231.5,1205.8 231.9,1207.3 232.3,1211.0 232.8,1212.0 233.2,1203.7 233.7,1206.0 234.1,1209.5 234.6,1218.1 235.0,1218.9 235.4,1222.3 235.9,1213.3 236.3,1200.8 236.8,1199.4 237.2,1200.5 237.7,1213.6 238.1,1212.9 238.5,1218.5 239.0,1215.0 239.4,1209.1 239.9,1208.9 240.3,1208.6 240.8,1214.5 241.2,1220.8 241.6,1219.8 242.1,1220.7 242.5,1220.2 243.0,1219.7 243.4,1215.1 243.9,1207.4 244.3,1206.0 244.7,1203.6 245.2,1207.8 245.6,1215.8 246.1,1222.6 246.5,1219.1 247.0,1212.8 247.4,1211.8 247.8,1211.2 248.3,1212.6 248.7,1210.3 249.2,1215.2 249.6,1217.6 250.1,1219.7 250.5,1213.7 250.9,1210.3 251.4,1212.1 251.8,1220.9 252.3,1220.9 252.7,1226.5 253.2,1219.9 253.6,1220.3 254.0,1213.5 254.5,1212.7 254.9,1214.0 255.4,1213.4 255.8,1214.0 256.3,1213.1 256.7,1214.4 257.1,1219.5 257.6,1227.1 258.0,1226.0 258.5,1217.9 258.9,1209.8 259.4,1204.4 259.8,1209.0 260.2,1208.3 260.7,1214.1 261.1,1213.1 261.6,1215.1 262.0,1212.9 262.5,1218.4 262.9,1212.8 263.3,1217.3 263.8,1216.2 264.2,1223.5 264.7,1221.0 265.1,1218.8 265.6,1215.8 266.0,1211.8 266.4,1213.0 266.9,1216.5 267.3,1222.4 267.8,1219.6 268.2,1220.6 268.7,1219.7 269.1,1225.8 269.5,1222.6 270.0,1214.3 270.4,1205.4 270.9,1206.5 271.3,1208.6 271.8,1213.9 272.2,1210.4 272.6,1214.9 273.1,1213.7 273.5,1213.2 274.0,1213.9 274.4,1216.5 274.9,1217.4 275.3,1215.1 275.7,1209.7 276.2,1213.2 276.6,1217.0 277.1,1216.8 277.5,1213.6 278.0,1213.0 278.4,1215.0 278.8,1221.3 279.3,1218.6 279.7,1216.3 280.2,1207.4 280.6,1205.5 281.1,1202.1 281.5,1206.5 281.9,1213.5 282.4,1213.9 282.8,1208.8 283.3,1200.2 283.7,1204.3 284.2,1205.6 284.6,1211.5 285.0,1215.1 285.5,1215.9 285.9,1212.7 286.4,1207.3 286.8,1211.3 287.3,1217.4 287.7,1216.6 288.1,1213.2 288.6,1204.4 289.0,1208.9 289.5,1211.6 289.9,1212.6 290.4,1210.4 290.8,1215.7 291.2,1224.3 291.7,1222.4 292.1,1215.8 292.6,1208.4 293.0,1212.4 293.5,1209.0 293.9,1211.8 294.3,1213.6 294.8,1220.7 295.2,1214.6 295.7,1217.1 296.1,1210.6 296.6,1210.8 297.0,1208.7 297.4,1214.2 297.9,1218.3 298.3,1217.6 298.8,1217.0 299.2,1218.1 299.7,1212.1 300.1,1208.9 300.5,1207.8 301.0,1214.6 301.4,1220.2 301.9,1219.8 302.3,1214.3 302.8,1207.2 303.2,1210.2 303.6,1210.0 304.1,1218.7 304.5,1216.4 305.0,1218.8 305.4,1214.3 305.9,1213.6 306.3,1210.3 306.7,1208.4 307.2,1209.4 307.6,1210.2 308.1,1208.8 308.5,1207.1 308.9,1202.6 309.4,1200.4 309.8,1199.5 310.3,1201.1 310.7,1204.4 311.2,1205.8 311.6,1202.0 312.0,1198.3 312.5,1197.5 312.9,1202.6 313.4,1205.3 313.8,1205.4 314.3,1201.4 314.7,1200.2 315.1,1195.3 315.6,1192.6 316.0,1192.9 316.5,1192.9 316.9,1199.1 317.4,1199.2 317.8,1204.2 318.2,1203.4 318.7,1198.2 319.1,1193.0 319.6,1196.6 320.0,1198.1 320.5,1204.9 320.9,1206.0 321.3,1204.7 321.8,1204.4 322.2,1197.7 322.7,1199.0 323.1,1193.1 323.6,1191.3 324.0,1191.6 324.4,1193.3 324.9,1202.8 325.3,1206.1 325.8,1202.2 326.2,1195.9 326.7,1194.8 327.1,1195.7 327.5,1191.8 328.0,1187.6 328.4,1184.1 328.9,1186.2 329.3,1184.5 329.8,1190.8 330.2,1189.3 330.6,1186.6 331.1,1184.7 331.5,1184.0 332.0,1184.4 332.4,1182.5 332.9,1180.3 333.3,1177.3 333.7,1172.2 334.2,1177.1 334.6,1185.9 335.1,1187.4 335.5,1184.6 336.0,1174.3 336.4,1177.5 336.8,1175.3 337.3,1181.5 337.7,1177.4 338.2,1177.1 338.6,1169.8 339.1,1171.3 339.5,1169.1 339.9,1174.3 340.4,1177.2 340.8,1170.8 341.3,1172.3 341.7,1167.9 342.2,1175.6 342.6,1174.4 343.0,1171.4 343.5,1164.2 343.9,1159.2 344.4,1158.6 344.8,1156.5 345.3,1159.2 345.7,1161.0 346.1,1163.8 346.6,1161.7 347.0,1159.6 347.5,1162.4 347.9,1161.4 348.4,1163.6 348.8,1163.4 349.2,1168.8 349.7,1165.6 350.1,1168.0 350.6,1165.2 351.0,1159.1 351.5,1155.2 351.9,1151.5 352.3,1156.9 352.8,1156.7 353.2,1158.1 353.7,1158.1 354.1,1155.1 354.6,1154.2 355.0,1150.2 355.4,1151.4 355.9,1145.5 356.3,1141.4 356.8,1136.3 357.2,1141.7 357.7,1147.4 358.1,1148.2 358.5,1145.4 359.0,1139.7 359.4,1138.7 359.9,1130.7 360.3,1131.8 360.8,1135.2 361.2,1147.1 361.6,1146.8 362.1,1145.2 362.5,1138.4 363.0,1141.3 363.4,1137.7 363.9,1132.3 364.3,1131.5 364.7,1128.9 365.2,1132.9 365.6,1127.9 366.1,1130.9 366.5,1129.9 367.0,1125.2 367.4,1130.7 367.8,1124.3 368.3,1125.2 368.7,1119.6 369.2,1113.5 369.6,1113.5 370.1,1111.7 370.5,1119.0 370.9,1120.3 371.4,1117.6 371.8,1116.9 372.3,1115.1 372.7,1120.9 373.2,1122.7 373.6,1119.9 374.0,1112.3 374.5,1112.3 374.9,1118.7 375.4,1114.9 375.8,1111.3 376.3,1099.5 376.7,1101.0 377.1,1105.7 377.6,1114.2 378.0,1114.4 378.5,1105.3 378.9,1102.5 379.4,1103.0 379.8,1106.6 380.2,1108.4 380.7,1108.2 381.1,1101.7 381.6,1097.1 382.0,1095.1 382.5,1096.8 382.9,1102.9 383.3,1100.8 383.8,1105.7 384.2,1102.7 384.7,1106.6 385.1,1105.2 385.6,1101.7 386.0,1101.6 386.4,1104.5 386.9,1104.0 387.3,1107.9 387.8,1103.4 388.2,1109.4 388.7,1104.6 389.1,1111.6 389.5,1113.8 390.0,1119.7 390.4,1121.2 390.9,1115.7 391.3,1101.2 391.8,1090.3 392.2,1087.4 392.6,1099.8 393.1,1107.4 393.5,1108.0 394.0,1107.3 394.4,1103.0 394.9,1104.5 395.3,1103.2 395.7,1100.7 396.2,1105.0 396.6,1106.3 397.1,1116.1 397.5,1116.9 398.0,1116.6 398.4,1115.3 398.8,1112.6 399.3,1112.3 399.7,1105.5 400.2,1104.1 400.6,1103.9 401.1,1110.9 401.5,1118.2 401.9,1123.6 402.4,1119.6 402.8,1115.0 403.3,1107.8 403.7,1104.6 404.2,1107.9 404.6,1106.7 405.0,1114.0 405.5,1110.0 405.9,1114.1 406.4,1115.7 406.8,1115.3 407.3,1118.2 407.7,1112.9 408.1,1115.8 408.6,1114.2 409.0,1117.8 409.5,1114.6 409.9,1114.7 410.4,1115.8 410.8,1117.7 411.2,1120.6 411.7,1121.4 412.1,1123.8 412.6,1121.0 413.0,1120.4 413.5,1118.8 413.9,1121.7 414.3,1121.7 414.8,1128.2 415.2,1126.9 415.7,1123.8 416.1,1121.2 416.6,1120.6 417.0,1128.4 417.4,1124.7 417.9,1124.0 418.3,1119.0 418.8,1121.4 419.2,1124.1 419.7,1132.6 420.1,1133.3 420.5,1137.3 421.0,1128.5 421.4,1127.5 421.9,1123.4 422.3,1130.3 422.8,1133.2 423.2,1135.0 423.6,1128.8 424.1,1127.8 424.5,1133.7 425.0,1132.0 425.4,1126.2 425.9,1118.6 426.3,1119.1 426.7,1121.2 427.2,1115.5 427.6,1119.8 428.1,1123.9 428.5,1129.4 429.0,1130.9 429.4,1134.3 429.8,1135.8 430.3,1136.1 430.7,1128.8 431.2,1129.6 431.6,1124.0 432.0,1128.1 432.5,1131.6 432.9,1134.7 433.4,1141.1 433.8,1140.7 434.3,1143.7 434.7,1134.8 435.1,1131.6 435.6,1130.9 436.0,1137.5 436.5,1137.7 436.9,1132.3 437.4,1132.6 437.8,1128.3 438.2,1130.7 438.7,1122.1 439.1,1127.2 439.6,1132.4 440.0,1141.7 440.5,1138.9 440.9,1138.3 441.3,1136.5 441.8,1141.6 442.2,1143.3 442.7,1144.1 443.1,1148.2 443.6,1142.5 444.0,1143.2 444.4,1139.3 444.9,1139.3 445.3,1138.9 445.8,1137.9 446.2,1139.1 446.7,1140.5 447.1,1141.0 447.5,1147.2 448.0,1144.9 448.4,1150.0 448.9,1148.8 449.3,1151.3 449.8,1150.6 450.2,1156.0 450.6,1155.3 451.1,1153.2 451.5,1147.3 452.0,1148.7 452.4,1143.0 452.9,1148.1 453.3,1152.7 453.7,1163.0 454.2,1159.0 454.6,1149.5 455.1,1142.5 455.5,1143.0 456.0,1146.9 456.4,1145.7 456.8,1144.0 457.3,1140.9 457.7,1141.8 458.2,1144.5 458.6,1147.3 459.1,1147.9 459.5,1144.9 459.9,1145.6 460.4,1151.2 460.8,1156.8 461.3,1161.4 461.7,1158.9 462.2,1155.1 462.6,1158.5 463.0,1160.6 463.5,1160.7 463.9,1158.2 464.4,1155.0 464.8,1161.4 465.3,1164.2 465.7,1169.9 466.1,1156.6 466.6,1152.5 467.0,1152.6 467.5,1162.8 467.9,1169.8 468.4,1165.8 468.8,1163.6 469.2,1159.5 469.7,1162.1 470.1,1167.2 470.6,1164.3 471.0,1162.6 471.5,1156.3 471.9,1155.9 472.3,1156.5 472.8,1162.4 473.2,1164.3 473.7,1160.3 474.1,1161.0 474.6,1158.7 475.0,1160.7 475.4,1163.9 475.9,1165.0 476.3,1169.1 476.8,1164.9 477.2,1161.9 477.7,1162.1 478.1,1161.3 478.5,1163.2 479.0,1164.0 479.4,1165.6 479.9,1168.3 480.3,1161.4 480.8,1158.3 481.2,1158.6 481.6,1169.5 482.1,1172.7 482.5,1173.2 483.0,1165.3 483.4,1165.2 483.9,1171.3 484.3,1174.9 484.7,1172.0 485.2,1165.2 485.6,1167.1 486.1,1167.1 486.5,1167.1 487.0,1162.2 487.4,1162.7 487.8,1162.4 488.3,1164.1 488.7,1162.0 489.2,1167.3 489.6,1169.0 490.1,1174.5 490.5,1165.1 490.9,1164.5 491.4,1161.2 491.8,1171.6 492.3,1174.7 492.7,1175.4 493.2,1171.3 493.6,1169.3 494.0,1171.1 494.5,1164.6 494.9,1157.5 495.4,1155.9 495.8,1160.8 496.3,1167.7 496.7,1172.3 497.1,1171.7 497.6,1171.9 498.0,1166.2 498.5,1161.7 498.9,1158.1 499.4,1157.5 499.8,1162.2 500.2,1170.2 500.7,1173.4 501.1,1173.5 501.6,1163.7 502.0,1164.8 502.5,1164.0 502.9,1162.2 503.3,1160.9 503.8,1163.0 504.2,1171.7 504.7,1171.9 505.1,1169.0 505.6,1167.2 506.0,1163.7 506.4,1165.5 506.9,1167.2 507.3,1171.5 507.8,1169.8 508.2,1173.2 508.7,1171.5 509.1,1167.6 509.5,1167.3 510.0,1170.8 510.4,1181.3 510.9,1177.3 511.3,1173.7 511.8,1167.8 512.2,1170.2 512.6,1173.7 513.1,1178.3 513.5,1178.8 514.0,1174.4 514.4,1173.0 514.9,1172.6 515.3,1174.6 515.7,1179.3 516.2,1171.3 516.6,1172.9 517.1,1166.9 517.5,1173.3 518.0,1172.2 518.4,1172.6 518.8,1173.0 519.3,1172.6 519.7,1169.1 520.2,1170.7 520.6,1173.0 521.1,1173.7 521.5,1173.3 521.9,1171.6 522.4,1176.2 522.8,1174.9 523.3,1172.4 523.7,1172.4 524.2,1167.1 524.6,1174.1 525.0,1170.6 525.5,1173.6 525.9,1171.1 526.4,1173.4 526.8,1177.9 527.3,1181.5 527.7,1183.8 528.1,1181.0 528.6,1172.5 529.0,1170.1 529.5,1167.5 529.9,1171.0 530.4,1162.9 530.8,1163.7 531.2,1161.4 531.7,1166.9 532.1,1171.1 532.6,1175.0 533.0,1172.0 533.5,1173.8 533.9,1170.2 534.3,1176.8 534.8,1174.6 535.2,1174.6 535.7,1174.2 536.1,1174.6 536.6,1173.9 537.0,1174.3 537.4,1175.2 537.9,1176.8 538.3,1175.5 538.8,1171.4 539.2,1170.1 539.7,1170.0 540.1,1167.4 540.5,1168.8 541.0,1167.7 541.4,1172.5 541.9,1177.7 542.3,1182.3 542.8,1180.1 543.2,1176.6 543.6,1173.9 544.1,1172.9 544.5,1173.1 545.0,1176.5 545.4,1180.8 545.9,1179.3 546.3,1173.1 546.7,1170.4 547.2,1172.0 547.6,1175.6 548.1,1178.8 548.5,1175.5 549.0,1167.0 549.4,1167.4 549.8,1171.1 550.3,1183.1 550.7,1184.6 551.2,1185.1 551.6,1179.2 552.1,1170.8 552.5,1166.1 552.9,1164.8 553.4,1164.7 553.8,1165.3 554.3,1170.7 554.7,1172.9 555.2,1174.4 555.6,1173.4 556.0,1172.6 556.5,1171.2 556.9,1167.2 557.4,1165.2 557.8,1167.7 558.2,1171.9 558.7,1178.7 559.1,1177.2 559.6,1172.2 560.0,1173.6 560.5,1167.9 560.9,1171.1 561.3,1166.2 561.8,1168.0 562.2,1170.3 562.7,1175.6 563.1,1178.2 563.6,1173.8 564.0,1169.7 564.4,1169.9 564.9,1177.0 565.3,1173.3 565.8,1171.6 566.2,1166.9 566.7,1168.2 567.1,1168.8 567.5,1166.2 568.0,1167.3 568.4,1172.3 568.9,1170.6 569.3,1173.6 569.8,1167.6 570.2,1167.7 570.6,1167.7 571.1,1171.9 571.5,1177.4 572.0,1177.5 572.4,1174.6 572.9,1169.6 573.3,1167.7 573.7,1166.7 574.2,1168.9 574.6,1173.2 575.1,1172.0 575.5,1169.2 576.0,1166.5 576.4,1173.1 576.8,1175.8 577.3,1174.2 577.7,1170.3 578.2,1169.4 578.6,1169.0 579.1,1172.4 579.5,1169.8 579.9,1164.7 580.4,1163.2 580.8,1165.6 581.3,1172.4 581.7,1172.0 582.2,1172.8 582.6,1170.8 583.0,1179.5 583.5,1180.4 583.9,1178.5 584.4,1165.0 584.8,1167.1 585.3,1173.5 585.7,1178.6 586.1,1177.2 586.6,1172.5 587.0,1172.9 587.5,1171.9 587.9,1173.3 588.4,1173.6 588.8,1174.8 589.2,1178.8 589.7,1176.3 590.1,1175.0 590.6,1167.6 591.0,1168.6 591.5,1169.8 591.9,1177.1 592.3,1177.0 592.8,1176.1 593.2,1171.5 593.7,1169.6 594.1,1169.9 594.6,1163.9 595.0,1168.4 595.4,1170.8 595.9,1178.8 596.3,1181.7 596.8,1181.9 597.2,1183.4 597.7,1181.0 598.1,1179.6 598.5,1177.4 599.0,1177.6 599.4,1179.1 599.9,1174.2 600.3,1169.0 600.8,1165.2 601.2,1165.5 601.6,1166.8 602.1,1166.3 602.5,1166.8 603.0,1168.5 603.4,1174.4 603.9,1181.7 604.3,1186.7 604.7,1187.4 605.2,1176.6 605.6,1177.2 606.1,1174.2 606.5,1177.2 607.0,1170.0 607.4,1167.9 607.8,1169.9 608.3,1175.4 608.7,1176.3 609.2,1184.4 609.6,1186.4 610.1,1182.2 610.5,1175.4 610.9,1173.3 611.4,1179.6 611.8,1181.0 612.3,1178.4 612.7,1176.2 613.2,1174.7 613.6,1176.8 614.0,1178.2 614.5,1177.7 614.9,1170.7 615.4,1171.6 615.8,1173.5 616.3,1171.4 616.7,1171.1 617.1,1168.1 617.6,1176.0 618.0,1175.3 618.5,1182.0 618.9,1178.3 619.4,1183.4 619.8,1180.8 620.2,1190.2 620.7,1187.1 621.1,1187.3 621.6,1179.2 622.0,1183.4 622.5,1187.4 622.9,1190.8 623.3,1184.8 623.8,1179.8 624.2,1178.3 624.7,1179.8 625.1,1178.5 625.6,1177.8 626.0,1178.3 626.4,1179.7 626.9,1179.9 627.3,1182.0 627.8,1187.4 628.2,1190.4 628.7,1188.6 629.1,1185.4 629.5,1184.1 630.0,1183.5 630.4,1184.1 630.9,1181.8 631.3,1177.7 631.8,1174.4 632.2,1175.0 632.6,1180.2 633.1,1184.6 633.5,1186.9 634.0,1182.2 634.4,1176.3 634.9,1171.3 635.3,1174.4 635.7,1179.9 636.2,1183.0 636.6,1182.2 637.1,1180.7 637.5,1182.5 638.0,1185.3 638.4,1183.9 638.8,1183.3 639.3,1181.4 639.7,1186.2 640.2,1187.2 640.6,1190.6 641.1,1186.5 641.5,1189.3 641.9,1186.7 642.4,1184.3 642.8,1177.4 643.3,1180.0 643.7,1180.7 644.2,1184.9 644.6,1178.3 645.0,1181.5 645.5,1179.6 645.9,1188.4 646.4,1185.9 646.8,1190.2 647.3,1192.7 647.7,1198.9 648.1,1199.2 648.6,1189.0 649.0,1188.9 649.5,1191.7 649.9,1194.0 650.4,1190.4 650.8,1184.3 651.2,1183.0 651.7,1183.0 652.1,1185.9 652.6,1189.4 653.0,1192.6 653.5,1193.1 653.9,1192.8 654.3,1193.6 654.8,1189.6 655.2,1189.1 655.7,1186.6 656.1,1191.8 656.6,1188.9 657.0,1191.2 657.4,1185.2 657.9,1186.4 658.3,1186.7 658.8,1185.0 659.2,1186.3 659.7,1187.1 660.1,1195.3 660.5,1196.7 661.0,1192.3 661.4,1191.3 661.9,1186.4 662.3,1191.2 662.8,1188.8 663.2,1191.8 663.6,1190.7 664.1,1194.1 664.5,1197.1 665.0,1195.5 665.4,1194.0 665.9,1189.3 666.3,1182.9 666.7,1185.4 667.2,1191.5 667.6,1197.0 668.1,1199.0 668.5,1195.8 669.0,1194.3 669.4,1192.3 669.8,1191.5 670.3,1190.9 670.7,1188.7 671.2,1189.4 671.6,1193.0 672.1,1196.0 672.5,1196.3 672.9,1196.3 673.4,1196.2 673.8,1197.4 674.3,1197.8 674.7,1198.9 675.2,1197.9 675.6,1199.2 676.0,1203.0 676.5,1204.7 676.9,1198.8 677.4,1189.7 677.8,1189.2 678.3,1196.8 678.7,1201.0 679.1,1201.7 679.6,1192.8 680.0,1190.5 680.5,1197.3 680.9,1199.4 681.3,1201.2 681.8,1197.1 682.2,1203.8 682.7,1205.5 683.1,1207.3 683.6,1209.1 684.0,1208.8 684.4,1207.6 684.9,1203.2 685.3,1201.2 685.8,1196.9 686.2,1200.5 686.7,1193.4 687.1,1198.4 687.5,1190.8 688.0,1199.5 688.4,1195.6 688.9,1208.6 689.3,1208.7 689.8,1209.2 690.2,1205.2 690.6,1206.6 691.1,1205.8 691.5,1202.0 692.0,1204.1 692.4,1200.1 692.9,1196.5 693.3,1192.0 693.7,1203.3 694.2,1203.5 694.6,1203.1 695.1,1197.3 695.5,1204.1 696.0,1206.4 696.4,1207.8 696.8,1202.2 697.3,1196.0 697.7,1198.0 698.2,1205.7 698.6,1210.2 699.1,1206.1 699.5,1204.9 699.9,1201.5 700.4,1197.8 700.8,1196.5 701.3,1202.7 701.7,1212.7 702.2,1209.4 702.6,1208.0 703.0,1203.9 703.5,1207.3 703.9,1207.4 704.4,1208.6 704.8,1207.7 705.3,1207.8 705.7,1205.3 706.1,1206.5 706.6,1207.9 707.0,1211.5 707.5,1207.5 707.9,1205.7 708.4,1204.9 708.8,1201.0 709.2,1203.3 709.7,1201.3 710.1,1202.8 710.6,1204.1 711.0,1203.1 711.5,1207.7 711.9,1203.5 712.3,1202.0 712.8,1200.1 713.2,1207.4 713.7,1216.7 714.1,1216.6 714.6,1212.9 715.0,1207.9 715.4,1213.3 715.9,1207.4 716.3,1205.1 716.8,1202.8 717.2,1206.2 717.7,1211.8 718.1,1214.1 718.5,1216.0 719.0,1212.7 719.4,1211.0 719.9,1209.0 720.3,1205.9 720.8,1208.0 721.2,1204.7 721.6,1206.0 722.1,1204.2 722.5,1211.3 723.0,1215.5 723.4,1212.7 723.9,1216.1 724.3,1212.4 724.7,1219.2 725.2,1210.6 725.6,1214.4 726.1,1211.8 726.5,1215.9 727.0,1214.6 727.4,1214.7 727.8,1214.9 728.3,1213.2 728.7,1215.9 729.2,1215.6 729.6,1219.3 730.1,1213.0 730.5,1214.2 730.9,1217.4 731.4,1221.6 731.8,1221.1 732.3,1219.2 732.7,1217.2 733.2,1218.1 733.6,1214.8 734.0,1218.8 734.5,1220.3 734.9,1224.2 735.4,1223.4 735.8,1222.3 736.3,1218.6 736.7,1215.3 737.1,1215.3 737.6,1216.1 738.0,1216.4 738.5,1213.5 738.9,1217.0 739.4,1219.7 739.8,1224.1 740.2,1227.0 740.7,1227.6 741.1,1224.6 741.6,1221.4 742.0,1222.8 742.5,1227.8 742.9,1227.2 743.3,1227.1 743.8,1221.5 744.2,1219.8 744.7,1215.0 745.1,1218.8 745.6,1218.0 746.0,1220.9 746.4,1220.2 746.9,1220.4 747.3,1217.3 747.8,1219.7 748.2,1224.4 748.7,1231.0 749.1,1229.3 749.5,1231.5 750.0,1230.4 750.4,1226.6 750.9,1224.8 751.3,1224.2 751.8,1224.7 752.2,1221.5 752.6,1221.9 753.1,1219.5 753.5,1221.5 754.0,1216.4 754.4,1223.7 754.9,1225.7 755.3,1226.4 755.7,1221.8 756.2,1218.5 756.6,1221.4 757.1,1222.0 757.5,1225.6 758.0,1226.4 758.4,1225.2 758.8,1223.7 759.3,1221.9 759.7,1225.9 760.2,1228.4 760.6,1228.1 761.1,1228.6 761.5,1224.9 761.9,1227.5 762.4,1231.1 762.8,1236.1 763.3,1231.3 763.7,1232.2 764.2,1232.2 764.6,1235.8 765.0,1234.2 765.5,1230.0 765.9,1233.4 766.4,1225.9 766.8,1230.2 767.3,1224.2 767.7,1224.8 768.1,1222.5 768.6,1230.3 769.0,1235.0 769.5,1236.9 769.9,1237.9 770.4,1239.4 770.8,1241.6 771.2,1241.7 771.7,1239.8 772.1,1233.1 772.6,1228.4 773.0,1229.6 773.5,1237.1 773.9,1244.1 774.3,1240.4 774.8,1242.0 775.2,1231.1 775.7,1231.2 776.1,1222.3 776.6,1232.3 777.0,1234.0 777.4,1239.1 777.9,1236.0 778.3,1237.8 778.8,1237.2 779.2,1234.9 779.7,1237.0 780.1,1235.7 780.5,1246.6 781.0,1242.2 781.4,1244.5 781.9,1234.4 782.3,1243.2 782.8,1245.4 783.2,1247.4 783.6,1245.7 784.1,1239.8 784.5,1238.6 785.0,1239.1 785.4,1239.0 785.9,1242.6 786.3,1242.1 786.7,1247.5 787.2,1246.0 787.6,1244.0 788.1,1238.3 788.5,1238.1 789.0,1231.9 789.4,1231.8 789.8,1231.8 790.3,1239.4 790.7,1239.9 791.2,1242.0 791.6,1239.2 792.1,1239.1 792.5,1237.7 792.9,1240.0 793.4,1242.8 793.8,1242.1 794.3,1246.7 794.7,1245.9 795.2,1242.7 795.6,1236.0 796.0,1239.1 796.5,1242.3 796.9,1246.1 797.4,1246.0 797.8,1247.5 798.3,1242.7 798.7,1245.5 799.1,1240.9 799.6,1247.4 800.0,1240.4 800.5,1241.4 800.9,1236.6 801.4,1245.0 801.8,1245.8 802.2,1249.9 802.7,1245.1 803.1,1244.4 803.6,1243.8 804.0,1243.3 804.5,1244.8 804.9,1245.4 805.3,1247.4 805.8,1249.9 806.2,1247.7 806.7,1253.4 807.1,1249.2 807.5,1248.2 808.0,1239.9 808.4,1241.9 808.9,1238.4 809.3,1239.4 809.8,1241.5 810.2,1245.7 810.6,1244.5 811.1,1240.6 811.5,1241.3 812.0,1241.5 812.4,1245.9 812.9,1245.8 813.3,1252.3 813.7,1250.9 814.2,1253.4 814.6,1248.7 815.1,1251.3 815.5,1250.3 816.0,1253.0 816.4,1248.1 816.8,1246.6 817.3,1241.7 817.7,1246.2 818.2,1245.3 818.6,1247.8 819.1,1242.9 819.5,1243.9 819.9,1246.2 820.4,1250.4 820.8,1252.3 821.3,1254.0 821.7,1255.6 822.2,1257.2 822.6,1250.1 823.0,1246.0 823.5,1239.4 823.9,1243.8 824.4,1249.2 824.8,1255.5 825.3,1256.1 825.7,1251.1 826.1,1247.8 826.6,1240.6 827.0,1240.2 827.5,1241.1 827.9,1246.0 828.4,1248.9 828.8,1252.1 829.2,1253.1 829.7,1252.9 830.1,1249.0 830.6,1256.4 831.0,1257.9 831.5,1260.3 831.9,1258.1 832.3,1260.2 832.8,1259.4 833.2,1254.2 833.7,1253.6 834.1,1256.6 834.6,1261.9 835.0,1261.8 835.4,1257.5 835.9,1249.7 836.3,1246.4 836.8,1249.5 837.2,1254.0 837.7,1255.0 838.1,1252.2 838.5,1251.4 839.0,1254.2 839.4,1256.5 839.9,1252.5 840.3,1248.7 840.8,1250.5 841.2,1252.4 841.6,1255.4 842.1,1250.5 842.5,1248.1 843.0,1250.1 843.4,1251.8 843.9,1259.0 844.3,1254.5 844.7,1255.8 845.2,1258.3 845.6,1261.9 846.1,1262.0 846.5,1258.4 847.0,1253.6 847.4,1255.9 847.8,1259.3 848.3,1269.2 848.7,1264.9 849.2,1259.7 849.6,1252.0 850.1,1253.2 850.5,1251.3 850.9,1251.3 851.4,1254.0 851.8,1255.1 852.3,1260.8 852.7,1253.3 853.2,1253.0 853.6,1248.5 854.0,1253.6 854.5,1253.8 854.9,1257.7 855.4,1262.5 855.8,1267.1 856.3,1264.0 856.7,1257.4 857.1,1251.5 857.6,1253.0 858.0,1258.8 858.5,1265.1 858.9,1264.0 859.4,1261.3 859.8,1259.4 860.2,1262.8 860.7,1258.5 861.1,1256.5 861.6,1252.4 862.0,1257.3 862.5,1258.7 862.9,1260.5 863.3,1260.2 863.8,1259.9 864.2,1255.8 864.7,1251.4 865.1,1252.3 865.6,1258.4 866.0,1265.8 866.4,1260.5 866.9,1256.6 867.3,1250.8 867.8,1256.0 868.2,1252.0 868.7,1259.9 869.1,1256.4 869.5,1257.9 870.0,1255.5 870.4,1263.1 870.9,1264.1 871.3,1255.5 871.8,1253.4 872.2,1255.1 872.6,1259.5 873.1,1256.6 873.5,1252.9 874.0,1253.8 874.4,1252.4 874.9,1257.2 875.3,1256.1 875.7,1261.5 876.2,1260.9 876.6,1263.3 877.1,1259.1 877.5,1260.6 878.0,1259.8 878.4,1259.1 878.8,1251.8 879.3,1251.6 879.7,1252.3 880.2,1260.7 880.6,1262.7 881.1,1262.7 881.5,1253.9 881.9,1253.5 882.4,1259.5 882.8,1265.7 883.3,1263.0 883.7,1259.1 884.2,1256.0 884.6,1258.6 885.0,1253.6 885.5,1250.3 885.9,1245.9 886.4,1251.3 886.8,1254.5 887.3,1252.2 887.7,1251.3 888.1,1252.6 888.6,1260.0 889.0,1266.5 889.5,1271.1 889.9,1272.7 890.4,1267.6 890.8,1262.2 891.2,1257.5 891.7,1254.0 892.1,1258.3 892.6,1260.0 893.0,1262.0 893.5,1261.2 893.9,1259.9 894.3,1262.3 894.8,1258.5 895.2,1267.3 895.7,1268.4 896.1,1273.5 896.6,1268.2 897.0,1267.4 897.4,1268.1 897.9,1264.6 898.3,1262.7 898.8,1262.1 899.2,1263.7 899.7,1264.0 900.1,1261.4 900.5,1265.2 901.0,1266.4 901.4,1265.2 901.9,1257.1 902.3,1255.5 902.8,1261.3 903.2,1263.2 903.6,1264.0 904.1,1260.9 904.5,1266.8 905.0,1267.8 905.4,1269.7 905.9,1266.8 906.3,1264.3 906.7,1262.2 907.2,1262.4 907.6,1262.9 908.1,1263.8 908.5,1261.7 909.0,1266.7 909.4,1265.7 909.8,1265.8 910.3,1262.6 910.7,1260.5 911.2,1260.1 911.6,1258.2 912.1,1260.2 912.5,1262.2 912.9,1261.1 913.4,1266.1 913.8,1260.8 914.3,1261.4 914.7,1259.4 915.2,1264.0 915.6,1263.9 916.0,1257.7 916.5,1260.9 916.9,1260.1 917.4,1263.3 917.8,1260.8 918.3,1258.9 918.7,1259.0 919.1,1258.8 919.6,1263.7 920.0,1259.3 920.5,1258.7 920.9,1255.6 921.4,1257.5 921.8,1263.6 922.2,1267.2 922.7,1269.7 923.1,1262.8 923.6,1258.2 924.0,1258.1 924.5,1256.2 924.9,1258.8 925.3,1261.8 925.8,1265.5 926.2,1270.0 926.7,1264.4 927.1,1263.8 927.6,1265.2 928.0,1264.4 928.4,1263.5 928.9,1262.2 929.3,1264.3 929.8,1263.5 930.2,1259.0 930.6,1257.2 931.1,1260.1 931.5,1254.7 932.0,1264.4 932.4,1265.0 932.9,1267.3 933.3,1262.5 933.7,1261.4 934.2,1265.9 934.6,1270.4 935.1,1270.8 935.5,1269.8 936.0,1265.0 936.4,1262.1 936.8,1260.7 937.3,1261.6 937.7,1269.6 938.2,1271.8 938.6,1273.6 939.1,1274.9 939.5,1275.3 939.9,1271.0 940.4,1267.4 940.8,1264.6 941.3,1264.8 941.7,1260.5 942.2,1262.0 942.6,1264.5 943.0,1259.3 943.5,1256.3 943.9,1256.1 944.4,1263.2 944.8,1270.6 945.3,1266.2 945.7,1268.7 946.1,1267.1 946.6,1270.3 947.0,1269.3 947.5,1266.0 947.9,1264.8 948.4,1262.8 948.8,1260.0 949.2,1261.3 949.7,1258.0 950.1,1267.3 950.6,1269.1 951.0,1283.3 951.5,1280.3 951.9,1274.7 952.3,1266.9 952.8,1263.6 953.2,1270.7 953.7,1273.5 954.1,1270.1 954.6,1268.7 955.0,1262.1 955.4,1267.2 955.9,1270.2 956.3,1274.2 956.8,1275.9 957.2,1269.5 957.7,1265.4 958.1,1263.3 958.5,1267.1 959.0,1269.5 959.4,1265.9 959.9,1260.9 960.3,1260.8 960.8,1268.9 961.2,1272.3 961.6,1269.7 962.1,1266.5 962.5,1264.8 963.0,1267.3 963.4,1270.1 963.9,1268.0 964.3,1267.3 964.7,1264.8 965.2,1269.6 965.6,1270.7 966.1,1271.1 966.5,1270.7 967.0,1272.7 967.4,1269.2 967.8,1268.7 968.3,1267.2 968.7,1271.8 969.2,1275.0 969.6,1276.8 970.1,1270.0 970.5,1268.0 970.9,1268.2 971.4,1271.9 971.8,1268.3 972.3,1268.5 972.7,1266.2 973.2,1267.9 973.6,1265.4 974.0,1268.3 974.5,1267.7 974.9,1264.9 975.4,1268.8 975.8,1270.3 976.3,1271.3 976.7,1264.9 977.1,1261.6 977.6,1262.5 978.0,1266.2 978.5,1263.5 978.9,1260.7 979.4,1259.9 979.8,1267.8 980.2,1275.4 980.7,1277.3 981.1,1275.0 981.6,1270.8 982.0,1266.6 982.5,1267.6 982.9,1268.4 983.3,1267.6 983.8,1267.3 984.2,1267.1 984.7,1271.4 985.1,1273.8 985.6,1276.5 986.0,1271.1 986.4,1268.5 986.9,1269.0 987.3,1274.9 987.8,1274.6 988.2,1269.8 988.7,1267.3 989.1,1269.5 989.5,1275.5 990.0,1282.8 990.4,1278.3 990.9,1274.2 991.3,1267.7 991.8,1269.5 992.2,1272.9 992.6,1272.4 993.1,1275.6 993.5,1272.7 994.0,1273.2 994.4,1277.9 994.9,1278.3 995.3,1283.7 995.7,1277.3 996.2,1274.9 996.6,1272.3 997.1,1271.5 997.5,1276.9 998.0,1277.2 998.4,1280.8 998.8,1276.3 999.3,1276.2 999.7,1274.4 1000.2,1276.7 1000.6,1272.9 1001.1,1274.4 1001.5,1269.6 1001.9,1274.6 1002.4,1276.5 1002.8,1280.9 1003.3,1280.8 1003.7,1280.7 1004.2,1282.2 1004.6,1280.5 1005.0,1274.8 1005.5,1277.7 1005.9,1276.0 1006.4,1277.2 1006.8,1275.9 1007.3,1278.2 1007.7,1277.2 1008.1,1273.6 1008.6,1274.7 1009.0,1280.9 1009.5,1281.9 1009.9,1279.4 1010.4,1276.3 1010.8,1272.1 1011.2,1272.9 1011.7,1270.8 1012.1,1277.1 1012.6,1272.0 1013.0,1271.6 1013.5,1266.0 1013.9,1270.4 1014.3,1277.8 1014.8,1279.1 1015.2,1277.9 1015.7,1272.8 1016.1,1276.1 1016.6,1275.6 1017.0,1279.3 1017.4,1277.3 1017.9,1277.3 1018.3,1270.3 1018.8,1267.7 1019.2,1267.8 1019.7,1272.7 1020.1,1276.3 1020.5,1280.2 1021.0,1278.4 1021.4,1276.7 1021.9,1271.2 1022.3,1269.6 1022.8,1272.7 1023.2,1279.7 1023.6,1278.6 1024.1,1277.2 1024.5,1275.1 1025.0,1273.0 1025.4,1275.8 1025.9,1277.7 1026.3,1286.0 1026.7,1291.4 1027.2,1286.2 1027.6,1280.1 1028.1,1269.6 1028.5,1274.3 1029.0,1277.2 1029.4,1281.7 1029.8,1276.1 1030.3,1273.0 1030.7,1272.6 1031.2,1277.4 1031.6,1278.0 1032.1,1275.6 1032.5,1270.8 1032.9,1271.1 1033.4,1267.1 1033.8,1274.0 1034.3,1277.1 1034.7,1282.9 1035.2,1279.5 1035.6,1280.5 1036.0,1280.5 1036.5,1275.7 1036.9,1269.0 1037.4,1266.7 1037.8,1270.1 1038.3,1276.8 1038.7,1277.9 1039.1,1281.3 1039.6,1279.3 1040.0,1279.1 1040.5,1273.6 1040.9,1271.7 1041.4,1270.2 1041.8,1274.8 1042.2,1277.4 1042.7,1277.7 1043.1,1278.8 1043.6,1280.9 1044.0,1281.1 1044.5,1280.2 1044.9,1281.2 1045.3,1287.4 1045.8,1285.4 1046.2,1283.9 1046.7,1281.8 1047.1,1277.1 1047.6,1272.1 1048.0,1271.6 1048.4,1278.6 1048.9,1281.3 1049.3,1278.6 1049.8,1276.3 1050.2,1272.3 1050.7,1271.6 1051.1,1277.0 1051.5,1281.9 1052.0,1286.4 1052.4,1279.5 1052.9,1279.5 1053.3,1277.5 1053.7,1281.7 1054.2,1281.4 1054.6,1280.1 1055.1,1281.6 1055.5,1279.6 1056.0,1285.7 1056.4,1284.5 1056.8,1286.2 1057.3,1282.3 1057.7,1280.9 1058.2,1282.1 1058.6,1277.5 1059.1,1278.2 1059.5,1277.8 1059.9,1283.8 1060.4,1282.8 1060.8,1279.1 1061.3,1277.5 1061.7,1279.6 1062.2,1275.0 1062.6,1272.9 1063.0,1271.5 1063.5,1274.8 1063.9,1276.2 1064.4,1274.5 1064.8,1282.0 1065.3,1278.2 1065.7,1280.5 1066.1,1279.8 1066.6,1280.5 1067.0,1273.7 1067.5,1268.8 1067.9,1269.6 1068.4,1274.2 1068.8,1271.0 1069.2,1270.5 1069.7,1269.7 1070.1,1276.5 1070.6,1283.0 1071.0,1283.8 1071.5,1282.4 1071.9,1277.8 1072.3,1275.3 1072.8,1280.4 1073.2,1279.6 1073.7,1284.5 1074.1,1286.2 1074.6,1284.9 1075.0,1284.7 1075.4,1272.9 1075.9,1276.3 1076.3,1277.0 1076.8,1282.5 1077.2,1280.6 1077.7,1286.4 1078.1,1288.3 1078.5,1289.3 1079.0,1279.1 1079.4,1274.4 1079.9,1272.3 1080.3,1273.1 1080.8,1274.6 1081.2,1276.6 1081.6,1275.4 1082.1,1277.7 1082.5,1279.9 1083.0,1287.2 1083.4,1282.7 1083.9,1276.8 1084.3,1271.7 1084.7,1276.0 1085.2,1283.1 1085.6,1281.8 1086.1,1285.7 1086.5,1283.3 1087.0,1286.1 1087.4,1281.4 1087.8,1284.9 1088.3,1285.5 1088.7,1287.8 1089.2,1284.5 1089.6,1280.8 1090.1,1279.9 1090.5,1279.3 1090.9,1280.3 1091.4,1281.2 1091.8,1280.2 1092.3,1284.8 1092.7,1284.7 1093.2,1289.6 1093.6,1284.1 1094.0,1282.9 1094.5,1274.5 1094.9,1281.6 1095.4,1280.5 1095.8,1287.8 1096.3,1285.5 1096.7,1289.8 1097.1,1284.9 1097.6,1281.5 1098.0,1274.0 1098.5,1275.8 1098.9,1276.5 1099.4,1280.3 1099.8,1280.9 1100.2,1277.6 1100.7,1279.4 1101.1,1280.8 1101.6,1289.2 1102.0,1286.8 1102.5,1285.9 1102.9,1282.9 1103.3,1286.7 1103.8,1281.6 1104.2,1281.6 1104.7,1274.5 1105.1,1281.7 1105.6,1280.1 1106.0,1284.9 1106.4,1280.5 1106.9,1275.9 1107.3,1276.0 1107.8,1282.9 1108.2,1291.3 1108.7,1285.9 1109.1,1280.8 1109.5,1276.0 1110.0,1280.8 1110.4,1279.6 1110.9,1283.1 1111.3,1282.9 1111.8,1284.4 1112.2,1282.1 1112.6,1281.0 1113.1,1278.6 1113.5,1277.4 1114.0,1279.7 1114.4,1284.0 1114.9,1283.5 1115.3,1282.9" fill="none" stroke="#026587" stroke-width="6.5" stroke-linejoin="round" stroke-linecap="round"/>
<path d="M121.2,1461.1 121.6,1431.5 122.1,1460.0 122.5,1449.2 123.0,1442.1 123.4,1448.3 123.9,1438.9 124.3,1438.4 124.7,1430.3 125.2,1441.5 125.6,1434.4 126.1,1438.4 126.5,1451.2 127.0,1443.9 127.4,1431.5 127.8,1445.4 128.3,1449.1 128.7,1439.9 129.2,1438.9 129.6,1436.9 130.1,1428.4 130.5,1445.2 130.9,1439.6 131.4,1434.2 131.8,1434.0 132.3,1432.7 132.7,1446.3 133.2,1430.7 133.6,1418.2 134.0,1433.7 134.5,1439.8 134.9,1437.5 135.4,1428.1 135.8,1417.2 136.3,1448.6 136.7,1422.0 137.1,1431.3 137.6,1428.5 138.0,1423.9 138.5,1425.5 138.9,1419.4 139.4,1420.9 139.8,1424.0 140.2,1427.0 140.7,1448.8 141.1,1419.2 141.6,1437.2 142.0,1427.9 142.5,1423.8 142.9,1414.8 143.3,1426.3 143.8,1417.8 144.2,1429.0 144.7,1429.6 145.1,1416.2 145.6,1436.4 146.0,1425.3 146.4,1427.1 146.9,1429.4 147.3,1423.9 147.8,1436.2 148.2,1441.4 148.7,1429.3 149.1,1435.9 149.5,1444.5 150.0,1434.4 150.4,1426.8 150.9,1439.2 151.3,1430.3 151.8,1427.7 152.2,1417.1 152.6,1430.9 153.1,1422.5 153.5,1432.1 154.0,1412.0 154.4,1420.0 154.9,1442.9 155.3,1445.5 155.7,1433.8 156.2,1433.1 156.6,1410.9 157.1,1435.0 157.5,1425.2 158.0,1412.4 158.4,1422.4 158.8,1422.1 159.3,1437.2 159.7,1433.3 160.2,1452.5 160.6,1444.9 161.1,1433.1 161.5,1437.4 161.9,1422.4 162.4,1440.7 162.8,1430.7 163.3,1435.4 163.7,1437.2 164.2,1435.0 164.6,1431.3 165.0,1441.5 165.5,1442.0 165.9,1413.9 166.4,1430.6 166.8,1434.5 167.3,1431.4 167.7,1438.0 168.1,1444.3 168.6,1438.4 169.0,1436.1 169.5,1446.8 169.9,1441.4 170.4,1441.1 170.8,1456.9 171.2,1448.8 171.7,1431.1 172.1,1451.6 172.6,1434.1 173.0,1442.5 173.5,1424.9 173.9,1449.7 174.3,1426.3 174.8,1445.3 175.2,1459.9 175.7,1447.2 176.1,1442.5 176.6,1433.7 177.0,1439.9 177.4,1450.4 177.9,1422.8 178.3,1433.7 178.8,1454.0 179.2,1439.5 179.7,1453.5 180.1,1449.5 180.5,1436.5 181.0,1443.3 181.4,1457.1 181.9,1442.5 182.3,1445.4 182.8,1450.8 183.2,1441.7 183.6,1444.4 184.1,1451.7 184.5,1446.1 185.0,1448.1 185.4,1454.3 185.8,1465.0 186.3,1449.3 186.7,1445.2 187.2,1476.5 187.6,1459.9 188.1,1435.5 188.5,1448.3 188.9,1438.8 189.4,1460.1 189.8,1443.8 190.3,1450.3 190.7,1469.4 191.2,1449.8 191.6,1455.9 192.0,1459.5 192.5,1465.6 192.9,1466.4 193.4,1470.8 193.8,1452.5 194.3,1462.4 194.7,1443.9 195.1,1459.2 195.6,1457.9 196.0,1475.2 196.5,1463.1 196.9,1457.5 197.4,1457.8 197.8,1453.5 198.2,1457.3 198.7,1455.9 199.1,1462.1 199.6,1457.5 200.0,1463.1 200.5,1472.2 200.9,1453.6 201.3,1457.1 201.8,1452.9 202.2,1482.0 202.7,1479.2 203.1,1469.3 203.6,1465.7 204.0,1457.3 204.4,1474.5 204.9,1466.9 205.3,1470.0 205.8,1467.5 206.2,1442.0 206.7,1452.8 207.1,1462.9 207.5,1472.3 208.0,1459.3 208.4,1469.8 208.9,1465.4 209.3,1459.1 209.8,1474.5 210.2,1459.4 210.6,1458.5 211.1,1484.3 211.5,1482.7 212.0,1472.6 212.4,1480.7 212.9,1465.2 213.3,1469.1 213.7,1474.9 214.2,1475.2 214.6,1477.1 215.1,1461.0 215.5,1481.0 216.0,1463.3 216.4,1472.5 216.8,1496.0 217.3,1482.3 217.7,1469.4 218.2,1477.0 218.6,1467.8 219.1,1468.5 219.5,1467.4 219.9,1471.7 220.4,1474.9 220.8,1480.7 221.3,1494.2 221.7,1479.7 222.2,1478.1 222.6,1466.0 223.0,1487.1 223.5,1477.3 223.9,1490.0 224.4,1477.3 224.8,1491.2 225.3,1471.9 225.7,1473.7 226.1,1475.2 226.6,1474.7 227.0,1479.8 227.5,1478.7 227.9,1459.9 228.4,1467.0 228.8,1469.8 229.2,1481.6 229.7,1473.8 230.1,1482.6 230.6,1482.4 231.0,1478.7 231.5,1459.8 231.9,1494.1 232.3,1481.9 232.8,1473.6 233.2,1481.4 233.7,1474.6 234.1,1479.6 234.6,1472.1 235.0,1497.4 235.4,1477.1 235.9,1483.4 236.3,1474.1 236.8,1487.2 237.2,1492.7 237.7,1482.5 238.1,1474.0 238.5,1483.1 239.0,1479.7 239.4,1488.5 239.9,1483.7 240.3,1484.3 240.8,1479.8 241.2,1479.3 241.6,1481.6 242.1,1492.3 242.5,1481.1 243.0,1486.3 243.4,1477.2 243.9,1478.3 244.3,1470.7 244.7,1479.2 245.2,1475.0 245.6,1461.5 246.1,1472.4 246.5,1467.3 247.0,1477.5 247.4,1476.4 247.8,1490.7 248.3,1481.1 248.7,1475.2 249.2,1476.5 249.6,1476.7 250.1,1476.3 250.5,1484.6 250.9,1475.9 251.4,1483.1 251.8,1489.5 252.3,1476.8 252.7,1481.2 253.2,1495.6 253.6,1486.0 254.0,1479.0 254.5,1487.1 254.9,1480.0 255.4,1475.2 255.8,1489.5 256.3,1474.5 256.7,1476.6 257.1,1481.0 257.6,1489.3 258.0,1487.9 258.5,1477.2 258.9,1482.4 259.4,1479.6 259.8,1489.6 260.2,1485.4 260.7,1477.1 261.1,1489.8 261.6,1471.9 262.0,1480.0 262.5,1467.1 262.9,1491.0 263.3,1481.9 263.8,1488.2 264.2,1505.9 264.7,1485.7 265.1,1485.4 265.6,1478.9 266.0,1485.6 266.4,1479.6 266.9,1488.0 267.3,1487.5 267.8,1485.5 268.2,1481.3 268.7,1481.8 269.1,1482.5 269.5,1481.6 270.0,1487.1 270.4,1476.8 270.9,1480.4 271.3,1485.7 271.8,1496.5 272.2,1485.0 272.6,1480.7 273.1,1480.2 273.5,1494.5 274.0,1476.8 274.4,1477.1 274.9,1480.5 275.3,1475.2 275.7,1478.9 276.2,1484.9 276.6,1479.8 277.1,1466.1 277.5,1485.2 278.0,1488.7 278.4,1477.6 278.8,1497.3 279.3,1483.9 279.7,1484.6 280.2,1471.1 280.6,1502.0 281.1,1499.1 281.5,1492.7 281.9,1496.3 282.4,1476.3 282.8,1477.4 283.3,1485.3 283.7,1482.1 284.2,1472.6 284.6,1483.4 285.0,1488.8 285.5,1479.8 285.9,1494.0 286.4,1484.6 286.8,1478.1 287.3,1474.7 287.7,1472.4 288.1,1489.0 288.6,1470.2 289.0,1486.9 289.5,1486.8 289.9,1471.2 290.4,1487.0 290.8,1482.7 291.2,1497.2 291.7,1485.9 292.1,1481.1 292.6,1486.8 293.0,1493.2 293.5,1475.4 293.9,1476.0 294.3,1489.4 294.8,1499.4 295.2,1471.5 295.7,1495.4 296.1,1486.7 296.6,1489.5 297.0,1487.8 297.4,1479.4 297.9,1477.9 298.3,1501.2 298.8,1472.0 299.2,1483.5 299.7,1495.1 300.1,1481.7 300.5,1488.9 301.0,1483.1 301.4,1476.2 301.9,1487.2 302.3,1482.6 302.8,1477.4 303.2,1488.2 303.6,1479.6 304.1,1484.3 304.5,1478.1 305.0,1494.5 305.4,1489.9 305.9,1484.6 306.3,1480.9 306.7,1480.3 307.2,1480.6 307.6,1474.6 308.1,1494.4 308.5,1474.9 308.9,1489.3 309.4,1489.2 309.8,1479.8 310.3,1480.8 310.7,1470.8 311.2,1479.9 311.6,1476.6 312.0,1488.8 312.5,1476.0 312.9,1476.3 313.4,1486.7 313.8,1466.7 314.3,1475.4 314.7,1490.6 315.1,1479.5 315.6,1487.6 316.0,1456.0 316.5,1474.5 316.9,1478.4 317.4,1467.8 317.8,1486.4 318.2,1466.8 318.7,1473.6 319.1,1480.7 319.6,1478.5 320.0,1475.1 320.5,1469.1 320.9,1477.6 321.3,1469.3 321.8,1487.0 322.2,1472.6 322.7,1466.5 323.1,1483.1 323.6,1488.3 324.0,1476.7 324.4,1468.6 324.9,1459.7 325.3,1466.7 325.8,1478.6 326.2,1475.9 326.7,1455.8 327.1,1472.2 327.5,1455.8 328.0,1474.5 328.4,1482.8 328.9,1466.4 329.3,1476.6 329.8,1463.3 330.2,1465.4 330.6,1473.3 331.1,1473.9 331.5,1462.1 332.0,1475.7 332.4,1464.5 332.9,1438.5 333.3,1468.2 333.7,1468.2 334.2,1438.4 334.6,1460.7 335.1,1468.0 335.5,1462.8 336.0,1454.4 336.4,1452.5 336.8,1459.8 337.3,1456.6 337.7,1464.3 338.2,1460.7 338.6,1470.8 339.1,1453.1 339.5,1461.2 339.9,1460.7 340.4,1456.3 340.8,1462.0 341.3,1442.1 341.7,1451.9 342.2,1470.0 342.6,1458.9 343.0,1453.9 343.5,1461.8 343.9,1451.4 344.4,1443.0 344.8,1453.3 345.3,1458.5 345.7,1448.0 346.1,1463.4 346.6,1452.0 347.0,1449.2 347.5,1444.2 347.9,1465.8 348.4,1467.6 348.8,1438.2 349.2,1447.2 349.7,1440.9 350.1,1456.4 350.6,1445.7 351.0,1453.7 351.5,1444.5 351.9,1437.2 352.3,1457.5 352.8,1445.6 353.2,1442.3 353.7,1436.3 354.1,1445.6 354.6,1452.3 355.0,1439.7 355.4,1460.4 355.9,1455.0 356.3,1442.2 356.8,1445.3 357.2,1436.8 357.7,1443.9 358.1,1429.5 358.5,1429.6 359.0,1457.3 359.4,1438.9 359.9,1443.4 360.3,1429.4 360.8,1438.9 361.2,1433.4 361.6,1416.4 362.1,1430.7 362.5,1432.3 363.0,1430.6 363.4,1440.0 363.9,1435.1 364.3,1417.8 364.7,1422.6 365.2,1426.4 365.6,1427.5 366.1,1426.0 366.5,1413.9 367.0,1426.2 367.4,1421.0 367.8,1404.8 368.3,1403.3 368.7,1408.8 369.2,1413.5 369.6,1408.9 370.1,1411.1 370.5,1407.4 370.9,1413.9 371.4,1422.0 371.8,1420.8 372.3,1402.7 372.7,1423.2 373.2,1427.3 373.6,1409.2 374.0,1429.5 374.5,1414.9 374.9,1404.5 375.4,1425.9 375.8,1411.9 376.3,1408.8 376.7,1428.2 377.1,1424.3 377.6,1409.4 378.0,1406.0 378.5,1411.1 378.9,1412.6 379.4,1417.9 379.8,1389.6 380.2,1413.1 380.7,1411.8 381.1,1406.8 381.6,1410.9 382.0,1414.9 382.5,1396.0 382.9,1397.4 383.3,1406.9 383.8,1405.8 384.2,1406.8 384.7,1410.1 385.1,1423.9 385.6,1403.0 386.0,1408.2 386.4,1413.1 386.9,1402.7 387.3,1401.8 387.8,1407.5 388.2,1408.2 388.7,1397.9 389.1,1408.5 389.5,1407.2 390.0,1406.2 390.4,1411.5 390.9,1391.9 391.3,1409.9 391.8,1398.9 392.2,1402.2 392.6,1400.4 393.1,1394.3 393.5,1406.1 394.0,1418.8 394.4,1404.2 394.9,1412.7 395.3,1396.0 395.7,1396.6 396.2,1402.0 396.6,1397.5 397.1,1396.1 397.5,1408.0 398.0,1406.3 398.4,1409.2 398.8,1403.2 399.3,1400.7 399.7,1398.9 400.2,1410.9 400.6,1401.8 401.1,1412.2 401.5,1410.9 401.9,1420.5 402.4,1399.9 402.8,1414.5 403.3,1394.1 403.7,1414.3 404.2,1409.3 404.6,1414.2 405.0,1388.6 405.5,1416.6 405.9,1402.1 406.4,1401.7 406.8,1391.0 407.3,1397.4 407.7,1414.0 408.1,1417.9 408.6,1408.5 409.0,1399.0 409.5,1409.7 409.9,1392.2 410.4,1402.6 410.8,1399.4 411.2,1414.2 411.7,1392.6 412.1,1402.0 412.6,1408.9 413.0,1411.1 413.5,1395.6 413.9,1402.3 414.3,1389.7 414.8,1414.4 415.2,1404.0 415.7,1404.9 416.1,1403.5 416.6,1421.4 417.0,1408.5 417.4,1402.0 417.9,1418.0 418.3,1414.8 418.8,1409.5 419.2,1402.6 419.7,1410.5 420.1,1414.6 420.5,1409.3 421.0,1409.8 421.4,1418.4 421.9,1404.1 422.3,1417.0 422.8,1408.1 423.2,1401.3 423.6,1418.3 424.1,1417.8 424.5,1405.6 425.0,1405.8 425.4,1421.8 425.9,1414.0 426.3,1398.4 426.7,1406.4 427.2,1416.7 427.6,1409.7 428.1,1422.2 428.5,1411.7 429.0,1420.0 429.4,1416.4 429.8,1419.3 430.3,1418.0 430.7,1417.4 431.2,1407.7 431.6,1427.5 432.0,1414.2 432.5,1409.4 432.9,1431.1 433.4,1413.9 433.8,1430.8 434.3,1402.0 434.7,1422.2 435.1,1419.8 435.6,1413.6 436.0,1429.1 436.5,1411.8 436.9,1421.1 437.4,1416.4 437.8,1427.5 438.2,1412.1 438.7,1422.6 439.1,1422.1 439.6,1404.7 440.0,1446.6 440.5,1423.6 440.9,1425.6 441.3,1428.6 441.8,1419.4 442.2,1418.5 442.7,1404.7 443.1,1418.6 443.6,1422.6 444.0,1427.9 444.4,1424.5 444.9,1426.0 445.3,1425.6 445.8,1427.5 446.2,1427.8 446.7,1426.5 447.1,1432.5 447.5,1413.1 448.0,1422.7 448.4,1432.1 448.9,1425.9 449.3,1419.3 449.8,1424.9 450.2,1425.9 450.6,1428.4 451.1,1444.0 451.5,1439.6 452.0,1424.7 452.4,1430.3 452.9,1445.0 453.3,1425.5 453.7,1435.6 454.2,1427.2 454.6,1422.0 455.1,1428.4 455.5,1430.7 456.0,1440.7 456.4,1424.4 456.8,1442.0 457.3,1429.6 457.7,1430.0 458.2,1423.5 458.6,1414.8 459.1,1432.3 459.5,1425.8 459.9,1432.7 460.4,1430.1 460.8,1415.6 461.3,1427.7 461.7,1431.8 462.2,1432.3 462.6,1433.6 463.0,1432.7 463.5,1426.0 463.9,1432.5 464.4,1428.9 464.8,1433.2 465.3,1434.0 465.7,1433.5 466.1,1449.6 466.6,1425.5 467.0,1419.8 467.5,1438.4 467.9,1430.1 468.4,1436.7 468.8,1433.3 469.2,1437.6 469.7,1431.5 470.1,1431.1 470.6,1451.1 471.0,1445.5 471.5,1427.3 471.9,1432.9 472.3,1445.9 472.8,1437.1 473.2,1427.2 473.7,1439.6 474.1,1442.9 474.6,1434.2 475.0,1438.7 475.4,1432.4 475.9,1447.3 476.3,1453.3 476.8,1438.2 477.2,1432.7 477.7,1443.5 478.1,1439.0 478.5,1438.4 479.0,1430.2 479.4,1432.2 479.9,1429.9 480.3,1431.9 480.8,1436.5 481.2,1433.5 481.6,1452.7 482.1,1437.2 482.5,1434.8 483.0,1439.0 483.4,1446.7 483.9,1447.9 484.3,1430.2 484.7,1431.1 485.2,1431.1 485.6,1437.5 486.1,1439.3 486.5,1452.2 487.0,1451.3 487.4,1433.1 487.8,1420.3 488.3,1427.5 488.7,1432.7 489.2,1438.9 489.6,1444.3 490.1,1429.7 490.5,1446.7 490.9,1447.2 491.4,1420.9 491.8,1429.0 492.3,1454.0 492.7,1437.7 493.2,1440.1 493.6,1470.2 494.0,1442.7 494.5,1439.4 494.9,1422.5 495.4,1439.9 495.8,1444.0 496.3,1434.3 496.7,1453.4 497.1,1433.9 497.6,1452.4 498.0,1444.8 498.5,1437.4 498.9,1447.1 499.4,1454.3 499.8,1448.2 500.2,1431.5 500.7,1449.4 501.1,1440.3 501.6,1449.5 502.0,1450.2 502.5,1442.3 502.9,1451.3 503.3,1438.2 503.8,1453.3 504.2,1440.2 504.7,1449.8 505.1,1446.3 505.6,1439.6 506.0,1455.4 506.4,1432.7 506.9,1452.1 507.3,1441.9 507.8,1444.7 508.2,1445.0 508.7,1439.1 509.1,1448.3 509.5,1435.7 510.0,1422.2 510.4,1444.4 510.9,1432.9 511.3,1453.4 511.8,1443.7 512.2,1444.5 512.6,1434.9 513.1,1451.7 513.5,1438.1 514.0,1434.8 514.4,1432.7 514.9,1437.8 515.3,1453.1 515.7,1448.9 516.2,1443.7 516.6,1439.3 517.1,1442.0 517.5,1454.8 518.0,1446.5 518.4,1445.2 518.8,1455.9 519.3,1441.9 519.7,1444.2 520.2,1430.3 520.6,1437.7 521.1,1438.5 521.5,1442.0 521.9,1445.7 522.4,1437.3 522.8,1445.5 523.3,1449.5 523.7,1438.2 524.2,1442.9 524.6,1445.9 525.0,1431.0 525.5,1451.6 525.9,1438.3 526.4,1442.9 526.8,1428.9 527.3,1446.4 527.7,1446.3 528.1,1441.4 528.6,1435.4 529.0,1446.0 529.5,1430.2 529.9,1448.5 530.4,1448.3 530.8,1448.3 531.2,1452.2 531.7,1440.9 532.1,1444.9 532.6,1448.4 533.0,1446.8 533.5,1435.2 533.9,1441.0 534.3,1438.5 534.8,1444.4 535.2,1443.8 535.7,1450.6 536.1,1449.1 536.6,1452.0 537.0,1439.6 537.4,1454.3 537.9,1449.5 538.3,1468.1 538.8,1447.3 539.2,1425.1 539.7,1456.8 540.1,1434.0 540.5,1443.1 541.0,1441.0 541.4,1441.6 541.9,1456.1 542.3,1449.5 542.8,1446.9 543.2,1440.1 543.6,1441.2 544.1,1444.8 544.5,1446.4 545.0,1442.4 545.4,1428.9 545.9,1446.1 546.3,1443.4 546.7,1436.7 547.2,1447.7 547.6,1449.7 548.1,1441.5 548.5,1464.0 549.0,1436.0 549.4,1442.8 549.8,1445.4 550.3,1444.9 550.7,1452.8 551.2,1438.1 551.6,1435.6 552.1,1458.1 552.5,1442.8 552.9,1447.2 553.4,1448.8 553.8,1451.3 554.3,1447.6 554.7,1435.1 555.2,1440.6 555.6,1443.3 556.0,1447.9 556.5,1454.7 556.9,1434.8 557.4,1445.3 557.8,1443.6 558.2,1444.5 558.7,1425.8 559.1,1432.0 559.6,1439.4 560.0,1434.6 560.5,1437.5 560.9,1438.6 561.3,1445.3 561.8,1430.0 562.2,1429.9 562.7,1432.6 563.1,1446.6 563.6,1432.3 564.0,1449.1 564.4,1445.8 564.9,1441.7 565.3,1430.9 565.8,1440.3 566.2,1440.0 566.7,1437.2 567.1,1429.7 567.5,1435.2 568.0,1433.7 568.4,1435.9 568.9,1442.7 569.3,1436.0 569.8,1433.5 570.2,1455.2 570.6,1446.8 571.1,1458.7 571.5,1450.4 572.0,1439.2 572.4,1447.5 572.9,1445.4 573.3,1446.8 573.7,1448.5 574.2,1444.1 574.6,1451.8 575.1,1452.2 575.5,1429.4 576.0,1448.6 576.4,1449.3 576.8,1442.0 577.3,1457.7 577.7,1449.0 578.2,1456.9 578.6,1458.3 579.1,1456.7 579.5,1442.9 579.9,1446.4 580.4,1445.7 580.8,1437.3 581.3,1444.2 581.7,1451.5 582.2,1433.9 582.6,1450.3 583.0,1436.5 583.5,1435.4 583.9,1448.2 584.4,1437.0 584.8,1453.2 585.3,1452.3 585.7,1449.0 586.1,1441.1 586.6,1445.8 587.0,1455.4 587.5,1458.6 587.9,1439.9 588.4,1429.6 588.8,1443.8 589.2,1446.7 589.7,1448.3 590.1,1451.9 590.6,1438.2 591.0,1437.8 591.5,1437.0 591.9,1450.5 592.3,1444.2 592.8,1451.5 593.2,1450.1 593.7,1451.0 594.1,1445.1 594.6,1449.0 595.0,1442.5 595.4,1449.1 595.9,1447.6 596.3,1448.1 596.8,1448.7 597.2,1448.8 597.7,1445.2 598.1,1444.6 598.5,1443.0 599.0,1432.9 599.4,1452.1 599.9,1456.8 600.3,1433.4 600.8,1460.5 601.2,1455.5 601.6,1449.6 602.1,1446.0 602.5,1446.3 603.0,1440.6 603.4,1441.3 603.9,1444.1 604.3,1449.0 604.7,1431.6 605.2,1441.3 605.6,1437.7 606.1,1440.2 606.5,1435.7 607.0,1440.9 607.4,1445.6 607.8,1438.0 608.3,1451.1 608.7,1448.1 609.2,1442.9 609.6,1453.8 610.1,1439.1 610.5,1443.1 610.9,1435.8 611.4,1432.3 611.8,1458.6 612.3,1441.9 612.7,1436.4 613.2,1445.0 613.6,1447.3 614.0,1436.4 614.5,1442.9 614.9,1456.3 615.4,1451.6 615.8,1443.5 616.3,1434.5 616.7,1456.7 617.1,1455.6 617.6,1442.9 618.0,1443.7 618.5,1452.1 618.9,1454.8 619.4,1455.3 619.8,1448.6 620.2,1444.7 620.7,1446.4 621.1,1443.4 621.6,1449.6 622.0,1457.7 622.5,1443.1 622.9,1439.4 623.3,1446.0 623.8,1453.2 624.2,1438.5 624.7,1447.1 625.1,1441.2 625.6,1438.8 626.0,1458.0 626.4,1448.5 626.9,1443.6 627.3,1448.3 627.8,1447.0 628.2,1451.0 628.7,1456.6 629.1,1443.7 629.5,1456.4 630.0,1446.0 630.4,1450.9 630.9,1440.2 631.3,1440.4 631.8,1451.1 632.2,1449.8 632.6,1446.9 633.1,1450.8 633.5,1441.3 634.0,1457.5 634.4,1462.5 634.9,1449.7 635.3,1453.6 635.7,1447.0 636.2,1455.5 636.6,1448.8 637.1,1446.6 637.5,1449.9 638.0,1444.7 638.4,1448.6 638.8,1453.5 639.3,1443.0 639.7,1454.6 640.2,1447.1 640.6,1453.5 641.1,1442.0 641.5,1441.1 641.9,1454.0 642.4,1446.8 642.8,1453.1 643.3,1462.9 643.7,1457.4 644.2,1447.8 644.6,1464.5 645.0,1444.3 645.5,1435.9 645.9,1469.4 646.4,1447.0 646.8,1457.8 647.3,1445.9 647.7,1457.7 648.1,1452.5 648.6,1471.7 649.0,1448.5 649.5,1462.2 649.9,1453.7 650.4,1458.6 650.8,1453.5 651.2,1452.3 651.7,1440.4 652.1,1455.9 652.6,1438.2 653.0,1451.7 653.5,1458.0 653.9,1451.5 654.3,1457.1 654.8,1461.9 655.2,1460.0 655.7,1452.9 656.1,1452.4 656.6,1459.7 657.0,1454.0 657.4,1451.2 657.9,1446.9 658.3,1452.0 658.8,1452.5 659.2,1447.4 659.7,1456.0 660.1,1455.4 660.5,1442.8 661.0,1444.2 661.4,1458.9 661.9,1460.5 662.3,1462.1 662.8,1456.2 663.2,1454.5 663.6,1448.5 664.1,1457.6 664.5,1444.5 665.0,1439.9 665.4,1455.4 665.9,1454.4 666.3,1466.5 666.7,1449.1 667.2,1450.5 667.6,1450.6 668.1,1449.2 668.5,1462.5 669.0,1460.5 669.4,1464.7 669.8,1453.4 670.3,1459.0 670.7,1466.4 671.2,1454.4 671.6,1449.5 672.1,1440.9 672.5,1460.9 672.9,1456.7 673.4,1443.8 673.8,1459.0 674.3,1467.8 674.7,1472.3 675.2,1453.5 675.6,1465.2 676.0,1462.0 676.5,1465.7 676.9,1461.4 677.4,1446.2 677.8,1471.8 678.3,1465.9 678.7,1459.7 679.1,1460.9 679.6,1461.5 680.0,1465.7 680.5,1466.3 680.9,1447.4 681.3,1459.2 681.8,1457.7 682.2,1464.9 682.7,1457.9 683.1,1460.9 683.6,1448.1 684.0,1457.6 684.4,1456.6 684.9,1469.2 685.3,1468.9 685.8,1472.8 686.2,1456.0 686.7,1463.1 687.1,1466.1 687.5,1474.7 688.0,1469.1 688.4,1472.4 688.9,1468.9 689.3,1479.1 689.8,1469.3 690.2,1466.4 690.6,1470.2 691.1,1475.0 691.5,1474.9 692.0,1458.4 692.4,1465.4 692.9,1460.7 693.3,1464.1 693.7,1457.4 694.2,1483.0 694.6,1467.8 695.1,1462.1 695.5,1462.9 696.0,1470.8 696.4,1461.2 696.8,1466.2 697.3,1471.7 697.7,1473.2 698.2,1468.7 698.6,1464.4 699.1,1489.5 699.5,1465.2 699.9,1468.6 700.4,1465.1 700.8,1483.9 701.3,1462.8 701.7,1470.3 702.2,1453.5 702.6,1465.6 703.0,1477.9 703.5,1467.0 703.9,1461.2 704.4,1463.5 704.8,1475.1 705.3,1478.9 705.7,1472.0 706.1,1463.7 706.6,1472.8 707.0,1471.2 707.5,1472.7 707.9,1481.3 708.4,1470.9 708.8,1463.6 709.2,1490.6 709.7,1461.8 710.1,1473.0 710.6,1476.0 711.0,1464.5 711.5,1491.6 711.9,1484.6 712.3,1471.7 712.8,1468.1 713.2,1480.3 713.7,1492.1 714.1,1486.6 714.6,1474.4 715.0,1483.0 715.4,1478.9 715.9,1478.0 716.3,1482.5 716.8,1476.6 717.2,1475.3 717.7,1485.3 718.1,1477.1 718.5,1479.5 719.0,1479.6 719.4,1474.3 719.9,1487.1 720.3,1479.2 720.8,1469.9 721.2,1478.9 721.6,1465.5 722.1,1485.7 722.5,1465.4 723.0,1479.7 723.4,1474.5 723.9,1483.0 724.3,1481.3 724.7,1481.9 725.2,1491.6 725.6,1472.1 726.1,1481.0 726.5,1470.2 727.0,1490.5 727.4,1489.7 727.8,1493.3 728.3,1489.6 728.7,1486.2 729.2,1476.8 729.6,1474.4 730.1,1492.4 730.5,1487.3 730.9,1473.5 731.4,1491.7 731.8,1479.6 732.3,1482.7 732.7,1488.0 733.2,1478.1 733.6,1493.6 734.0,1492.9 734.5,1481.9 734.9,1477.0 735.4,1488.8 735.8,1491.2 736.3,1505.5 736.7,1480.8 737.1,1494.2 737.6,1487.0 738.0,1489.4 738.5,1479.0 738.9,1488.4 739.4,1500.3 739.8,1488.5 740.2,1476.0 740.7,1489.6 741.1,1481.2 741.6,1486.4 742.0,1491.2 742.5,1481.8 742.9,1487.5 743.3,1503.5 743.8,1498.0 744.2,1485.4 744.7,1473.4 745.1,1487.6 745.6,1487.0 746.0,1486.3 746.4,1489.3 746.9,1484.0 747.3,1500.3 747.8,1487.7 748.2,1492.0 748.7,1505.2 749.1,1489.9 749.5,1484.2 750.0,1482.0 750.4,1495.4 750.9,1492.3 751.3,1504.7 751.8,1482.5 752.2,1488.2 752.6,1491.0 753.1,1496.0 753.5,1487.7 754.0,1481.9 754.4,1504.9 754.9,1480.7 755.3,1487.8 755.7,1478.4 756.2,1503.0 756.6,1481.0 757.1,1500.9 757.5,1503.3 758.0,1483.2 758.4,1507.2 758.8,1497.8 759.3,1488.0 759.7,1511.8 760.2,1499.3 760.6,1501.6 761.1,1500.7 761.5,1495.2 761.9,1498.1 762.4,1497.8 762.8,1492.1 763.3,1488.3 763.7,1502.2 764.2,1495.3 764.6,1489.7 765.0,1495.1 765.5,1493.6 765.9,1509.0 766.4,1501.5 766.8,1487.0 767.3,1499.0 767.7,1496.3 768.1,1494.6 768.6,1504.8 769.0,1497.3 769.5,1490.0 769.9,1500.9 770.4,1493.7 770.8,1502.0 771.2,1494.1 771.7,1514.9 772.1,1513.0 772.6,1499.9 773.0,1513.6 773.5,1498.2 773.9,1501.3 774.3,1515.1 774.8,1498.9 775.2,1508.3 775.7,1503.1 776.1,1514.0 776.6,1503.4 777.0,1494.4 777.4,1507.9 777.9,1504.2 778.3,1505.1 778.8,1507.9 779.2,1511.9 779.7,1499.1 780.1,1495.5 780.5,1499.3 781.0,1495.3 781.4,1498.0 781.9,1518.1 782.3,1501.6 782.8,1502.8 783.2,1507.3 783.6,1503.5 784.1,1497.0 784.5,1507.2 785.0,1503.2 785.4,1520.9 785.9,1515.5 786.3,1502.2 786.7,1512.2 787.2,1501.4 787.6,1511.8 788.1,1489.0 788.5,1500.9 789.0,1510.6 789.4,1509.9 789.8,1509.9 790.3,1510.6 790.7,1517.2 791.2,1522.7 791.6,1504.8 792.1,1518.3 792.5,1513.9 792.9,1506.0 793.4,1509.4 793.8,1521.5 794.3,1510.3 794.7,1506.9 795.2,1507.7 795.6,1506.1 796.0,1495.3 796.5,1497.9 796.9,1508.0 797.4,1510.8 797.8,1524.2 798.3,1511.2 798.7,1517.7 799.1,1507.6 799.6,1509.7 800.0,1522.5 800.5,1504.1 800.9,1511.1 801.4,1526.1 801.8,1504.7 802.2,1499.2 802.7,1507.8 803.1,1515.3 803.6,1514.2 804.0,1514.7 804.5,1526.2 804.9,1511.2 805.3,1517.8 805.8,1505.9 806.2,1507.3 806.7,1515.2 807.1,1512.1 807.5,1513.1 808.0,1504.5 808.4,1515.9 808.9,1518.7 809.3,1511.0 809.8,1520.8 810.2,1523.1 810.6,1488.4 811.1,1516.9 811.5,1522.1 812.0,1522.0 812.4,1509.7 812.9,1504.5 813.3,1508.8 813.7,1516.4 814.2,1523.1 814.6,1513.5 815.1,1519.7 815.5,1520.0 816.0,1508.7 816.4,1519.9 816.8,1518.8 817.3,1516.9 817.7,1518.9 818.2,1512.0 818.6,1522.9 819.1,1510.8 819.5,1524.8 819.9,1520.6 820.4,1516.0 820.8,1512.1 821.3,1520.1 821.7,1511.0 822.2,1511.7 822.6,1506.1 823.0,1515.1 823.5,1522.8 823.9,1513.4 824.4,1516.1 824.8,1509.1 825.3,1514.7 825.7,1514.6 826.1,1526.9 826.6,1522.1 827.0,1513.7 827.5,1523.9 827.9,1525.1 828.4,1509.7 828.8,1521.2 829.2,1522.0 829.7,1519.3 830.1,1510.9 830.6,1523.0 831.0,1513.9 831.5,1519.4 831.9,1520.8 832.3,1518.6 832.8,1522.1 833.2,1521.3 833.7,1526.8 834.1,1516.4 834.6,1518.8 835.0,1521.6 835.4,1536.8 835.9,1535.8 836.3,1509.6 836.8,1524.2 837.2,1542.6 837.7,1521.0 838.1,1531.2 838.5,1526.3 839.0,1510.2 839.4,1519.8 839.9,1517.3 840.3,1525.8 840.8,1536.1 841.2,1511.4 841.6,1515.2 842.1,1521.3 842.5,1520.6 843.0,1527.0 843.4,1525.4 843.9,1517.1 844.3,1517.0 844.7,1528.6 845.2,1531.3 845.6,1519.8 846.1,1528.5 846.5,1524.9 847.0,1523.4 847.4,1518.0 847.8,1519.0 848.3,1528.5 848.7,1530.8 849.2,1527.0 849.6,1522.0 850.1,1512.8 850.5,1522.6 850.9,1515.1 851.4,1519.7 851.8,1534.1 852.3,1509.1 852.7,1515.5 853.2,1525.7 853.6,1516.8 854.0,1521.6 854.5,1531.4 854.9,1527.1 855.4,1532.7 855.8,1528.5 856.3,1517.3 856.7,1530.6 857.1,1520.9 857.6,1523.8 858.0,1533.4 858.5,1524.3 858.9,1514.5 859.4,1527.8 859.8,1513.3 860.2,1508.7 860.7,1523.7 861.1,1520.3 861.6,1529.3 862.0,1524.2 862.5,1532.3 862.9,1535.7 863.3,1513.2 863.8,1531.9 864.2,1524.5 864.7,1530.9 865.1,1522.4 865.6,1521.5 866.0,1511.0 866.4,1524.8 866.9,1513.1 867.3,1519.8 867.8,1537.6 868.2,1533.5 868.7,1526.9 869.1,1541.8 869.5,1532.2 870.0,1525.9 870.4,1518.9 870.9,1535.5 871.3,1536.3 871.8,1551.7 872.2,1529.3 872.6,1520.0 873.1,1529.3 873.5,1515.8 874.0,1524.2 874.4,1530.3 874.9,1525.8 875.3,1523.8 875.7,1526.1 876.2,1535.2 876.6,1523.1 877.1,1521.6 877.5,1523.4 878.0,1522.7 878.4,1529.4 878.8,1507.8 879.3,1525.0 879.7,1523.3 880.2,1528.2 880.6,1533.2 881.1,1529.6 881.5,1526.6 881.9,1521.4 882.4,1530.2 882.8,1529.4 883.3,1523.1 883.7,1525.4 884.2,1528.2 884.6,1521.9 885.0,1518.9 885.5,1535.9 885.9,1523.5 886.4,1524.5 886.8,1537.0 887.3,1533.0 887.7,1528.2 888.1,1522.0 888.6,1519.4 889.0,1525.6 889.5,1513.2 889.9,1526.2 890.4,1529.0 890.8,1523.0 891.2,1518.1 891.7,1540.9 892.1,1521.0 892.6,1523.4 893.0,1531.0 893.5,1536.1 893.9,1531.3 894.3,1524.3 894.8,1530.0 895.2,1539.2 895.7,1527.8 896.1,1530.2 896.6,1535.0 897.0,1524.3 897.4,1529.9 897.9,1522.0 898.3,1527.2 898.8,1520.1 899.2,1525.6 899.7,1530.8 900.1,1529.2 900.5,1531.0 901.0,1527.3 901.4,1520.8 901.9,1520.6 902.3,1534.1 902.8,1533.5 903.2,1527.7 903.6,1529.3 904.1,1545.7 904.5,1542.6 905.0,1531.7 905.4,1525.7 905.9,1536.9 906.3,1532.1 906.7,1528.4 907.2,1526.5 907.6,1540.9 908.1,1536.4 908.5,1536.2 909.0,1531.5 909.4,1535.3 909.8,1534.2 910.3,1513.2 910.7,1535.9 911.2,1536.6 911.6,1528.0 912.1,1535.3 912.5,1525.3 912.9,1526.5 913.4,1512.4 913.8,1548.6 914.3,1536.0 914.7,1533.4 915.2,1524.9 915.6,1525.1 916.0,1531.3 916.5,1535.6 916.9,1533.6 917.4,1527.0 917.8,1541.2 918.3,1540.7 918.7,1531.5 919.1,1551.5 919.6,1539.2 920.0,1525.8 920.5,1529.2 920.9,1522.2 921.4,1534.0 921.8,1525.4 922.2,1544.0 922.7,1539.7 923.1,1540.2 923.6,1539.7 924.0,1524.3 924.5,1519.0 924.9,1530.7 925.3,1537.6 925.8,1533.1 926.2,1538.1 926.7,1529.3 927.1,1531.8 927.6,1517.6 928.0,1532.5 928.4,1527.8 928.9,1545.5 929.3,1535.7 929.8,1541.3 930.2,1521.0 930.6,1522.8 931.1,1523.7 931.5,1530.0 932.0,1530.8 932.4,1525.7 932.9,1534.0 933.3,1522.6 933.7,1531.1 934.2,1535.1 934.6,1530.9 935.1,1526.2 935.5,1537.7 936.0,1529.9 936.4,1531.3 936.8,1533.3 937.3,1531.4 937.7,1534.9 938.2,1520.7 938.6,1533.6 939.1,1522.9 939.5,1529.0 939.9,1548.7 940.4,1538.1 940.8,1536.4 941.3,1538.9 941.7,1529.9 942.2,1531.3 942.6,1530.3 943.0,1540.8 943.5,1519.6 943.9,1538.6 944.4,1526.5 944.8,1534.0 945.3,1531.5 945.7,1526.8 946.1,1526.8 946.6,1521.8 947.0,1539.8 947.5,1535.9 947.9,1533.0 948.4,1532.5 948.8,1543.4 949.2,1528.4 949.7,1526.6 950.1,1533.0 950.6,1533.4 951.0,1534.9 951.5,1536.8 951.9,1522.3 952.3,1534.9 952.8,1542.4 953.2,1548.1 953.7,1540.3 954.1,1526.0 954.6,1535.5 955.0,1532.1 955.4,1550.3 955.9,1523.9 956.3,1535.0 956.8,1548.0 957.2,1523.2 957.7,1533.4 958.1,1523.5 958.5,1536.2 959.0,1537.8 959.4,1532.3 959.9,1529.2 960.3,1542.5 960.8,1523.8 961.2,1538.7 961.6,1529.6 962.1,1538.9 962.5,1538.0 963.0,1526.2 963.4,1536.0 963.9,1525.9 964.3,1548.8 964.7,1532.4 965.2,1538.6 965.6,1540.2 966.1,1547.6 966.5,1526.1 967.0,1539.6 967.4,1530.7 967.8,1534.9 968.3,1538.7 968.7,1541.8 969.2,1532.7 969.6,1532.3 970.1,1526.9 970.5,1550.4 970.9,1530.9 971.4,1561.9 971.8,1534.7 972.3,1542.3 972.7,1531.9 973.2,1535.8 973.6,1538.7 974.0,1538.1 974.5,1535.3 974.9,1534.4 975.4,1537.7 975.8,1535.9 976.3,1544.4 976.7,1542.3 977.1,1528.6 977.6,1537.5 978.0,1537.4 978.5,1540.2 978.9,1530.0 979.4,1540.6 979.8,1536.2 980.2,1537.2 980.7,1537.2 981.1,1537.4 981.6,1544.9 982.0,1537.6 982.5,1539.8 982.9,1540.8 983.3,1545.4 983.8,1526.6 984.2,1528.8 984.7,1539.3 985.1,1543.8 985.6,1529.8 986.0,1543.4 986.4,1534.0 986.9,1540.9 987.3,1535.3 987.8,1537.5 988.2,1543.6 988.7,1551.4 989.1,1536.6 989.5,1527.7 990.0,1541.4 990.4,1542.9 990.9,1538.5 991.3,1543.3 991.8,1535.1 992.2,1537.2 992.6,1544.5 993.1,1538.2 993.5,1549.5 994.0,1546.5 994.4,1532.3 994.9,1533.5 995.3,1542.8 995.7,1543.5 996.2,1531.7 996.6,1533.8 997.1,1542.3 997.5,1538.8 998.0,1539.6 998.4,1549.4 998.8,1548.1 999.3,1543.6 999.7,1541.2 1000.2,1538.6 1000.6,1543.6 1001.1,1524.1 1001.5,1537.1 1001.9,1541.3 1002.4,1534.9 1002.8,1545.7 1003.3,1525.2 1003.7,1547.5 1004.2,1537.2 1004.6,1536.0 1005.0,1547.3 1005.5,1536.1 1005.9,1547.1 1006.4,1543.1 1006.8,1547.8 1007.3,1550.1 1007.7,1545.6 1008.1,1541.0 1008.6,1548.6 1009.0,1546.2 1009.5,1541.4 1009.9,1555.9 1010.4,1542.9 1010.8,1541.6 1011.2,1552.7 1011.7,1557.8 1012.1,1549.9 1012.6,1546.9 1013.0,1540.4 1013.5,1551.4 1013.9,1527.6 1014.3,1545.8 1014.8,1547.8 1015.2,1551.6 1015.7,1535.4 1016.1,1548.2 1016.6,1531.3 1017.0,1560.0 1017.4,1539.8 1017.9,1540.2 1018.3,1528.9 1018.8,1546.4 1019.2,1540.2 1019.7,1546.8 1020.1,1537.4 1020.5,1547.3 1021.0,1536.8 1021.4,1544.4 1021.9,1537.8 1022.3,1563.9 1022.8,1548.4 1023.2,1535.9 1023.6,1544.4 1024.1,1535.7 1024.5,1537.5 1025.0,1546.4 1025.4,1552.0 1025.9,1547.1 1026.3,1543.3 1026.7,1548.6 1027.2,1545.7 1027.6,1548.3 1028.1,1552.2 1028.5,1550.5 1029.0,1537.1 1029.4,1536.3 1029.8,1549.0 1030.3,1540.3 1030.7,1541.2 1031.2,1537.0 1031.6,1529.7 1032.1,1547.2 1032.5,1542.5 1032.9,1551.9 1033.4,1540.8 1033.8,1545.8 1034.3,1552.6 1034.7,1542.3 1035.2,1544.4 1035.6,1542.4 1036.0,1551.1 1036.5,1541.2 1036.9,1552.9 1037.4,1534.4 1037.8,1540.3 1038.3,1553.3 1038.7,1553.5 1039.1,1548.9 1039.6,1531.2 1040.0,1546.8 1040.5,1538.7 1040.9,1542.5 1041.4,1553.2 1041.8,1550.5 1042.2,1549.5 1042.7,1538.7 1043.1,1540.1 1043.6,1543.4 1044.0,1547.5 1044.5,1551.5 1044.9,1567.4 1045.3,1551.2 1045.8,1544.0 1046.2,1557.0 1046.7,1547.4 1047.1,1545.2 1047.6,1541.5 1048.0,1546.8 1048.4,1548.9 1048.9,1549.7 1049.3,1548.8 1049.8,1550.7 1050.2,1531.9 1050.7,1550.2 1051.1,1540.9 1051.5,1548.9 1052.0,1540.7 1052.4,1550.3 1052.9,1537.5 1053.3,1550.2 1053.7,1543.1 1054.2,1550.0 1054.6,1549.8 1055.1,1540.5 1055.5,1535.2 1056.0,1541.5 1056.4,1554.8 1056.8,1541.6 1057.3,1545.8 1057.7,1549.5 1058.2,1540.3 1058.6,1544.5 1059.1,1553.5 1059.5,1535.5 1059.9,1550.3 1060.4,1551.9 1060.8,1533.2 1061.3,1553.2 1061.7,1537.1 1062.2,1549.9 1062.6,1550.2 1063.0,1547.2 1063.5,1553.7 1063.9,1554.9 1064.4,1546.0 1064.8,1545.9 1065.3,1533.9 1065.7,1546.9 1066.1,1553.8 1066.6,1545.5 1067.0,1546.2 1067.5,1561.1 1067.9,1544.5 1068.4,1538.9 1068.8,1549.4 1069.2,1552.6 1069.7,1543.0 1070.1,1530.5 1070.6,1541.3 1071.0,1551.9 1071.5,1543.9 1071.9,1560.8 1072.3,1538.7 1072.8,1546.5 1073.2,1542.8 1073.7,1554.2 1074.1,1552.7 1074.6,1543.9 1075.0,1552.1 1075.4,1552.4 1075.9,1556.3 1076.3,1552.2 1076.8,1551.4 1077.2,1538.3 1077.7,1551.6 1078.1,1537.6 1078.5,1557.2 1079.0,1546.4 1079.4,1542.8 1079.9,1546.1 1080.3,1549.6 1080.8,1551.6 1081.2,1548.1 1081.6,1557.2 1082.1,1538.7 1082.5,1546.5 1083.0,1531.1 1083.4,1549.7 1083.9,1549.3 1084.3,1549.3 1084.7,1555.2 1085.2,1549.6 1085.6,1557.0 1086.1,1529.3 1086.5,1544.9 1087.0,1552.4 1087.4,1540.9 1087.8,1540.1 1088.3,1560.5 1088.7,1557.1 1089.2,1560.8 1089.6,1548.0 1090.1,1552.4 1090.5,1551.1 1090.9,1546.4 1091.4,1557.1 1091.8,1551.1 1092.3,1550.9 1092.7,1549.7 1093.2,1544.9 1093.6,1539.1 1094.0,1558.1 1094.5,1542.6 1094.9,1552.7 1095.4,1553.6 1095.8,1562.0 1096.3,1549.6 1096.7,1558.1 1097.1,1559.9 1097.6,1568.8 1098.0,1562.2 1098.5,1561.1 1098.9,1549.2 1099.4,1555.5 1099.8,1537.5 1100.2,1532.0 1100.7,1542.4 1101.1,1551.5 1101.6,1546.3 1102.0,1552.4 1102.5,1560.8 1102.9,1543.4 1103.3,1540.9 1103.8,1554.5 1104.2,1548.0 1104.7,1544.5 1105.1,1558.9 1105.6,1544.4 1106.0,1545.2 1106.4,1548.8 1106.9,1552.8 1107.3,1554.1 1107.8,1548.4 1108.2,1540.0 1108.7,1546.7 1109.1,1562.8 1109.5,1561.5 1110.0,1557.4 1110.4,1555.4 1110.9,1549.2 1111.3,1542.7 1111.8,1549.6 1112.2,1558.2 1112.6,1549.1 1113.1,1561.8 1113.5,1544.0 1114.0,1551.2 1114.4,1550.5 1114.9,1559.3 1115.3,1557.3" fill="none" stroke="#015275" stroke-width="4.6" stroke-linejoin="round" stroke-linecap="round"/>
<path d="M121.2,1674.3 121.6,1676.4 122.1,1685.8 122.5,1688.5 123.0,1688.6 123.4,1685.8 123.9,1682.3 124.3,1682.0 124.7,1675.7 125.2,1675.0 125.6,1676.7 126.1,1679.5 126.5,1679.5 127.0,1674.9 127.4,1677.0 127.8,1680.0 128.3,1676.2 128.7,1670.7 129.2,1670.9 129.6,1674.8 130.1,1669.2 130.5,1659.4 130.9,1674.8 131.4,1678.2 131.8,1665.7 132.3,1657.0 132.7,1654.2 133.2,1661.9 133.6,1660.8 134.0,1659.1 134.5,1660.4 134.9,1663.1 135.4,1667.4 135.8,1660.4 136.3,1650.7 136.7,1657.8 137.1,1663.5 137.6,1657.3 138.0,1650.3 138.5,1650.2 138.9,1655.7 139.4,1661.3 139.8,1665.2 140.2,1665.4 140.7,1656.7 141.1,1660.8 141.6,1667.7 142.0,1659.6 142.5,1655.8 142.9,1660.0 143.3,1658.8 143.8,1653.5 144.2,1655.6 144.7,1662.9 145.1,1656.4 145.6,1654.6 146.0,1651.9 146.4,1644.0 146.9,1653.6 147.3,1661.8 147.8,1656.0 148.2,1656.3 148.7,1667.2 149.1,1661.7 149.5,1656.0 150.0,1657.7 150.4,1651.5 150.9,1663.2 151.3,1674.1 151.8,1659.0 152.2,1659.9 152.6,1668.1 153.1,1665.7 153.5,1665.1 154.0,1670.5 154.4,1668.6 154.9,1661.2 155.3,1671.3 155.7,1677.7 156.2,1669.2 156.6,1675.0 157.1,1667.9 157.5,1656.9 158.0,1669.4 158.4,1675.4 158.8,1674.3 159.3,1671.5 159.7,1667.9 160.2,1668.2 160.6,1669.8 161.1,1675.3 161.5,1681.4 161.9,1681.4 162.4,1683.3 162.8,1674.1 163.3,1667.9 163.7,1670.9 164.2,1679.3 164.6,1683.0 165.0,1678.4 165.5,1680.7 165.9,1675.2 166.4,1670.8 166.8,1676.4 167.3,1683.7 167.7,1679.9 168.1,1684.5 168.6,1687.1 169.0,1683.5 169.5,1685.0 169.9,1685.8 170.4,1678.2 170.8,1680.6 171.2,1690.8 171.7,1688.2 172.1,1690.3 172.6,1689.9 173.0,1678.8 173.5,1674.0 173.9,1675.5 174.3,1675.8 174.8,1683.3 175.2,1692.0 175.7,1683.7 176.1,1672.8 176.6,1679.2 177.0,1686.5 177.4,1687.8 177.9,1683.5 178.3,1684.4 178.8,1688.5 179.2,1684.0 179.7,1688.1 180.1,1685.4 180.5,1680.6 181.0,1687.1 181.4,1689.0 181.9,1693.6 182.3,1690.2 182.8,1686.0 183.2,1690.9 183.6,1698.6 184.1,1693.9 184.5,1690.3 185.0,1694.2 185.4,1688.1 185.8,1689.8 186.3,1689.9 186.7,1688.1 187.2,1693.3 187.6,1702.8 188.1,1698.7 188.5,1693.0 188.9,1698.3 189.4,1695.3 189.8,1693.1 190.3,1699.9 190.7,1699.3 191.2,1697.0 191.6,1699.1 192.0,1698.9 192.5,1703.6 192.9,1694.7 193.4,1687.7 193.8,1694.1 194.3,1698.8 194.7,1693.7 195.1,1695.5 195.6,1705.6 196.0,1703.9 196.5,1700.9 196.9,1696.4 197.4,1700.7 197.8,1713.8 198.2,1721.1 198.7,1714.5 199.1,1711.1 199.6,1708.5 200.0,1702.7 200.5,1705.7 200.9,1698.0 201.3,1695.2 201.8,1701.8 202.2,1704.7 202.7,1703.1 203.1,1703.3 203.6,1709.0 204.0,1714.0 204.4,1701.3 204.9,1694.8 205.3,1704.6 205.8,1697.1 206.2,1699.1 206.7,1714.7 207.1,1707.5 207.5,1692.8 208.0,1696.4 208.4,1711.9 208.9,1725.9 209.3,1722.4 209.8,1711.3 210.2,1706.3 210.6,1709.5 211.1,1710.3 211.5,1708.1 212.0,1716.1 212.4,1716.4 212.9,1707.9 213.3,1709.2 213.7,1718.5 214.2,1722.4 214.6,1711.0 215.1,1708.1 215.5,1717.2 216.0,1714.4 216.4,1708.1 216.8,1706.4 217.3,1707.9 217.7,1720.0 218.2,1724.9 218.6,1715.4 219.1,1716.2 219.5,1723.5 219.9,1721.9 220.4,1719.9 220.8,1723.3 221.3,1718.1 221.7,1722.1 222.2,1725.5 222.6,1724.0 223.0,1728.9 223.5,1722.6 223.9,1713.7 224.4,1713.2 224.8,1725.9 225.3,1728.9 225.7,1718.5 226.1,1725.1 226.6,1724.0 227.0,1725.6 227.5,1726.0 227.9,1719.8 228.4,1723.2 228.8,1723.5 229.2,1727.3 229.7,1729.3 230.1,1720.6 230.6,1713.4 231.0,1718.3 231.5,1726.0 231.9,1725.1 232.3,1719.7 232.8,1713.6 233.2,1718.5 233.7,1727.4 234.1,1721.2 234.6,1719.2 235.0,1729.7 235.4,1728.8 235.9,1720.0 236.3,1725.5 236.8,1721.1 237.2,1716.9 237.7,1723.8 238.1,1722.3 238.5,1721.7 239.0,1723.7 239.4,1726.1 239.9,1726.7 240.3,1729.1 240.8,1733.5 241.2,1730.7 241.6,1726.4 242.1,1717.3 242.5,1722.7 243.0,1733.0 243.4,1729.9 243.9,1733.3 244.3,1730.0 244.7,1722.8 245.2,1728.1 245.6,1716.7 246.1,1717.4 246.5,1732.7 247.0,1723.7 247.4,1719.3 247.8,1729.2 248.3,1729.6 248.7,1728.6 249.2,1733.2 249.6,1730.1 250.1,1728.4 250.5,1727.8 250.9,1726.5 251.4,1728.2 251.8,1733.7 252.3,1724.2 252.7,1726.6 253.2,1744.4 253.6,1732.1 254.0,1727.9 254.5,1735.1 254.9,1733.3 255.4,1732.7 255.8,1725.2 256.3,1728.2 256.7,1733.4 257.1,1732.7 257.6,1728.1 258.0,1725.5 258.5,1733.7 258.9,1728.1 259.4,1725.5 259.8,1725.2 260.2,1727.5 260.7,1743.7 261.1,1734.3 261.6,1724.5 262.0,1732.7 262.5,1729.2 262.9,1730.8 263.3,1736.1 263.8,1731.1 264.2,1734.3 264.7,1736.2 265.1,1742.6 265.6,1746.6 266.0,1737.2 266.4,1733.7 266.9,1727.8 267.3,1723.5 267.8,1724.0 268.2,1728.4 268.7,1733.5 269.1,1726.4 269.5,1725.6 270.0,1729.9 270.4,1725.9 270.9,1728.4 271.3,1729.9 271.8,1724.6 272.2,1723.4 272.6,1727.2 273.1,1723.7 273.5,1720.0 274.0,1726.8 274.4,1732.6 274.9,1732.1 275.3,1727.9 275.7,1721.0 276.2,1726.0 276.6,1728.9 277.1,1720.4 277.5,1727.4 278.0,1728.6 278.4,1720.6 278.8,1724.7 279.3,1731.6 279.7,1732.2 280.2,1722.3 280.6,1721.8 281.1,1727.2 281.5,1724.1 281.9,1728.0 282.4,1732.7 282.8,1724.4 283.3,1725.8 283.7,1731.0 284.2,1726.5 284.6,1724.1 285.0,1725.4 285.5,1732.0 285.9,1729.3 286.4,1720.3 286.8,1732.0 287.3,1742.5 287.7,1735.8 288.1,1737.4 288.6,1731.9 289.0,1724.2 289.5,1723.3 289.9,1725.5 290.4,1742.3 290.8,1749.2 291.2,1734.2 291.7,1733.5 292.1,1740.3 292.6,1740.4 293.0,1733.7 293.5,1728.0 293.9,1726.6 294.3,1726.6 294.8,1734.3 295.2,1733.2 295.7,1729.5 296.1,1734.0 296.6,1732.5 297.0,1724.2 297.4,1728.6 297.9,1725.4 298.3,1728.0 298.8,1731.5 299.2,1723.9 299.7,1722.5 300.1,1730.1 300.5,1741.3 301.0,1737.0 301.4,1733.5 301.9,1738.3 302.3,1737.1 302.8,1725.8 303.2,1721.2 303.6,1724.2 304.1,1717.1 304.5,1717.8 305.0,1726.6 305.4,1729.8 305.9,1731.3 306.3,1735.0 306.7,1732.8 307.2,1728.0 307.6,1734.0 308.1,1732.8 308.5,1730.1 308.9,1723.7 309.4,1723.4 309.8,1729.2 310.3,1733.0 310.7,1733.8 311.2,1730.8 311.6,1738.0 312.0,1732.0 312.5,1726.0 312.9,1726.4 313.4,1723.9 313.8,1728.1 314.3,1726.6 314.7,1730.5 315.1,1731.0 315.6,1726.6 316.0,1729.7 316.5,1730.2 316.9,1731.2 317.4,1728.7 317.8,1731.9 318.2,1736.4 318.7,1733.5 319.1,1732.9 319.6,1729.9 320.0,1728.3 320.5,1730.5 320.9,1734.4 321.3,1734.7 321.8,1728.3 322.2,1726.9 322.7,1723.9 323.1,1722.8 323.6,1725.6 324.0,1723.8 324.4,1724.0 324.9,1720.0 325.3,1718.1 325.8,1720.6 326.2,1722.9 326.7,1725.1 327.1,1723.2 327.5,1719.0 328.0,1724.2 328.4,1721.8 328.9,1726.0 329.3,1735.9 329.8,1728.2 330.2,1721.5 330.6,1719.4 331.1,1718.2 331.5,1723.3 332.0,1728.4 332.4,1722.0 332.9,1718.9 333.3,1720.4 333.7,1718.7 334.2,1720.0 334.6,1720.5 335.1,1722.6 335.5,1724.8 336.0,1717.4 336.4,1717.2 336.8,1726.5 337.3,1726.2 337.7,1719.0 338.2,1713.6 338.6,1712.6 339.1,1718.8 339.5,1721.6 339.9,1713.0 340.4,1713.7 340.8,1714.5 341.3,1712.6 341.7,1717.4 342.2,1717.4 342.6,1717.2 343.0,1713.5 343.5,1710.9 343.9,1714.8 344.4,1716.8 344.8,1719.5 345.3,1719.1 345.7,1718.0 346.1,1718.6 346.6,1713.3 347.0,1718.5 347.5,1715.5 347.9,1706.4 348.4,1713.2 348.8,1719.6 349.2,1717.1 349.7,1711.5 350.1,1709.6 350.6,1714.6 351.0,1707.8 351.5,1695.7 351.9,1699.5 352.3,1701.8 352.8,1702.0 353.2,1704.9 353.7,1704.1 354.1,1704.8 354.6,1706.3 355.0,1703.9 355.4,1703.3 355.9,1704.1 356.3,1702.2 356.8,1707.6 357.2,1711.7 357.7,1702.7 358.1,1706.7 358.5,1712.5 359.0,1703.7 359.4,1701.0 359.9,1697.8 360.3,1694.8 360.8,1696.5 361.2,1701.4 361.6,1712.5 362.1,1712.6 362.5,1705.0 363.0,1702.1 363.4,1703.7 363.9,1705.5 364.3,1697.9 364.7,1691.2 365.2,1692.6 365.6,1698.6 366.1,1699.2 366.5,1686.1 367.0,1687.7 367.4,1702.9 367.8,1702.2 368.3,1693.3 368.7,1693.2 369.2,1698.2 369.6,1697.0 370.1,1692.5 370.5,1685.1 370.9,1690.5 371.4,1692.9 371.8,1691.5 372.3,1690.8 372.7,1682.0 373.2,1694.5 373.6,1692.6 374.0,1684.6 374.5,1688.8 374.9,1692.5 375.4,1693.8 375.8,1688.4 376.3,1696.5 376.7,1694.6 377.1,1686.2 377.6,1689.5 378.0,1685.5 378.5,1685.0 378.9,1686.4 379.4,1688.9 379.8,1691.8 380.2,1680.8 380.7,1677.4 381.1,1679.5 381.6,1686.7 382.0,1687.3 382.5,1686.4 382.9,1687.0 383.3,1683.1 383.8,1685.9 384.2,1692.7 384.7,1688.6 385.1,1680.2 385.6,1679.2 386.0,1693.5 386.4,1697.0 386.9,1685.0 387.3,1682.7 387.8,1682.6 388.2,1686.5 388.7,1681.8 389.1,1681.8 389.5,1682.1 390.0,1675.4 390.4,1682.2 390.9,1689.5 391.3,1684.0 391.8,1674.3 392.2,1681.5 392.6,1686.4 393.1,1676.3 393.5,1677.1 394.0,1681.3 394.4,1679.2 394.9,1671.8 395.3,1675.3 395.7,1682.9 396.2,1679.3 396.6,1677.5 397.1,1684.2 397.5,1685.0 398.0,1678.7 398.4,1679.6 398.8,1678.0 399.3,1675.8 399.7,1679.7 400.2,1679.7 400.6,1681.3 401.1,1677.4 401.5,1675.8 401.9,1671.2 402.4,1669.6 402.8,1666.2 403.3,1663.8 403.7,1676.1 404.2,1669.4 404.6,1665.3 405.0,1676.4 405.5,1677.0 405.9,1671.8 406.4,1675.6 406.8,1677.9 407.3,1675.2 407.7,1673.7 408.1,1676.2 408.6,1680.7 409.0,1677.5 409.5,1678.3 409.9,1679.4 410.4,1680.5 410.8,1672.3 411.2,1663.2 411.7,1669.8 412.1,1679.9 412.6,1686.9 413.0,1682.7 413.5,1677.0 413.9,1682.9 414.3,1684.0 414.8,1673.9 415.2,1673.0 415.7,1681.4 416.1,1684.8 416.6,1689.1 417.0,1687.5 417.4,1687.3 417.9,1684.6 418.3,1679.2 418.8,1681.9 419.2,1685.0 419.7,1678.3 420.1,1677.2 420.5,1684.0 421.0,1683.4 421.4,1692.8 421.9,1684.8 422.3,1681.3 422.8,1686.7 423.2,1677.9 423.6,1679.4 424.1,1679.0 424.5,1674.9 425.0,1683.9 425.4,1689.3 425.9,1685.2 426.3,1687.2 426.7,1679.5 427.2,1674.2 427.6,1676.5 428.1,1678.7 428.5,1684.5 429.0,1677.5 429.4,1680.0 429.8,1693.2 430.3,1685.9 430.7,1679.9 431.2,1683.7 431.6,1677.0 432.0,1676.1 432.5,1678.9 432.9,1674.2 433.4,1677.8 433.8,1686.4 434.3,1676.5 434.7,1665.0 435.1,1671.4 435.6,1671.5 436.0,1678.0 436.5,1682.1 436.9,1681.3 437.4,1680.9 437.8,1674.7 438.2,1677.8 438.7,1684.8 439.1,1687.4 439.6,1675.5 440.0,1671.7 440.5,1677.4 440.9,1679.4 441.3,1689.9 441.8,1692.8 442.2,1680.5 442.7,1675.3 443.1,1678.1 443.6,1676.1 444.0,1675.1 444.4,1676.4 444.9,1680.8 445.3,1681.1 445.8,1688.4 446.2,1691.4 446.7,1675.5 447.1,1676.1 447.5,1681.4 448.0,1677.6 448.4,1682.7 448.9,1685.8 449.3,1684.0 449.8,1686.4 450.2,1685.8 450.6,1682.3 451.1,1678.4 451.5,1671.8 452.0,1678.5 452.4,1692.2 452.9,1688.6 453.3,1686.3 453.7,1684.5 454.2,1684.9 454.6,1686.0 455.1,1680.1 455.5,1679.2 456.0,1683.0 456.4,1685.4 456.8,1695.7 457.3,1687.8 457.7,1680.9 458.2,1691.1 458.6,1681.7 459.1,1679.9 459.5,1696.3 459.9,1693.0 460.4,1680.4 460.8,1679.8 461.3,1684.8 461.7,1688.9 462.2,1690.8 462.6,1696.3 463.0,1689.1 463.5,1683.4 463.9,1684.6 464.4,1687.9 464.8,1684.5 465.3,1682.6 465.7,1692.7 466.1,1694.9 466.6,1686.9 467.0,1680.0 467.5,1682.5 467.9,1682.6 468.4,1681.2 468.8,1680.4 469.2,1673.5 469.7,1679.2 470.1,1693.5 470.6,1690.1 471.0,1680.4 471.5,1685.2 471.9,1689.5 472.3,1683.2 472.8,1680.2 473.2,1674.2 473.7,1679.3 474.1,1691.2 474.6,1688.0 475.0,1684.7 475.4,1680.2 475.9,1679.1 476.3,1684.7 476.8,1682.5 477.2,1681.0 477.7,1683.9 478.1,1678.5 478.5,1674.9 479.0,1687.2 479.4,1693.1 479.9,1682.0 480.3,1685.5 480.8,1689.7 481.2,1683.8 481.6,1687.7 482.1,1696.2 482.5,1700.4 483.0,1687.4 483.4,1684.6 483.9,1697.5 484.3,1696.7 484.7,1684.4 485.2,1681.3 485.6,1686.0 486.1,1684.4 486.5,1679.8 487.0,1681.6 487.4,1684.5 487.8,1686.0 488.3,1691.3 488.7,1687.8 489.2,1684.1 489.6,1682.9 490.1,1687.4 490.5,1695.8 490.9,1691.3 491.4,1686.6 491.8,1676.7 492.3,1671.2 492.7,1681.1 493.2,1684.2 493.6,1684.7 494.0,1683.3 494.5,1688.4 494.9,1690.3 495.4,1680.0 495.8,1684.5 496.3,1689.6 496.7,1686.6 497.1,1685.3 497.6,1686.2 498.0,1691.8 498.5,1687.5 498.9,1690.3 499.4,1695.5 499.8,1687.9 500.2,1678.1 500.7,1675.4 501.1,1680.0 501.6,1681.8 502.0,1682.3 502.5,1682.2 502.9,1680.9 503.3,1686.4 503.8,1685.3 504.2,1678.4 504.7,1678.6 505.1,1676.7 505.6,1683.6 506.0,1686.7 506.4,1690.4 506.9,1690.7 507.3,1684.3 507.8,1687.4 508.2,1677.9 508.7,1677.6 509.1,1682.7 509.5,1676.8 510.0,1680.5 510.4,1679.6 510.9,1678.5 511.3,1682.2 511.8,1684.0 512.2,1686.7 512.6,1690.6 513.1,1691.4 513.5,1680.4 514.0,1671.2 514.4,1674.6 514.9,1681.5 515.3,1683.3 515.7,1677.8 516.2,1680.7 516.6,1684.4 517.1,1677.6 517.5,1680.5 518.0,1682.1 518.4,1683.5 518.8,1680.3 519.3,1674.8 519.7,1683.0 520.2,1689.1 520.6,1685.7 521.1,1686.0 521.5,1687.4 521.9,1686.4 522.4,1686.3 522.8,1677.2 523.3,1675.6 523.7,1676.0 524.2,1671.0 524.6,1666.3 525.0,1674.2 525.5,1683.1 525.9,1680.3 526.4,1686.6 526.8,1687.6 527.3,1684.2 527.7,1680.7 528.1,1680.5 528.6,1683.8 529.0,1685.8 529.5,1683.9 529.9,1671.3 530.4,1675.5 530.8,1682.6 531.2,1681.3 531.7,1681.3 532.1,1682.8 532.6,1684.0 533.0,1683.3 533.5,1683.9 533.9,1687.1 534.3,1696.8 534.8,1694.3 535.2,1688.8 535.7,1675.8 536.1,1674.6 536.6,1680.2 537.0,1674.6 537.4,1677.6 537.9,1679.5 538.3,1673.5 538.8,1667.1 539.2,1674.8 539.7,1680.3 540.1,1683.4 540.5,1686.3 541.0,1683.1 541.4,1678.7 541.9,1682.3 542.3,1686.0 542.8,1683.0 543.2,1670.9 543.6,1663.5 544.1,1675.9 544.5,1676.6 545.0,1673.4 545.4,1677.8 545.9,1678.0 546.3,1679.4 546.7,1676.0 547.2,1668.9 547.6,1666.9 548.1,1672.1 548.5,1678.7 549.0,1677.5 549.4,1667.6 549.8,1663.6 550.3,1671.5 550.7,1667.6 551.2,1667.0 551.6,1677.8 552.1,1678.7 552.5,1673.9 552.9,1679.4 553.4,1684.7 553.8,1678.5 554.3,1668.0 554.7,1671.7 555.2,1688.0 555.6,1689.5 556.0,1679.2 556.5,1675.2 556.9,1671.2 557.4,1667.2 557.8,1677.0 558.2,1677.9 558.7,1674.5 559.1,1679.5 559.6,1677.7 560.0,1669.2 560.5,1668.9 560.9,1674.4 561.3,1678.6 561.8,1676.8 562.2,1673.8 562.7,1678.9 563.1,1687.6 563.6,1682.5 564.0,1666.0 564.4,1670.1 564.9,1674.6 565.3,1669.9 565.8,1679.5 566.2,1685.4 566.7,1685.1 567.1,1689.8 567.5,1686.5 568.0,1678.1 568.4,1672.1 568.9,1679.8 569.3,1684.4 569.8,1679.0 570.2,1680.6 570.6,1681.8 571.1,1679.7 571.5,1673.8 572.0,1668.6 572.4,1667.0 572.9,1672.5 573.3,1680.4 573.7,1682.3 574.2,1680.4 574.6,1680.5 575.1,1678.9 575.5,1670.0 576.0,1675.2 576.4,1688.8 576.8,1696.9 577.3,1688.5 577.7,1668.7 578.2,1673.2 578.6,1678.5 579.1,1681.3 579.5,1676.6 579.9,1664.7 580.4,1663.7 580.8,1668.0 581.3,1676.6 581.7,1678.4 582.2,1684.5 582.6,1679.6 583.0,1674.3 583.5,1684.1 583.9,1678.5 584.4,1672.3 584.8,1668.8 585.3,1675.6 585.7,1676.4 586.1,1672.2 586.6,1677.0 587.0,1669.7 587.5,1670.5 587.9,1671.2 588.4,1672.0 588.8,1673.4 589.2,1669.4 589.7,1674.9 590.1,1676.2 590.6,1671.4 591.0,1676.4 591.5,1677.2 591.9,1681.1 592.3,1681.2 592.8,1675.8 593.2,1674.8 593.7,1671.7 594.1,1673.9 594.6,1672.2 595.0,1670.2 595.4,1679.5 595.9,1677.0 596.3,1668.5 596.8,1670.1 597.2,1673.6 597.7,1677.0 598.1,1677.4 598.5,1675.7 599.0,1672.7 599.4,1674.9 599.9,1676.5 600.3,1679.1 600.8,1672.6 601.2,1665.2 601.6,1667.7 602.1,1675.7 602.5,1682.7 603.0,1681.4 603.4,1683.4 603.9,1680.5 604.3,1674.0 604.7,1675.8 605.2,1677.0 605.6,1678.5 606.1,1678.2 606.5,1681.0 607.0,1677.0 607.4,1675.0 607.8,1682.4 608.3,1676.7 608.7,1676.1 609.2,1677.8 609.6,1673.9 610.1,1678.9 610.5,1678.0 610.9,1679.0 611.4,1679.2 611.8,1676.5 612.3,1690.6 612.7,1696.4 613.2,1687.8 613.6,1684.3 614.0,1676.8 614.5,1672.5 614.9,1680.9 615.4,1685.1 615.8,1685.3 616.3,1680.0 616.7,1675.6 617.1,1680.1 617.6,1684.8 618.0,1684.2 618.5,1672.4 618.9,1667.7 619.4,1674.3 619.8,1676.2 620.2,1675.2 620.7,1674.5 621.1,1671.1 621.6,1677.1 622.0,1681.5 622.5,1674.9 622.9,1672.8 623.3,1662.9 623.8,1667.3 624.2,1671.2 624.7,1675.2 625.1,1684.5 625.6,1678.6 626.0,1676.8 626.4,1673.9 626.9,1667.2 627.3,1674.4 627.8,1674.8 628.2,1666.9 628.7,1674.0 629.1,1673.5 629.5,1667.8 630.0,1672.7 630.4,1668.4 630.9,1671.5 631.3,1680.0 631.8,1674.7 632.2,1674.2 632.6,1672.3 633.1,1676.3 633.5,1672.7 634.0,1674.1 634.4,1680.9 634.9,1672.9 635.3,1670.9 635.7,1675.1 636.2,1682.3 636.6,1677.7 637.1,1675.3 637.5,1683.6 638.0,1678.2 638.4,1670.6 638.8,1674.2 639.3,1679.4 639.7,1683.0 640.2,1678.5 640.6,1667.6 641.1,1667.9 641.5,1677.7 641.9,1674.4 642.4,1674.6 642.8,1681.4 643.3,1684.7 643.7,1683.6 644.2,1681.6 644.6,1680.1 645.0,1667.7 645.5,1673.0 645.9,1687.4 646.4,1683.1 646.8,1677.1 647.3,1676.4 647.7,1681.3 648.1,1681.4 648.6,1676.1 649.0,1678.6 649.5,1682.3 649.9,1681.1 650.4,1676.4 650.8,1682.0 651.2,1687.6 651.7,1689.1 652.1,1686.0 652.6,1677.6 653.0,1679.9 653.5,1691.6 653.9,1693.5 654.3,1682.6 654.8,1678.7 655.2,1690.0 655.7,1690.7 656.1,1672.7 656.6,1676.2 657.0,1681.5 657.4,1682.1 657.9,1685.3 658.3,1686.4 658.8,1686.0 659.2,1678.7 659.7,1691.5 660.1,1694.7 660.5,1684.6 661.0,1681.1 661.4,1679.9 661.9,1691.2 662.3,1698.2 662.8,1691.4 663.2,1687.5 663.6,1684.8 664.1,1685.8 664.5,1684.8 665.0,1674.5 665.4,1684.6 665.9,1688.4 666.3,1683.7 666.7,1691.7 667.2,1688.7 667.6,1686.3 668.1,1689.4 668.5,1688.8 669.0,1688.8 669.4,1691.2 669.8,1691.7 670.3,1682.5 670.7,1684.1 671.2,1687.1 671.6,1683.1 672.1,1692.4 672.5,1698.8 672.9,1696.8 673.4,1694.0 673.8,1698.0 674.3,1697.6 674.7,1687.9 675.2,1683.4 675.6,1687.9 676.0,1695.6 676.5,1700.1 676.9,1695.2 677.4,1688.8 677.8,1693.1 678.3,1691.8 678.7,1691.8 679.1,1701.8 679.6,1699.2 680.0,1687.6 680.5,1687.7 680.9,1700.6 681.3,1704.8 681.8,1699.0 682.2,1694.3 682.7,1697.9 683.1,1696.4 683.6,1699.0 684.0,1704.6 684.4,1697.7 684.9,1706.0 685.3,1703.3 685.8,1697.7 686.2,1700.6 686.7,1698.6 687.1,1703.6 687.5,1705.3 688.0,1695.3 688.4,1698.8 688.9,1712.3 689.3,1702.3 689.8,1693.9 690.2,1703.7 690.6,1705.0 691.1,1699.0 691.5,1701.3 692.0,1704.0 692.4,1702.2 692.9,1702.9 693.3,1703.9 693.7,1702.6 694.2,1702.0 694.6,1714.4 695.1,1724.2 695.5,1706.7 696.0,1698.3 696.4,1708.1 696.8,1712.8 697.3,1707.5 697.7,1701.3 698.2,1706.1 698.6,1710.0 699.1,1705.7 699.5,1710.5 699.9,1716.5 700.4,1715.6 700.8,1711.5 701.3,1709.8 701.7,1712.1 702.2,1709.0 702.6,1711.2 703.0,1712.4 703.5,1706.9 703.9,1707.1 704.4,1710.8 704.8,1711.6 705.3,1715.8 705.7,1710.2 706.1,1708.6 706.6,1709.4 707.0,1704.3 707.5,1700.2 707.9,1699.4 708.4,1718.0 708.8,1713.3 709.2,1704.8 709.7,1712.8 710.1,1715.1 710.6,1723.2 711.0,1724.9 711.5,1721.0 711.9,1714.4 712.3,1710.0 712.8,1710.5 713.2,1712.7 713.7,1714.8 714.1,1711.8 714.6,1712.1 715.0,1717.4 715.4,1721.7 715.9,1724.2 716.3,1726.6 716.8,1725.7 717.2,1724.8 717.7,1727.9 718.1,1730.9 718.5,1729.3 719.0,1726.4 719.4,1717.7 719.9,1712.7 720.3,1718.2 720.8,1728.5 721.2,1725.5 721.6,1721.5 722.1,1736.0 722.5,1729.9 723.0,1722.3 723.4,1730.4 723.9,1728.5 724.3,1723.4 724.7,1722.5 725.2,1725.7 725.6,1721.8 726.1,1723.4 726.5,1726.6 727.0,1719.9 727.4,1724.7 727.8,1736.0 728.3,1730.4 728.7,1726.0 729.2,1728.7 729.6,1725.4 730.1,1726.5 730.5,1725.7 730.9,1716.1 731.4,1722.2 731.8,1736.0 732.3,1744.0 732.7,1742.0 733.2,1723.9 733.6,1718.2 734.0,1718.1 734.5,1723.7 734.9,1728.3 735.4,1731.7 735.8,1737.0 736.3,1731.3 736.7,1730.7 737.1,1728.1 737.6,1725.4 738.0,1727.9 738.5,1731.8 738.9,1736.2 739.4,1739.4 739.8,1739.7 740.2,1728.0 740.7,1726.6 741.1,1735.5 741.6,1736.2 742.0,1730.8 742.5,1732.5 742.9,1735.3 743.3,1735.4 743.8,1740.2 744.2,1737.6 744.7,1735.4 745.1,1734.7 745.6,1729.3 746.0,1739.6 746.4,1744.1 746.9,1742.5 747.3,1734.9 747.8,1722.6 748.2,1728.4 748.7,1745.7 749.1,1743.4 749.5,1732.5 750.0,1734.9 750.4,1732.3 750.9,1741.6 751.3,1744.8 751.8,1746.7 752.2,1747.5 752.6,1746.2 753.1,1744.9 753.5,1746.8 754.0,1741.6 754.4,1728.2 754.9,1734.1 755.3,1748.0 755.7,1752.2 756.2,1753.0 756.6,1747.8 757.1,1746.8 757.5,1747.2 758.0,1732.1 758.4,1734.8 758.8,1742.4 759.3,1747.5 759.7,1746.7 760.2,1743.4 760.6,1739.9 761.1,1734.1 761.5,1740.5 761.9,1747.8 762.4,1751.7 762.8,1753.2 763.3,1752.9 763.7,1755.8 764.2,1748.6 764.6,1741.0 765.0,1748.5 765.5,1753.9 765.9,1749.6 766.4,1746.9 766.8,1752.8 767.3,1754.3 767.7,1755.0 768.1,1753.0 768.6,1745.2 769.0,1745.2 769.5,1746.0 769.9,1748.1 770.4,1748.7 770.8,1751.8 771.2,1752.5 771.7,1743.9 772.1,1747.5 772.6,1752.6 773.0,1742.9 773.5,1739.2 773.9,1745.9 774.3,1751.9 774.8,1759.9 775.2,1759.7 775.7,1756.6 776.1,1764.1 776.6,1765.0 777.0,1755.2 777.4,1750.4 777.9,1749.1 778.3,1747.6 778.8,1747.6 779.2,1750.3 779.7,1747.1 780.1,1742.6 780.5,1746.6 781.0,1752.3 781.4,1751.1 781.9,1748.5 782.3,1750.7 782.8,1750.9 783.2,1761.5 783.6,1766.8 784.1,1756.9 784.5,1755.6 785.0,1757.1 785.4,1758.0 785.9,1759.2 786.3,1753.8 786.7,1756.2 787.2,1760.2 787.6,1759.5 788.1,1760.1 788.5,1759.8 789.0,1766.8 789.4,1760.7 789.8,1753.0 790.3,1755.7 790.7,1759.2 791.2,1760.1 791.6,1759.7 792.1,1763.1 792.5,1764.1 792.9,1762.4 793.4,1753.9 793.8,1745.7 794.3,1754.3 794.7,1764.1 795.2,1760.6 795.6,1765.2 796.0,1772.7 796.5,1771.3 796.9,1769.1 797.4,1767.8 797.8,1761.1 798.3,1756.9 798.7,1762.8 799.1,1767.9 799.6,1761.7 800.0,1761.9 800.5,1771.4 800.9,1772.2 801.4,1767.4 801.8,1762.0 802.2,1763.0 802.7,1765.4 803.1,1766.2 803.6,1768.4 804.0,1767.3 804.5,1771.7 804.9,1773.8 805.3,1772.5 805.8,1762.4 806.2,1761.3 806.7,1776.9 807.1,1773.3 807.5,1762.2 808.0,1762.4 808.4,1770.0 808.9,1775.1 809.3,1778.1 809.8,1775.7 810.2,1772.4 810.6,1770.6 811.1,1770.3 811.5,1768.6 812.0,1762.2 812.4,1768.9 812.9,1771.1 813.3,1770.9 813.7,1770.4 814.2,1770.2 814.6,1779.7 815.1,1773.1 815.5,1763.2 816.0,1770.2 816.4,1775.7 816.8,1766.3 817.3,1767.3 817.7,1774.5 818.2,1775.6 818.6,1774.7 819.1,1769.4 819.5,1769.3 819.9,1771.0 820.4,1779.6 820.8,1786.0 821.3,1763.6 821.7,1755.3 822.2,1769.4 822.6,1766.9 823.0,1772.6 823.5,1779.1 823.9,1776.4 824.4,1775.7 824.8,1778.0 825.3,1778.5 825.7,1777.0 826.1,1777.8 826.6,1779.2 827.0,1776.2 827.5,1765.1 827.9,1769.0 828.4,1778.3 828.8,1777.2 829.2,1780.4 829.7,1782.9 830.1,1781.2 830.6,1779.5 831.0,1771.9 831.5,1774.4 831.9,1776.5 832.3,1776.2 832.8,1779.0 833.2,1778.3 833.7,1777.1 834.1,1769.4 834.6,1769.4 835.0,1767.4 835.4,1772.9 835.9,1780.8 836.3,1775.5 836.8,1777.0 837.2,1783.6 837.7,1779.3 838.1,1772.6 838.5,1775.7 839.0,1777.7 839.4,1779.8 839.9,1780.3 840.3,1775.1 840.8,1777.4 841.2,1784.0 841.6,1781.4 842.1,1781.5 842.5,1778.3 843.0,1772.4 843.4,1768.4 843.9,1766.5 844.3,1775.6 844.7,1783.1 845.2,1784.4 845.6,1777.9 846.1,1775.4 846.5,1779.7 847.0,1783.0 847.4,1785.1 847.8,1776.5 848.3,1777.0 848.7,1786.8 849.2,1784.4 849.6,1781.6 850.1,1785.7 850.5,1782.6 850.9,1779.5 851.4,1779.8 851.8,1785.7 852.3,1789.3 852.7,1781.1 853.2,1781.6 853.6,1784.1 854.0,1779.4 854.5,1776.2 854.9,1784.8 855.4,1786.1 855.8,1783.0 856.3,1780.5 856.7,1774.9 857.1,1780.5 857.6,1784.3 858.0,1782.4 858.5,1779.6 858.9,1781.3 859.4,1779.3 859.8,1787.8 860.2,1788.9 860.7,1775.4 861.1,1777.3 861.6,1789.3 862.0,1787.3 862.5,1777.8 862.9,1778.5 863.3,1782.1 863.8,1786.7 864.2,1786.9 864.7,1783.3 865.1,1783.2 865.6,1787.4 866.0,1784.8 866.4,1782.1 866.9,1780.9 867.3,1780.0 867.8,1783.2 868.2,1791.7 868.7,1789.5 869.1,1787.4 869.5,1789.2 870.0,1783.8 870.4,1786.4 870.9,1784.8 871.3,1784.0 871.8,1785.8 872.2,1786.0 872.6,1788.5 873.1,1783.9 873.5,1780.5 874.0,1783.6 874.4,1787.3 874.9,1790.9 875.3,1791.3 875.7,1792.1 876.2,1792.8 876.6,1786.2 877.1,1780.5 877.5,1787.1 878.0,1793.1 878.4,1789.1 878.8,1785.0 879.3,1787.0 879.7,1790.1 880.2,1788.8 880.6,1787.5 881.1,1788.6 881.5,1789.9 881.9,1784.8 882.4,1779.4 882.8,1792.1 883.3,1803.8 883.7,1797.2 884.2,1794.3 884.6,1797.3 885.0,1794.3 885.5,1784.9 885.9,1782.2 886.4,1792.6 886.8,1799.1 887.3,1791.1 887.7,1787.2 888.1,1795.6 888.6,1797.0 889.0,1792.7 889.5,1783.3 889.9,1776.8 890.4,1785.5 890.8,1791.8 891.2,1794.3 891.7,1794.7 892.1,1794.3 892.6,1788.5 893.0,1784.5 893.5,1790.0 893.9,1789.2 894.3,1791.0 894.8,1789.9 895.2,1788.9 895.7,1792.2 896.1,1791.8 896.6,1792.7 897.0,1792.3 897.4,1787.2 897.9,1784.6 898.3,1791.4 898.8,1794.8 899.2,1787.1 899.7,1782.3 900.1,1789.8 900.5,1791.2 901.0,1792.8 901.4,1796.3 901.9,1794.1 902.3,1790.6 902.8,1788.4 903.2,1791.4 903.6,1787.8 904.1,1781.3 904.5,1789.5 905.0,1791.2 905.4,1784.8 905.9,1790.3 906.3,1799.9 906.7,1802.6 907.2,1796.8 907.6,1794.8 908.1,1798.4 908.5,1797.5 909.0,1798.6 909.4,1796.2 909.8,1790.3 910.3,1789.9 910.7,1788.9 911.2,1791.3 911.6,1792.0 912.1,1787.1 912.5,1790.7 912.9,1790.5 913.4,1788.3 913.8,1794.6 914.3,1790.8 914.7,1788.1 915.2,1795.4 915.6,1804.8 916.0,1795.3 916.5,1781.5 916.9,1784.7 917.4,1788.8 917.8,1794.9 918.3,1792.3 918.7,1785.0 919.1,1784.1 919.6,1785.2 920.0,1790.5 920.5,1791.1 920.9,1788.2 921.4,1793.7 921.8,1798.0 922.2,1799.1 922.7,1792.7 923.1,1787.9 923.6,1796.0 924.0,1799.0 924.5,1796.6 924.9,1800.4 925.3,1798.4 925.8,1794.4 926.2,1790.1 926.7,1789.4 927.1,1793.3 927.6,1790.0 928.0,1793.0 928.4,1788.3 928.9,1783.1 929.3,1790.6 929.8,1794.5 930.2,1793.0 930.6,1796.8 931.1,1799.7 931.5,1796.4 932.0,1794.6 932.4,1794.3 932.9,1798.4 933.3,1803.9 933.7,1796.2 934.2,1787.5 934.6,1800.9 935.1,1804.9 935.5,1798.6 936.0,1797.8 936.4,1786.7 936.8,1778.6 937.3,1784.6 937.7,1793.0 938.2,1793.1 938.6,1794.8 939.1,1797.5 939.5,1794.0 939.9,1797.3 940.4,1804.4 940.8,1800.3 941.3,1790.4 941.7,1783.0 942.2,1790.9 942.6,1795.7 943.0,1790.9 943.5,1802.4 943.9,1805.7 944.4,1793.5 944.8,1793.1 945.3,1794.6 945.7,1791.7 946.1,1796.1 946.6,1800.3 947.0,1799.5 947.5,1796.9 947.9,1793.6 948.4,1787.3 948.8,1788.8 949.2,1792.9 949.7,1787.9 950.1,1789.3 950.6,1799.0 951.0,1797.0 951.5,1794.4 951.9,1796.5 952.3,1791.1 952.8,1789.7 953.2,1792.8 953.7,1798.4 954.1,1803.5 954.6,1801.4 955.0,1794.1 955.4,1799.6 955.9,1806.6 956.3,1806.9 956.8,1806.8 957.2,1799.8 957.7,1786.3 958.1,1788.3 958.5,1801.2 959.0,1799.0 959.4,1799.4 959.9,1801.9 960.3,1793.7 960.8,1790.2 961.2,1793.0 961.6,1791.6 962.1,1797.2 962.5,1796.8 963.0,1795.2 963.4,1805.9 963.9,1800.1 964.3,1795.9 964.7,1806.3 965.2,1799.8 965.6,1788.1 966.1,1795.0 966.5,1799.8 967.0,1798.4 967.4,1800.4 967.8,1794.8 968.3,1791.1 968.7,1798.8 969.2,1796.1 969.6,1789.1 970.1,1791.8 970.5,1802.5 970.9,1801.2 971.4,1790.1 971.8,1796.1 972.3,1804.1 972.7,1802.9 973.2,1798.9 973.6,1797.8 974.0,1800.1 974.5,1802.9 974.9,1797.4 975.4,1794.0 975.8,1794.4 976.3,1793.6 976.7,1795.9 977.1,1794.6 977.6,1795.9 978.0,1797.9 978.5,1803.9 978.9,1803.5 979.4,1795.3 979.8,1794.5 980.2,1799.8 980.7,1800.2 981.1,1795.9 981.6,1799.4 982.0,1803.9 982.5,1801.7 982.9,1805.5 983.3,1810.9 983.8,1809.1 984.2,1811.4 984.7,1808.7 985.1,1805.2 985.6,1803.2 986.0,1800.0 986.4,1802.1 986.9,1802.2 987.3,1801.2 987.8,1799.8 988.2,1800.4 988.7,1798.3 989.1,1796.3 989.5,1798.2 990.0,1796.7 990.4,1793.7 990.9,1799.5 991.3,1799.8 991.8,1800.8 992.2,1805.9 992.6,1796.4 993.1,1795.9 993.5,1810.1 994.0,1805.5 994.4,1795.0 994.9,1794.8 995.3,1801.1 995.7,1811.0 996.2,1806.0 996.6,1803.3 997.1,1801.6 997.5,1802.0 998.0,1809.7 998.4,1803.5 998.8,1797.9 999.3,1803.3 999.7,1801.6 1000.2,1800.9 1000.6,1804.1 1001.1,1800.1 1001.5,1793.4 1001.9,1796.2 1002.4,1796.9 1002.8,1801.0 1003.3,1807.8 1003.7,1810.2 1004.2,1811.3 1004.6,1803.9 1005.0,1800.4 1005.5,1800.0 1005.9,1803.1 1006.4,1806.7 1006.8,1806.9 1007.3,1805.3 1007.7,1797.9 1008.1,1797.7 1008.6,1802.3 1009.0,1799.7 1009.5,1802.6 1009.9,1805.0 1010.4,1800.5 1010.8,1803.8 1011.2,1809.2 1011.7,1810.6 1012.1,1811.2 1012.6,1805.4 1013.0,1804.2 1013.5,1803.3 1013.9,1800.9 1014.3,1802.5 1014.8,1800.8 1015.2,1805.2 1015.7,1805.7 1016.1,1805.1 1016.6,1814.2 1017.0,1816.6 1017.4,1810.3 1017.9,1804.3 1018.3,1803.8 1018.8,1808.6 1019.2,1807.0 1019.7,1800.1 1020.1,1798.8 1020.5,1809.3 1021.0,1811.7 1021.4,1804.7 1021.9,1811.2 1022.3,1811.8 1022.8,1801.1 1023.2,1799.5 1023.6,1806.0 1024.1,1806.3 1024.5,1801.4 1025.0,1804.5 1025.4,1808.6 1025.9,1806.3 1026.3,1800.9 1026.7,1804.0 1027.2,1808.0 1027.6,1804.2 1028.1,1802.0 1028.5,1803.0 1029.0,1803.5 1029.4,1803.2 1029.8,1798.8 1030.3,1798.7 1030.7,1806.7 1031.2,1806.4 1031.6,1802.6 1032.1,1805.2 1032.5,1807.5 1032.9,1810.8 1033.4,1807.1 1033.8,1803.9 1034.3,1807.5 1034.7,1808.0 1035.2,1806.1 1035.6,1806.5 1036.0,1801.0 1036.5,1794.9 1036.9,1805.0 1037.4,1813.4 1037.8,1811.9 1038.3,1802.8 1038.7,1797.4 1039.1,1804.4 1039.6,1812.0 1040.0,1812.9 1040.5,1809.3 1040.9,1806.4 1041.4,1807.7 1041.8,1803.9 1042.2,1805.1 1042.7,1808.2 1043.1,1811.2 1043.6,1804.9 1044.0,1795.6 1044.5,1803.5 1044.9,1805.3 1045.3,1802.7 1045.8,1803.6 1046.2,1808.6 1046.7,1808.3 1047.1,1805.0 1047.6,1810.0 1048.0,1812.1 1048.4,1810.6 1048.9,1807.5 1049.3,1805.8 1049.8,1804.9 1050.2,1805.0 1050.7,1808.6 1051.1,1810.7 1051.5,1812.1 1052.0,1807.5 1052.4,1807.8 1052.9,1811.4 1053.3,1812.4 1053.7,1806.6 1054.2,1800.9 1054.6,1808.0 1055.1,1812.7 1055.5,1809.5 1056.0,1806.7 1056.4,1802.7 1056.8,1806.8 1057.3,1813.4 1057.7,1809.3 1058.2,1805.0 1058.6,1808.0 1059.1,1810.5 1059.5,1809.8 1059.9,1813.6 1060.4,1817.3 1060.8,1811.0 1061.3,1813.1 1061.7,1815.0 1062.2,1809.0 1062.6,1807.9 1063.0,1806.6 1063.5,1805.3 1063.9,1803.3 1064.4,1805.2 1064.8,1807.4 1065.3,1809.3 1065.7,1805.7 1066.1,1801.3 1066.6,1798.3 1067.0,1805.9 1067.5,1809.3 1067.9,1808.1 1068.4,1807.8 1068.8,1801.2 1069.2,1806.4 1069.7,1815.1 1070.1,1814.6 1070.6,1814.8 1071.0,1817.3 1071.5,1807.3 1071.9,1799.6 1072.3,1808.3 1072.8,1814.1 1073.2,1812.6 1073.7,1806.5 1074.1,1798.4 1074.6,1803.4 1075.0,1812.5 1075.4,1812.5 1075.9,1805.5 1076.3,1803.7 1076.8,1809.7 1077.2,1817.5 1077.7,1814.9 1078.1,1811.8 1078.5,1812.4 1079.0,1814.0 1079.4,1814.3 1079.9,1808.1 1080.3,1812.2 1080.8,1814.3 1081.2,1813.4 1081.6,1813.7 1082.1,1813.0 1082.5,1813.7 1083.0,1808.9 1083.4,1804.9 1083.9,1809.2 1084.3,1810.6 1084.7,1808.4 1085.2,1812.7 1085.6,1813.2 1086.1,1810.2 1086.5,1809.5 1087.0,1813.1 1087.4,1812.5 1087.8,1811.2 1088.3,1813.1 1088.7,1812.2 1089.2,1813.1 1089.6,1810.4 1090.1,1813.7 1090.5,1816.4 1090.9,1814.6 1091.4,1821.3 1091.8,1820.1 1092.3,1822.3 1092.7,1820.5 1093.2,1807.5 1093.6,1809.2 1094.0,1817.8 1094.5,1823.7 1094.9,1820.1 1095.4,1812.8 1095.8,1808.2 1096.3,1812.8 1096.7,1815.8 1097.1,1810.0 1097.6,1820.3 1098.0,1825.3 1098.5,1813.8 1098.9,1820.5 1099.4,1816.0 1099.8,1810.4 1100.2,1817.1 1100.7,1813.4 1101.1,1820.6 1101.6,1818.0 1102.0,1812.8 1102.5,1815.2 1102.9,1813.8 1103.3,1812.5 1103.8,1804.7 1104.2,1804.5 1104.7,1808.9 1105.1,1812.4 1105.6,1809.8 1106.0,1811.2 1106.4,1821.2 1106.9,1814.9 1107.3,1806.6 1107.8,1807.4 1108.2,1815.6 1108.7,1821.6 1109.1,1812.6 1109.5,1805.4 1110.0,1813.9 1110.4,1815.1 1110.9,1809.6 1111.3,1809.6 1111.8,1805.6 1112.2,1807.0 1112.6,1813.9 1113.1,1820.4 1113.5,1818.0 1114.0,1814.3 1114.4,1816.8 1114.9,1815.3 1115.3,1808.1" fill="none" stroke="#003F5C" stroke-width="6.0" stroke-linejoin="round" stroke-linecap="round"/>
<path d="M121.2,2073.9 121.6,2073.5 122.1,2069.4 122.5,2066.0 123.0,2066.0 123.4,2067.6 123.9,2067.1 124.3,2067.2 124.7,2066.5 125.2,2066.6 125.6,2064.6 126.1,2063.5 126.5,2062.7 127.0,2062.7 127.4,2061.6 127.8,2061.2 128.3,2060.7 128.7,2060.6 129.2,2058.6 129.6,2057.1 130.1,2055.0 130.5,2056.0 130.9,2055.8 131.4,2055.0 131.8,2055.3 132.3,2056.2 132.7,2057.5 133.2,2055.1 133.6,2052.9 134.0,2052.5 134.5,2053.6 134.9,2054.0 135.4,2052.7 135.8,2051.5 136.3,2051.3 136.7,2054.5 137.1,2054.9 137.6,2054.0 138.0,2051.6 138.5,2052.7 138.9,2052.6 139.4,2049.5 139.8,2047.2 140.2,2046.4 140.7,2047.6 141.1,2046.7 141.6,2046.4 142.0,2049.6 142.5,2051.5 142.9,2052.5 143.3,2048.9 143.8,2047.7 144.2,2047.8 144.7,2048.8 145.1,2048.9 145.6,2050.0 146.0,2051.4 146.4,2052.1 146.9,2049.0 147.3,2047.7 147.8,2046.1 148.2,2046.9 148.7,2046.6 149.1,2047.9 149.5,2049.4 150.0,2047.3 150.4,2047.6 150.9,2046.1 151.3,2048.3 151.8,2046.7 152.2,2048.7 152.6,2048.8 153.1,2050.4 153.5,2048.1 154.0,2049.1 154.4,2048.5 154.9,2048.5 155.3,2047.5 155.7,2046.8 156.2,2046.8 156.6,2048.4 157.1,2049.3 157.5,2049.8 158.0,2047.2 158.4,2048.0 158.8,2048.5 159.3,2049.8 159.7,2048.2 160.2,2049.9 160.6,2051.4 161.1,2052.1 161.5,2050.3 161.9,2049.1 162.4,2049.4 162.8,2050.1 163.3,2049.3 163.7,2049.0 164.2,2049.2 164.6,2051.7 165.0,2053.0 165.5,2053.4 165.9,2051.8 166.4,2051.8 166.8,2052.5 167.3,2054.3 167.7,2055.3 168.1,2054.4 168.6,2053.1 169.0,2053.0 169.5,2053.0 169.9,2054.2 170.4,2053.4 170.8,2052.6 171.2,2052.1 171.7,2052.0 172.1,2053.2 172.6,2052.9 173.0,2052.0 173.5,2051.9 173.9,2051.9 174.3,2054.2 174.8,2054.6 175.2,2055.4 175.7,2056.1 176.1,2054.7 176.6,2055.6 177.0,2054.4 177.4,2055.9 177.9,2053.9 178.3,2054.9 178.8,2055.7 179.2,2056.6 179.7,2054.7 180.1,2055.5 180.5,2057.4 181.0,2057.7 181.4,2056.8 181.9,2055.8 182.3,2057.6 182.8,2057.4 183.2,2059.1 183.6,2058.3 184.1,2058.5 184.5,2055.9 185.0,2055.0 185.4,2056.0 185.8,2056.9 186.3,2057.3 186.7,2055.8 187.2,2056.7 187.6,2058.6 188.1,2060.1 188.5,2059.5 188.9,2058.0 189.4,2058.4 189.8,2059.5 190.3,2060.3 190.7,2059.3 191.2,2059.7 191.6,2058.8 192.0,2059.5 192.5,2060.0 192.9,2060.9 193.4,2060.4 193.8,2056.4 194.3,2055.6 194.7,2055.6 195.1,2059.5 195.6,2059.2 196.0,2061.5 196.5,2059.8 196.9,2060.8 197.4,2059.2 197.8,2058.0 198.2,2058.8 198.7,2059.9 199.1,2059.3 199.6,2058.0 200.0,2055.4 200.5,2057.4 200.9,2058.4 201.3,2061.3 201.8,2060.2 202.2,2061.2 202.7,2059.1 203.1,2060.6 203.6,2059.4 204.0,2060.5 204.4,2059.3 204.9,2060.4 205.3,2060.5 205.8,2059.9 206.2,2058.6 206.7,2058.1 207.1,2058.5 207.5,2057.8 208.0,2057.0 208.4,2058.4 208.9,2060.0 209.3,2059.8 209.8,2060.1 210.2,2057.9 210.6,2060.9 211.1,2060.2 211.5,2063.5 212.0,2061.2 212.4,2061.4 212.9,2060.5 213.3,2061.3 213.7,2060.2 214.2,2059.4 214.6,2059.0 215.1,2060.1 215.5,2060.3 216.0,2060.0 216.4,2060.0 216.8,2060.8 217.3,2061.2 217.7,2061.4 218.2,2060.2 218.6,2061.4 219.1,2061.4 219.5,2063.7 219.9,2062.3 220.4,2061.7 220.8,2060.1 221.3,2060.0 221.7,2060.6 222.2,2060.8 222.6,2061.0 223.0,2062.3 223.5,2061.6 223.9,2060.8 224.4,2058.7 224.8,2060.7 225.3,2061.4 225.7,2062.5 226.1,2062.6 226.6,2062.9 227.0,2061.5 227.5,2060.6 227.9,2061.5 228.4,2064.7 228.8,2065.7 229.2,2064.8 229.7,2063.0 230.1,2061.7 230.6,2061.3 231.0,2062.4 231.5,2062.1 231.9,2062.1 232.3,2059.6 232.8,2058.3 233.2,2058.4 233.7,2060.1 234.1,2060.6 234.6,2060.4 235.0,2058.7 235.4,2058.5 235.9,2058.2 236.3,2060.3 236.8,2063.3 237.2,2065.2 237.7,2064.6 238.1,2062.0 238.5,2062.0 239.0,2060.8 239.4,2060.1 239.9,2060.2 240.3,2059.8 240.8,2062.0 241.2,2060.9 241.6,2063.0 242.1,2060.5 242.5,2061.0 243.0,2060.6 243.4,2062.7 243.9,2061.0 244.3,2060.2 244.7,2058.0 245.2,2060.6 245.6,2060.9 246.1,2062.2 246.5,2061.7 247.0,2061.3 247.4,2061.5 247.8,2060.3 248.3,2061.3 248.7,2059.1 249.2,2060.4 249.6,2059.8 250.1,2060.9 250.5,2060.9 250.9,2062.8 251.4,2063.0 251.8,2061.9 252.3,2059.9 252.7,2061.1 253.2,2059.6 253.6,2059.4 254.0,2058.0 254.5,2059.6 254.9,2058.7 255.4,2058.8 255.8,2057.9 256.3,2058.1 256.7,2058.5 257.1,2059.0 257.6,2058.2 258.0,2057.5 258.5,2057.1 258.9,2058.9 259.4,2060.6 259.8,2060.4 260.2,2060.0 260.7,2060.0 261.1,2060.8 261.6,2060.1 262.0,2058.5 262.5,2056.8 262.9,2058.6 263.3,2059.1 263.8,2059.7 264.2,2057.8 264.7,2058.5 265.1,2059.5 265.6,2060.5 266.0,2060.1 266.4,2058.6 266.9,2057.0 267.3,2056.3 267.8,2056.3 268.2,2057.0 268.7,2056.2 269.1,2056.3 269.5,2056.9 270.0,2056.5 270.4,2056.0 270.9,2056.4 271.3,2055.8 271.8,2056.5 272.2,2054.9 272.6,2055.6 273.1,2056.7 273.5,2056.0 274.0,2054.3 274.4,2053.6 274.9,2055.9 275.3,2056.3 275.7,2055.5 276.2,2053.6 276.6,2055.1 277.1,2055.4 277.5,2055.5 278.0,2055.5 278.4,2053.1 278.8,2051.5 279.3,2051.7 279.7,2053.3 280.2,2054.8 280.6,2054.7 281.1,2052.9 281.5,2050.8 281.9,2049.1 282.4,2051.0 282.8,2052.5 283.3,2052.1 283.7,2051.1 284.2,2050.7 284.6,2051.3 285.0,2051.4 285.5,2052.4 285.9,2052.5 286.4,2052.6 286.8,2050.7 287.3,2052.2 287.7,2052.3 288.1,2052.5 288.6,2050.8 289.0,2051.1 289.5,2050.3 289.9,2051.1 290.4,2048.8 290.8,2048.1 291.2,2046.1 291.7,2045.7 292.1,2047.0 292.6,2047.3 293.0,2048.8 293.5,2049.5 293.9,2048.6 294.3,2048.8 294.8,2046.9 295.2,2048.3 295.7,2048.4 296.1,2048.3 296.6,2048.0 297.0,2046.5 297.4,2047.8 297.9,2046.2 298.3,2046.4 298.8,2043.4 299.2,2043.1 299.7,2043.1 300.1,2044.7 300.5,2045.6 301.0,2047.4 301.4,2047.3 301.9,2045.5 302.3,2042.7 302.8,2042.4 303.2,2042.5 303.6,2041.0 304.1,2041.3 304.5,2041.8 305.0,2040.9 305.4,2039.2 305.9,2039.0 306.3,2040.9 306.7,2041.1 307.2,2040.7 307.6,2039.5 308.1,2038.6 308.5,2038.4 308.9,2038.3 309.4,2039.3 309.8,2037.7 310.3,2037.7 310.7,2036.8 311.2,2037.6 311.6,2037.3 312.0,2036.3 312.5,2035.1 312.9,2033.3 313.4,2032.8 313.8,2033.3 314.3,2035.6 314.7,2034.7 315.1,2032.6 315.6,2032.8 316.0,2032.3 316.5,2034.6 316.9,2033.0 317.4,2034.6 317.8,2032.5 318.2,2031.4 318.7,2030.4 319.1,2029.5 319.6,2030.2 320.0,2027.5 320.5,2027.5 320.9,2024.8 321.3,2026.1 321.8,2026.7 322.2,2026.4 322.7,2026.6 323.1,2024.0 323.6,2025.8 324.0,2024.5 324.4,2026.4 324.9,2024.5 325.3,2024.3 325.8,2023.3 326.2,2022.9 326.7,2023.1 327.1,2023.9 327.5,2022.0 328.0,2019.3 328.4,2018.0 328.9,2017.2 329.3,2019.6 329.8,2019.2 330.2,2021.4 330.6,2020.5 331.1,2018.8 331.5,2017.3 332.0,2015.5 332.4,2016.2 332.9,2018.1 333.3,2018.2 333.7,2016.4 334.2,2013.5 334.6,2010.6 335.1,2010.2 335.5,2010.2 336.0,2011.8 336.4,2011.5 336.8,2010.8 337.3,2010.8 337.7,2010.3 338.2,2008.8 338.6,2008.4 339.1,2006.6 339.5,2005.8 339.9,2004.6 340.4,2005.2 340.8,2005.8 341.3,2003.4 341.7,2001.2 342.2,1999.7 342.6,1998.9 343.0,1999.8 343.5,1999.3 343.9,2000.5 344.4,1998.3 344.8,1997.2 345.3,1995.4 345.7,1994.0 346.1,1992.6 346.6,1993.0 347.0,1993.5 347.5,1992.9 347.9,1991.3 348.4,1991.9 348.8,1991.5 349.2,1990.9 349.7,1989.4 350.1,1987.3 350.6,1985.8 351.0,1984.1 351.5,1985.5 351.9,1985.2 352.3,1984.7 352.8,1982.4 353.2,1980.7 353.7,1981.1 354.1,1981.6 354.6,1983.2 355.0,1980.4 355.4,1979.6 355.9,1978.4 356.3,1978.1 356.8,1977.1 357.2,1974.3 357.7,1971.9 358.1,1970.1 358.5,1969.1 359.0,1968.9 359.4,1969.1 359.9,1969.5 360.3,1970.8 360.8,1971.1 361.2,1971.3 361.6,1970.0 362.1,1967.9 362.5,1967.0 363.0,1964.7 363.4,1963.4 363.9,1962.9 364.3,1963.1 364.7,1963.9 365.2,1962.6 365.6,1962.3 366.1,1961.5 366.5,1960.3 367.0,1958.7 367.4,1956.9 367.8,1956.8 368.3,1955.7 368.7,1956.6 369.2,1955.2 369.6,1955.7 370.1,1954.4 370.5,1954.7 370.9,1952.7 371.4,1951.4 371.8,1948.7 372.3,1949.0 372.7,1948.5 373.2,1948.9 373.6,1947.9 374.0,1946.4 374.5,1945.3 374.9,1942.8 375.4,1942.4 375.8,1942.0 376.3,1943.7 376.7,1943.7 377.1,1942.8 377.6,1941.7 378.0,1940.3 378.5,1940.3 378.9,1939.3 379.4,1940.0 379.8,1939.8 380.2,1938.3 380.7,1935.6 381.1,1932.9 381.6,1932.7 382.0,1932.1 382.5,1932.4 382.9,1932.0 383.3,1931.5 383.8,1929.9 384.2,1928.4 384.7,1929.0 385.1,1928.7 385.6,1928.9 386.0,1926.8 386.4,1927.7 386.9,1926.2 387.3,1925.1 387.8,1922.4 388.2,1922.4 388.7,1921.5 389.1,1919.6 389.5,1919.8 390.0,1921.8 390.4,1924.6 390.9,1922.6 391.3,1921.2 391.8,1919.8 392.2,1920.7 392.6,1919.6 393.1,1918.3 393.5,1917.4 394.0,1916.7 394.4,1915.6 394.9,1915.4 395.3,1917.4 395.7,1917.6 396.2,1916.6 396.6,1912.7 397.1,1914.0 397.5,1914.6 398.0,1915.1 398.4,1913.4 398.8,1910.6 399.3,1911.6 399.7,1911.3 400.2,1913.6 400.6,1913.0 401.1,1913.5 401.5,1911.9 401.9,1911.1 402.4,1911.8 402.8,1911.1 403.3,1909.7 403.7,1909.3 404.2,1910.1 404.6,1911.8 405.0,1910.6 405.5,1910.9 405.9,1908.9 406.4,1907.9 406.8,1907.0 407.3,1907.6 407.7,1908.1 408.1,1908.2 408.6,1906.9 409.0,1907.6 409.5,1906.0 409.9,1908.2 410.4,1906.8 410.8,1908.6 411.2,1909.0 411.7,1908.5 412.1,1907.8 412.6,1906.6 413.0,1905.8 413.5,1904.4 413.9,1904.6 414.3,1906.5 414.8,1907.6 415.2,1905.4 415.7,1905.1 416.1,1906.5 416.6,1908.5 417.0,1908.2 417.4,1906.9 417.9,1907.1 418.3,1905.9 418.8,1905.7 419.2,1905.4 419.7,1906.5 420.1,1907.0 420.5,1908.8 421.0,1910.2 421.4,1911.0 421.9,1909.4 422.3,1909.8 422.8,1910.0 423.2,1910.9 423.6,1911.2 424.1,1911.4 424.5,1912.6 425.0,1911.0 425.4,1910.8 425.9,1911.3 426.3,1914.5 426.7,1915.5 427.2,1915.0 427.6,1913.7 428.1,1914.0 428.5,1916.1 429.0,1916.6 429.4,1915.9 429.8,1913.9 430.3,1913.9 430.7,1916.2 431.2,1916.9 431.6,1916.3 432.0,1916.0 432.5,1916.4 432.9,1917.2 433.4,1918.7 433.8,1920.5 434.3,1924.3 434.7,1925.0 435.1,1925.6 435.6,1923.6 436.0,1922.8 436.5,1921.7 436.9,1923.0 437.4,1923.8 437.8,1924.7 438.2,1924.3 438.7,1923.2 439.1,1924.1 439.6,1924.9 440.0,1928.4 440.5,1928.7 440.9,1931.3 441.3,1929.5 441.8,1930.0 442.2,1928.1 442.7,1929.5 443.1,1929.1 443.6,1931.2 444.0,1932.6 444.4,1934.2 444.9,1933.8 445.3,1934.8 445.8,1936.0 446.2,1937.5 446.7,1936.9 447.1,1937.9 447.5,1937.3 448.0,1938.0 448.4,1939.2 448.9,1940.9 449.3,1940.4 449.8,1941.5 450.2,1941.4 450.6,1941.9 451.1,1941.6 451.5,1943.0 452.0,1946.7 452.4,1948.1 452.9,1948.5 453.3,1947.2 453.7,1947.2 454.2,1948.1 454.6,1949.3 455.1,1950.1 455.5,1950.8 456.0,1952.1 456.4,1952.0 456.8,1952.2 457.3,1952.6 457.7,1955.0 458.2,1955.9 458.6,1956.3 459.1,1955.9 459.5,1957.7 459.9,1959.5 460.4,1961.2 460.8,1959.6 461.3,1959.2 461.7,1959.9 462.2,1962.6 462.6,1963.3 463.0,1964.9 463.5,1964.3 463.9,1966.7 464.4,1965.7 464.8,1969.0 465.3,1969.0 465.7,1971.1 466.1,1969.7 466.6,1969.6 467.0,1969.6 467.5,1972.6 467.9,1973.8 468.4,1974.7 468.8,1974.1 469.2,1974.5 469.7,1975.2 470.1,1977.2 470.6,1977.7 471.0,1978.6 471.5,1977.3 471.9,1977.7 472.3,1977.9 472.8,1979.4 473.2,1981.6 473.7,1981.6 474.1,1982.6 474.6,1983.6 475.0,1984.6 475.4,1984.5 475.9,1982.4 476.3,1982.9 476.8,1983.6 477.2,1985.7 477.7,1985.6 478.1,1986.5 478.5,1987.0 479.0,1987.5 479.4,1986.6 479.9,1986.6 480.3,1987.5 480.8,1989.5 481.2,1990.6 481.6,1992.4 482.1,1991.3 482.5,1992.5 483.0,1990.9 483.4,1992.5 483.9,1992.0 484.3,1994.5 484.7,1994.4 485.2,1994.4 485.6,1994.8 486.1,1995.5 486.5,1997.2 487.0,1996.7 487.4,1997.7 487.8,1997.1 488.3,1997.6 488.7,2000.5 489.2,2002.1 489.6,2003.1 490.1,2001.5 490.5,2001.1 490.9,2002.2 491.4,2002.8 491.8,2002.7 492.3,2002.5 492.7,2002.2 493.2,2002.7 493.6,2002.5 494.0,2002.1 494.5,2004.2 494.9,2004.2 495.4,2007.1 495.8,2008.3 496.3,2010.6 496.7,2011.0 497.1,2009.3 497.6,2008.0 498.0,2007.4 498.5,2009.0 498.9,2009.0 499.4,2009.2 499.8,2008.1 500.2,2012.0 500.7,2011.8 501.1,2013.6 501.6,2012.7 502.0,2015.8 502.5,2016.2 502.9,2015.9 503.3,2016.1 503.8,2016.0 504.2,2016.2 504.7,2013.0 505.1,2014.8 505.6,2016.3 506.0,2017.9 506.4,2017.1 506.9,2017.5 507.3,2018.5 507.8,2020.6 508.2,2020.3 508.7,2020.5 509.1,2017.8 509.5,2018.4 510.0,2019.4 510.4,2019.5 510.9,2019.0 511.3,2017.5 511.8,2020.1 512.2,2022.0 512.6,2023.0 513.1,2021.3 513.5,2021.3 514.0,2022.2 514.4,2023.6 514.9,2025.2 515.3,2025.8 515.7,2025.9 516.2,2023.4 516.6,2023.7 517.1,2023.1 517.5,2024.9 518.0,2024.6 518.4,2026.7 518.8,2027.5 519.3,2029.1 519.7,2030.4 520.2,2028.4 520.6,2028.1 521.1,2025.1 521.5,2026.4 521.9,2025.6 522.4,2026.5 522.8,2026.0 523.3,2026.3 523.7,2028.5 524.2,2029.6 524.6,2030.4 525.0,2030.1 525.5,2031.2 525.9,2032.0 526.4,2031.9 526.8,2032.9 527.3,2033.8 527.7,2033.5 528.1,2032.9 528.6,2032.3 529.0,2033.5 529.5,2033.1 529.9,2033.4 530.4,2034.0 530.8,2033.6 531.2,2034.0 531.7,2032.3 532.1,2035.2 532.6,2035.9 533.0,2036.5 533.5,2034.7 533.9,2033.8 534.3,2034.2 534.8,2034.2 535.2,2035.9 535.7,2036.0 536.1,2036.8 536.6,2037.7 537.0,2037.5 537.4,2039.3 537.9,2039.3 538.3,2040.2 538.8,2039.6 539.2,2039.2 539.7,2039.2 540.1,2039.3 540.5,2040.8 541.0,2041.8 541.4,2043.0 541.9,2042.0 542.3,2041.2 542.8,2040.3 543.2,2041.8 543.6,2042.2 544.1,2042.0 544.5,2042.0 545.0,2043.9 545.4,2044.9 545.9,2044.0 546.3,2044.2 546.7,2045.9 547.2,2047.2 547.6,2045.8 548.1,2043.5 548.5,2042.5 549.0,2043.0 549.4,2043.6 549.8,2044.3 550.3,2043.9 550.7,2044.2 551.2,2043.7 551.6,2044.9 552.1,2044.8 552.5,2043.9 552.9,2043.1 553.4,2044.9 553.8,2045.7 554.3,2046.6 554.7,2047.8 555.2,2050.4 555.6,2053.1 556.0,2050.0 556.5,2049.7 556.9,2048.2 557.4,2050.1 557.8,2048.4 558.2,2048.5 558.7,2047.2 559.1,2050.0 559.6,2048.3 560.0,2048.9 560.5,2047.3 560.9,2048.9 561.3,2050.5 561.8,2049.3 562.2,2049.0 562.7,2048.8 563.1,2049.5 563.6,2049.7 564.0,2048.3 564.4,2049.9 564.9,2050.0 565.3,2050.3 565.8,2049.5 566.2,2049.0 566.7,2050.9 567.1,2051.7 567.5,2051.8 568.0,2050.2 568.4,2050.3 568.9,2051.5 569.3,2052.4 569.8,2052.2 570.2,2051.3 570.6,2053.1 571.1,2054.4 571.5,2054.7 572.0,2052.0 572.4,2051.2 572.9,2052.1 573.3,2053.3 573.7,2054.0 574.2,2054.4 574.6,2055.1 575.1,2053.6 575.5,2051.7 576.0,2051.5 576.4,2053.5 576.8,2054.9 577.3,2055.3 577.7,2053.4 578.2,2054.6 578.6,2054.3 579.1,2054.8 579.5,2052.8 579.9,2054.0 580.4,2055.7 580.8,2056.7 581.3,2056.8 581.7,2055.4 582.2,2056.7 582.6,2054.4 583.0,2054.7 583.5,2053.5 583.9,2055.7 584.4,2056.4 584.8,2057.0 585.3,2056.7 585.7,2058.2 586.1,2059.1 586.6,2060.5 587.0,2061.5 587.5,2061.6 587.9,2060.2 588.4,2057.8 588.8,2057.6 589.2,2057.6 589.7,2057.9 590.1,2057.1 590.6,2057.8 591.0,2058.2 591.5,2059.3 591.9,2060.3 592.3,2060.8 592.8,2060.3 593.2,2059.1 593.7,2059.1 594.1,2061.3 594.6,2063.0 595.0,2062.5 595.4,2060.5 595.9,2060.9 596.3,2063.8 596.8,2064.5 597.2,2061.7 597.7,2058.0 598.1,2058.5 598.5,2060.5 599.0,2061.2 599.4,2060.8 599.9,2059.9 600.3,2060.7 600.8,2061.1 601.2,2063.6 601.6,2064.9 602.1,2065.2 602.5,2065.4 603.0,2064.7 603.4,2064.2 603.9,2063.6 604.3,2063.8 604.7,2065.1 605.2,2063.6 605.6,2062.7 606.1,2061.7 606.5,2061.4 607.0,2060.7 607.4,2061.7 607.8,2061.3 608.3,2063.1 608.7,2063.0 609.2,2064.7 609.6,2065.3 610.1,2063.1 610.5,2062.6 610.9,2061.0 611.4,2062.4 611.8,2063.5 612.3,2064.2 612.7,2064.2 613.2,2064.1 613.6,2065.3 614.0,2065.5 614.5,2064.1 614.9,2063.9 615.4,2066.8 615.8,2069.4 616.3,2069.9 616.7,2066.3 617.1,2063.0 617.6,2062.6 618.0,2064.4 618.5,2066.8 618.9,2065.6 619.4,2066.6 619.8,2067.4 620.2,2067.2 620.7,2065.4 621.1,2064.0 621.6,2064.4 622.0,2063.6 622.5,2065.4 622.9,2067.0 623.3,2067.7 623.8,2067.7 624.2,2065.9 624.7,2066.9 625.1,2066.3 625.6,2068.5 626.0,2068.9 626.4,2068.0 626.9,2067.7 627.3,2068.0 627.8,2069.3 628.2,2069.4 628.7,2068.0 629.1,2067.7 629.5,2067.8 630.0,2067.5 630.4,2068.0 630.9,2069.5 631.3,2070.8 631.8,2070.6 632.2,2068.8 632.6,2068.1 633.1,2069.8 633.5,2071.0 634.0,2070.0 634.4,2068.5 634.9,2069.0 635.3,2069.8 635.7,2071.0 636.2,2071.1 636.6,2072.9 637.1,2070.9 637.5,2071.2 638.0,2071.1 638.4,2069.7 638.8,2067.3 639.3,2066.9 639.7,2070.7 640.2,2070.4 640.6,2069.7 641.1,2067.3 641.5,2069.9 641.9,2069.6 642.4,2070.5 642.8,2069.5 643.3,2072.6 643.7,2072.9 644.2,2071.7 644.6,2070.3 645.0,2070.5 645.5,2072.3 645.9,2071.9 646.4,2072.6 646.8,2072.8 647.3,2072.7 647.7,2071.8 648.1,2072.0 648.6,2070.5 649.0,2070.1 649.5,2068.2 649.9,2071.0 650.4,2071.9 650.8,2072.4 651.2,2071.5 651.7,2070.7 652.1,2070.7 652.6,2072.1 653.0,2070.3 653.5,2071.4 653.9,2069.6 654.3,2073.3 654.8,2074.5 655.2,2074.8 655.7,2073.9 656.1,2071.6 656.6,2072.2 657.0,2072.6 657.4,2072.6 657.9,2072.9 658.3,2073.3 658.8,2075.3 659.2,2074.9 659.7,2074.0 660.1,2074.1 660.5,2072.8 661.0,2074.7 661.4,2076.8 661.9,2078.5 662.3,2075.7 662.8,2073.3 663.2,2072.9 663.6,2073.7 664.1,2073.8 664.5,2073.5 665.0,2073.7 665.4,2074.4 665.9,2075.3 666.3,2074.5 666.7,2072.3 667.2,2072.6 667.6,2074.3 668.1,2074.9 668.5,2073.5 669.0,2073.2 669.4,2074.4 669.8,2075.4 670.3,2076.3 670.7,2074.8 671.2,2074.5 671.6,2074.3 672.1,2076.3 672.5,2075.6 672.9,2073.6 673.4,2073.5 673.8,2075.4 674.3,2077.7 674.7,2077.4 675.2,2077.1 675.6,2076.4 676.0,2076.7 676.5,2076.4 676.9,2077.6 677.4,2078.1 677.8,2078.4 678.3,2075.9 678.7,2074.8 679.1,2074.9 679.6,2075.3 680.0,2076.2 680.5,2076.7 680.9,2076.3 681.3,2075.1 681.8,2074.1 682.2,2075.6 682.7,2076.8 683.1,2076.7 683.6,2076.6 684.0,2075.2 684.4,2076.0 684.9,2074.5 685.3,2074.9 685.8,2074.7 686.2,2075.5 686.7,2075.2 687.1,2076.3 687.5,2077.0 688.0,2078.6 688.4,2077.5 688.9,2078.2 689.3,2077.2 689.8,2077.5 690.2,2077.6 690.6,2076.7 691.1,2078.2 691.5,2077.4 692.0,2077.7 692.4,2077.0 692.9,2076.5 693.3,2077.5 693.7,2077.4 694.2,2079.0 694.6,2080.6 695.1,2080.3 695.5,2082.7 696.0,2081.1 696.4,2080.9 696.8,2079.1 697.3,2080.2 697.7,2080.2 698.2,2081.0 698.6,2080.7 699.1,2081.2 699.5,2080.8 699.9,2080.9 700.4,2082.0 700.8,2080.0 701.3,2080.0 701.7,2080.0 702.2,2079.8 702.6,2080.2 703.0,2079.6 703.5,2081.7 703.9,2080.3 704.4,2079.5 704.8,2078.6 705.3,2080.2 705.7,2080.3 706.1,2081.2 706.6,2079.6 707.0,2081.0 707.5,2079.9 707.9,2081.2 708.4,2081.5 708.8,2080.7 709.2,2078.8 709.7,2080.5 710.1,2081.3 710.6,2084.6 711.0,2083.2 711.5,2083.0 711.9,2080.6 712.3,2079.1 712.8,2080.1 713.2,2081.0 713.7,2082.2 714.1,2081.6 714.6,2081.1 715.0,2080.3 715.4,2080.9 715.9,2080.9 716.3,2080.9 716.8,2078.9 717.2,2078.5 717.7,2078.4 718.1,2080.0 718.5,2080.4 719.0,2079.3 719.4,2078.9 719.9,2078.7 720.3,2079.7 720.8,2081.4 721.2,2082.8 721.6,2083.1 722.1,2080.4 722.5,2080.1 723.0,2078.9 723.4,2079.9 723.9,2079.9 724.3,2081.4 724.7,2082.4 725.2,2081.8 725.6,2081.5 726.1,2080.7 726.5,2083.1 727.0,2084.0 727.4,2084.2 727.8,2082.1 728.3,2081.4 728.7,2082.5 729.2,2083.7 729.6,2083.8 730.1,2081.8 730.5,2081.1 730.9,2081.8 731.4,2082.8 731.8,2083.7 732.3,2083.0 732.7,2082.7 733.2,2082.8 733.6,2082.2 734.0,2081.5 734.5,2078.9 734.9,2081.8 735.4,2084.3 735.8,2085.4 736.3,2083.9 736.7,2082.5 737.1,2082.7 737.6,2083.5 738.0,2083.2 738.5,2083.5 738.9,2082.7 739.4,2084.3 739.8,2085.9 740.2,2086.3 740.7,2086.0 741.1,2084.2 741.6,2083.1 742.0,2081.9 742.5,2083.7 742.9,2084.4 743.3,2085.2 743.8,2085.4 744.2,2084.0 744.7,2083.2 745.1,2081.8 745.6,2083.7 746.0,2084.7 746.4,2083.4 746.9,2082.1 747.3,2082.1 747.8,2082.6 748.2,2084.7 748.7,2085.4 749.1,2085.7 749.5,2083.4 750.0,2082.2 750.4,2082.6 750.9,2084.2 751.3,2083.9 751.8,2084.1 752.2,2085.1 752.6,2087.6 753.1,2088.2 753.5,2088.1 754.0,2088.5 754.4,2086.8 754.9,2087.4 755.3,2084.8 755.7,2085.6 756.2,2084.2 756.6,2084.5 757.1,2086.2 757.5,2087.6 758.0,2087.2 758.4,2087.4 758.8,2084.8 759.3,2085.4 759.7,2083.3 760.2,2084.7 760.6,2083.8 761.1,2084.8 761.5,2085.2 761.9,2086.2 762.4,2085.5 762.8,2082.9 763.3,2082.1 763.7,2083.1 764.2,2085.8 764.6,2086.5 765.0,2086.6 765.5,2083.9 765.9,2083.5 766.4,2082.1 766.8,2084.9 767.3,2085.9 767.7,2085.3 768.1,2085.9 768.6,2086.3 769.0,2088.3 769.5,2088.2 769.9,2085.3 770.4,2084.8 770.8,2084.1 771.2,2085.2 771.7,2085.3 772.1,2083.5 772.6,2084.7 773.0,2085.3 773.5,2087.3 773.9,2087.2 774.3,2085.9 774.8,2084.2 775.2,2083.3 775.7,2082.8 776.1,2084.8 776.6,2086.7 777.0,2086.4 777.4,2085.4 777.9,2082.9 778.3,2083.6 778.8,2083.7 779.2,2086.4 779.7,2087.8 780.1,2089.5 780.5,2088.9 781.0,2089.1 781.4,2085.2 781.9,2085.4 782.3,2084.4 782.8,2087.1 783.2,2086.5 783.6,2088.4 784.1,2088.0 784.5,2088.1 785.0,2086.8 785.4,2088.0 785.9,2088.1 786.3,2090.1 786.7,2089.9 787.2,2090.1 787.6,2088.0 788.1,2086.6 788.5,2086.2 789.0,2088.6 789.4,2089.7 789.8,2090.3 790.3,2087.2 790.7,2086.3 791.2,2086.8 791.6,2086.8 792.1,2088.5 792.5,2088.0 792.9,2089.1 793.4,2086.6 793.8,2086.0 794.3,2085.6 794.7,2087.8 795.2,2089.9 795.6,2088.5 796.0,2087.3 796.5,2084.8 796.9,2087.7 797.4,2087.7 797.8,2087.6 798.3,2087.4 798.7,2088.7 799.1,2089.7 799.6,2089.2 800.0,2088.6 800.5,2088.0 800.9,2089.1 801.4,2088.4 801.8,2088.0 802.2,2086.1 802.7,2086.0 803.1,2086.5 803.6,2087.7 804.0,2087.3 804.5,2087.5 804.9,2085.7 805.3,2087.0 805.8,2088.9 806.2,2090.6 806.7,2091.1 807.1,2090.6 807.5,2089.2 808.0,2087.7 808.4,2087.5 808.9,2089.6 809.3,2090.8 809.8,2090.7 810.2,2087.7 810.6,2089.0 811.1,2088.3 811.5,2089.9 812.0,2090.3 812.4,2090.9 812.9,2089.6 813.3,2087.5 813.7,2086.6 814.2,2087.3 814.6,2089.0 815.1,2089.0 815.5,2090.9 816.0,2088.2 816.4,2088.7 816.8,2087.7 817.3,2089.9 817.7,2089.6 818.2,2088.0 818.6,2086.9 819.1,2087.4 819.5,2090.1 819.9,2089.9 820.4,2089.5 820.8,2087.4 821.3,2087.1 821.7,2087.2 822.2,2089.6 822.6,2087.8 823.0,2086.6 823.5,2086.3 823.9,2088.2 824.4,2088.5 824.8,2088.3 825.3,2089.4 825.7,2090.5 826.1,2089.2 826.6,2089.5 827.0,2090.0 827.5,2092.0 827.9,2091.6 828.4,2092.5 828.8,2090.2 829.2,2089.4 829.7,2088.0 830.1,2088.2 830.6,2088.7 831.0,2088.0 831.5,2089.3 831.9,2089.5 832.3,2090.2 832.8,2089.6 833.2,2088.9 833.7,2088.3 834.1,2089.3 834.6,2089.1 835.0,2090.0 835.4,2088.9 835.9,2088.7 836.3,2088.5 836.8,2089.3 837.2,2089.6 837.7,2089.6 838.1,2090.0 838.5,2088.6 839.0,2088.6 839.4,2086.8 839.9,2087.5 840.3,2086.5 840.8,2088.6 841.2,2089.7 841.6,2089.9 842.1,2088.8 842.5,2088.2 843.0,2089.4 843.4,2087.8 843.9,2089.4 844.3,2089.3 844.7,2091.9 845.2,2090.2 845.6,2091.0 846.1,2089.5 846.5,2091.2 847.0,2089.1 847.4,2089.8 847.8,2088.4 848.3,2090.3 848.7,2089.8 849.2,2088.0 849.6,2086.0 850.1,2087.3 850.5,2090.3 850.9,2090.6 851.4,2088.4 851.8,2087.1 852.3,2087.6 852.7,2089.3 853.2,2091.3 853.6,2092.3 854.0,2092.0 854.5,2089.5 854.9,2089.3 855.4,2089.3 855.8,2088.9 856.3,2089.9 856.7,2089.3 857.1,2091.3 857.6,2091.2 858.0,2091.5 858.5,2091.9 858.9,2090.6 859.4,2093.7 859.8,2092.0 860.2,2092.8 860.7,2090.0 861.1,2089.2 861.6,2088.6 862.0,2087.9 862.5,2090.6 862.9,2089.3 863.3,2091.2 863.8,2091.3 864.2,2093.8 864.7,2092.5 865.1,2090.8 865.6,2091.0 866.0,2089.0 866.4,2089.7 866.9,2089.3 867.3,2091.2 867.8,2091.5 868.2,2091.4 868.7,2092.4 869.1,2093.9 869.5,2095.4 870.0,2095.0 870.4,2094.4 870.9,2091.5 871.3,2090.4 871.8,2088.1 872.2,2089.3 872.6,2089.4 873.1,2090.7 873.5,2090.3 874.0,2091.9 874.4,2091.6 874.9,2091.9 875.3,2090.5 875.7,2089.5 876.2,2089.6 876.6,2092.0 877.1,2093.3 877.5,2093.8 878.0,2091.8 878.4,2092.4 878.8,2091.3 879.3,2092.2 879.7,2091.0 880.2,2091.4 880.6,2089.9 881.1,2090.8 881.5,2090.8 881.9,2091.9 882.4,2091.4 882.8,2091.9 883.3,2091.6 883.7,2092.0 884.2,2091.3 884.6,2092.7 885.0,2092.3 885.5,2092.9 885.9,2093.1 886.4,2093.0 886.8,2092.2 887.3,2091.0 887.7,2090.6 888.1,2092.6 888.6,2093.6 889.0,2095.2 889.5,2093.1 889.9,2091.4 890.4,2090.7 890.8,2093.4 891.2,2094.8 891.7,2095.7 892.1,2093.9 892.6,2095.1 893.0,2093.5 893.5,2095.2 893.9,2093.7 894.3,2095.6 894.8,2094.8 895.2,2093.9 895.7,2094.5 896.1,2095.0 896.6,2096.4 897.0,2094.4 897.4,2093.6 897.9,2091.7 898.3,2093.8 898.8,2093.7 899.2,2096.0 899.7,2096.5 900.1,2096.0 900.5,2094.6 901.0,2091.2 901.4,2093.0 901.9,2093.4 902.3,2094.6 902.8,2093.3 903.2,2093.8 903.6,2094.9 904.1,2095.6 904.5,2095.0 905.0,2092.3 905.4,2090.9 905.9,2091.3 906.3,2092.7 906.7,2092.9 907.2,2093.3 907.6,2094.1 908.1,2095.7 908.5,2095.5 909.0,2094.1 909.4,2093.5 909.8,2094.0 910.3,2095.7 910.7,2096.1 911.2,2095.9 911.6,2095.6 912.1,2095.3 912.5,2096.1 912.9,2096.6 913.4,2096.6 913.8,2094.6 914.3,2093.8 914.7,2093.3 915.2,2093.0 915.6,2093.4 916.0,2094.5 916.5,2095.0 916.9,2094.6 917.4,2094.2 917.8,2096.4 918.3,2096.6 918.7,2097.2 919.1,2095.8 919.6,2094.7 920.0,2095.8 920.5,2094.6 920.9,2096.2 921.4,2092.2 921.8,2092.1 922.2,2091.9 922.7,2092.9 923.1,2094.7 923.6,2094.8 924.0,2095.3 924.5,2093.6 924.9,2093.9 925.3,2094.3 925.8,2094.9 926.2,2094.8 926.7,2094.0 927.1,2095.0 927.6,2095.0 928.0,2093.0 928.4,2095.2 928.9,2093.1 929.3,2096.9 929.8,2093.4 930.2,2094.5 930.6,2094.4 931.1,2095.2 931.5,2097.2 932.0,2096.6 932.4,2096.3 932.9,2094.7 933.3,2094.0 933.7,2093.2 934.2,2093.8 934.6,2093.7 935.1,2096.8 935.5,2097.2 936.0,2097.5 936.4,2097.5 936.8,2097.3 937.3,2098.6 937.7,2097.3 938.2,2096.0 938.6,2095.5 939.1,2095.1 939.5,2096.1 939.9,2097.3 940.4,2097.6 940.8,2097.5 941.3,2097.0 941.7,2095.5 942.2,2093.7 942.6,2093.1 943.0,2094.9 943.5,2096.3 943.9,2096.4 944.4,2094.1 944.8,2094.6 945.3,2094.2 945.7,2096.0 946.1,2097.4 946.6,2097.6 947.0,2096.5 947.5,2094.5 947.9,2094.8 948.4,2095.3 948.8,2095.3 949.2,2092.9 949.7,2092.7 950.1,2094.1 950.6,2095.9 951.0,2097.7 951.5,2095.3 951.9,2095.5 952.3,2095.2 952.8,2096.9 953.2,2097.6 953.7,2095.6 954.1,2096.3 954.6,2094.3 955.0,2096.9 955.4,2097.3 955.9,2096.5 956.3,2095.4 956.8,2094.6 957.2,2095.7 957.7,2095.5 958.1,2095.0 958.5,2095.3 959.0,2094.6 959.4,2094.5 959.9,2095.5 960.3,2096.3 960.8,2097.4 961.2,2096.9 961.6,2095.9 962.1,2096.9 962.5,2097.7 963.0,2099.8 963.4,2097.3 963.9,2096.0 964.3,2097.9 964.7,2097.9 965.2,2098.4 965.6,2096.4 966.1,2096.8 966.5,2097.4 967.0,2096.4 967.4,2095.7 967.8,2096.6 968.3,2096.6 968.7,2097.5 969.2,2096.7 969.6,2097.7 970.1,2099.4 970.5,2098.0 970.9,2097.7 971.4,2096.4 971.8,2098.3 972.3,2097.1 972.7,2097.6 973.2,2095.2 973.6,2096.9 974.0,2096.7 974.5,2096.2 974.9,2096.2 975.4,2094.8 975.8,2097.4 976.3,2097.0 976.7,2098.9 977.1,2097.0 977.6,2097.3 978.0,2096.2 978.5,2098.2 978.9,2097.9 979.4,2097.2 979.8,2095.2 980.2,2095.6 980.7,2096.2 981.1,2097.5 981.6,2097.0 982.0,2096.8 982.5,2094.8 982.9,2096.0 983.3,2098.3 983.8,2100.7 984.2,2100.2 984.7,2098.9 985.1,2099.7 985.6,2098.6 986.0,2098.0 986.4,2098.3 986.9,2098.3 987.3,2100.1 987.8,2097.7 988.2,2097.8 988.7,2094.2 989.1,2095.1 989.5,2096.6 990.0,2098.9 990.4,2097.1 990.9,2096.3 991.3,2097.4 991.8,2100.7 992.2,2099.6 992.6,2097.4 993.1,2097.0 993.5,2098.2 994.0,2098.7 994.4,2097.8 994.9,2097.0 995.3,2097.9 995.7,2096.7 996.2,2097.7 996.6,2097.7 997.1,2098.5 997.5,2097.1 998.0,2097.8 998.4,2099.7 998.8,2100.5 999.3,2098.8 999.7,2098.3 1000.2,2100.7 1000.6,2102.1 1001.1,2102.6 1001.5,2101.4 1001.9,2099.5 1002.4,2098.6 1002.8,2097.9 1003.3,2099.6 1003.7,2099.7 1004.2,2100.7 1004.6,2100.4 1005.0,2101.7 1005.5,2101.4 1005.9,2100.9 1006.4,2100.9 1006.8,2100.9 1007.3,2101.8 1007.7,2100.8 1008.1,2100.2 1008.6,2100.2 1009.0,2100.5 1009.5,2101.9 1009.9,2101.4 1010.4,2099.6 1010.8,2097.9 1011.2,2099.0 1011.7,2099.0 1012.1,2099.4 1012.6,2098.5 1013.0,2099.6 1013.5,2099.9 1013.9,2101.7 1014.3,2100.8 1014.8,2099.6 1015.2,2099.2 1015.7,2100.4 1016.1,2101.0 1016.6,2101.6 1017.0,2099.3 1017.4,2098.6 1017.9,2096.7 1018.3,2100.7 1018.8,2102.1 1019.2,2101.4 1019.7,2101.4 1020.1,2099.9 1020.5,2103.6 1021.0,2101.3 1021.4,2102.0 1021.9,2100.9 1022.3,2102.6 1022.8,2104.6 1023.2,2103.6 1023.6,2103.4 1024.1,2102.0 1024.5,2101.7 1025.0,2100.0 1025.4,2099.6 1025.9,2100.2 1026.3,2101.2 1026.7,2103.4 1027.2,2102.4 1027.6,2102.8 1028.1,2101.7 1028.5,2102.1 1029.0,2102.2 1029.4,2101.5 1029.8,2101.8 1030.3,2101.1 1030.7,2101.6 1031.2,2102.0 1031.6,2102.4 1032.1,2102.7 1032.5,2101.7 1032.9,2099.6 1033.4,2098.5 1033.8,2099.8 1034.3,2100.5 1034.7,2102.2 1035.2,2100.9 1035.6,2101.8 1036.0,2100.3 1036.5,2100.6 1036.9,2101.9 1037.4,2102.9 1037.8,2103.4 1038.3,2103.3 1038.7,2102.5 1039.1,2101.8 1039.6,2102.1 1040.0,2103.6 1040.5,2102.4 1040.9,2101.3 1041.4,2099.3 1041.8,2102.5 1042.2,2101.7 1042.7,2102.8 1043.1,2100.6 1043.6,2100.8 1044.0,2100.5 1044.5,2100.4 1044.9,2101.1 1045.3,2100.8 1045.8,2101.7 1046.2,2102.9 1046.7,2103.8 1047.1,2102.7 1047.6,2103.2 1048.0,2102.3 1048.4,2103.0 1048.9,2100.0 1049.3,2099.7 1049.8,2100.5 1050.2,2101.7 1050.7,2103.7 1051.1,2103.6 1051.5,2104.1 1052.0,2103.3 1052.4,2102.5 1052.9,2101.2 1053.3,2100.6 1053.7,2100.2 1054.2,2101.8 1054.6,2101.9 1055.1,2102.3 1055.5,2101.4 1056.0,2101.9 1056.4,2103.6 1056.8,2104.4 1057.3,2105.6 1057.7,2104.7 1058.2,2105.0 1058.6,2103.2 1059.1,2103.5 1059.5,2102.9 1059.9,2103.4 1060.4,2103.4 1060.8,2103.0 1061.3,2102.6 1061.7,2102.9 1062.2,2104.0 1062.6,2104.8 1063.0,2101.8 1063.5,2101.6 1063.9,2100.9 1064.4,2101.4 1064.8,2099.8 1065.3,2101.3 1065.7,2101.9 1066.1,2102.8 1066.6,2100.4 1067.0,2100.5 1067.5,2101.6 1067.9,2103.8 1068.4,2104.5 1068.8,2103.7 1069.2,2102.4 1069.7,2103.1 1070.1,2105.1 1070.6,2106.2 1071.0,2106.8 1071.5,2105.6 1071.9,2105.2 1072.3,2102.4 1072.8,2101.3 1073.2,2100.3 1073.7,2101.2 1074.1,2100.9 1074.6,2101.8 1075.0,2104.2 1075.4,2103.1 1075.9,2101.8 1076.3,2100.7 1076.8,2101.6 1077.2,2101.2 1077.7,2100.2 1078.1,2101.7 1078.5,2103.3 1079.0,2103.6 1079.4,2103.1 1079.9,2101.7 1080.3,2103.2 1080.8,2102.0 1081.2,2103.0 1081.6,2102.4 1082.1,2103.5 1082.5,2103.4 1083.0,2102.3 1083.4,2103.1 1083.9,2105.2 1084.3,2106.9 1084.7,2106.8 1085.2,2106.2 1085.6,2105.5 1086.1,2105.2 1086.5,2104.5 1087.0,2105.0 1087.4,2105.3 1087.8,2104.1 1088.3,2104.2 1088.7,2102.7 1089.2,2103.6 1089.6,2102.7 1090.1,2102.3 1090.5,2102.9 1090.9,2103.2 1091.4,2106.5 1091.8,2107.5 1092.3,2107.0 1092.7,2105.2 1093.2,2104.5 1093.6,2105.5 1094.0,2104.3 1094.5,2104.8 1094.9,2103.0 1095.4,2103.5 1095.8,2102.4 1096.3,2104.6 1096.7,2105.3 1097.1,2104.5 1097.6,2104.1 1098.0,2104.7 1098.5,2107.2 1098.9,2107.9 1099.4,2107.3 1099.8,2105.5 1100.2,2105.7 1100.7,2106.1 1101.1,2106.3 1101.6,2104.8 1102.0,2105.9 1102.5,2106.1 1102.9,2107.3 1103.3,2107.1 1103.8,2107.0 1104.2,2106.5 1104.7,2105.2 1105.1,2105.4 1105.6,2105.4 1106.0,2106.2 1106.4,2105.8 1106.9,2105.2 1107.3,2105.0 1107.8,2105.8 1108.2,2105.8 1108.7,2107.0 1109.1,2106.3 1109.5,2106.2 1110.0,2105.1 1110.4,2105.1 1110.9,2104.4 1111.3,2103.8 1111.8,2105.1 1112.2,2107.3 1112.6,2108.8 1113.1,2107.1 1113.5,2106.6 1114.0,2104.8 1114.4,2106.4 1114.9,2105.2 1115.3,2105.0" fill="none" stroke="#012D4F" stroke-width="8.0" stroke-linejoin="round" stroke-linecap="round"/>
</g>
<line x1="802.6" y1="105.7" x2="884.0" y2="105.7" stroke="#35A3DD" stroke-width="9" stroke-linecap="round"/>
<text transform="translate(899.31,123.60) scale(1.0383,1)" font-family="Liberation Serif" font-weight="bold" font-size="55.74" fill="#35A3DD" >PAN</text>
<line x1="728.4" y1="361.9" x2="809.6" y2="361.9" stroke="#2194D5" stroke-width="9" stroke-linecap="round"/>
<text transform="translate(824.29,379.00) scale(1.1228,1)" font-family="Liberation Serif" font-weight="bold" font-size="52.38" fill="#2194D5" >30TMPP/P</text>
<line x1="728.4" y1="623.4" x2="809.6" y2="623.4" stroke="#046CAF" stroke-width="9" stroke-linecap="round"/>
<text transform="translate(824.90,641.00) scale(1.1171,1)" font-family="Liberation Serif" font-weight="bold" font-size="52.38" fill="#046CAF" >40TMPP/P</text>
<line x1="730.1" y1="882.5" x2="811.4" y2="882.5" stroke="#02629F" stroke-width="9" stroke-linecap="round"/>
<text transform="translate(825.95,899.20) scale(1.1148,1)" font-family="Liberation Serif" font-weight="bold" font-size="52.69" fill="#02629F" >50TMPP/P</text>
<line x1="732.5" y1="1146.0" x2="813.1" y2="1146.0" stroke="#026587" stroke-width="9" stroke-linecap="round"/>
<text transform="translate(830.41,1163.50) scale(1.1069,1)" font-family="Liberation Serif" font-weight="bold" font-size="52.69" fill="#026587" >60TMPP/P</text>
<line x1="730.1" y1="1414.5" x2="809.0" y2="1414.5" stroke="#015275" stroke-width="9" stroke-linecap="round"/>
<text transform="translate(823.14,1431.50) scale(1.1177,1)" font-family="Liberation Serif" font-weight="bold" font-size="52.69" fill="#015275" >70TMPP/P</text>
<line x1="730.1" y1="1680.5" x2="808.5" y2="1680.5" stroke="#003F5C" stroke-width="9" stroke-linecap="round"/>
<text transform="translate(823.75,1698.00) scale(1.0900,1)" font-family="Liberation Serif" font-weight="bold" font-size="53.91" fill="#003F5C" >80TMPP/P</text>
<line x1="633.8" y1="1948.6" x2="712.4" y2="1948.6" stroke="#012D4F" stroke-width="9" stroke-linecap="round"/>
<text transform="translate(730.29,1966.50) scale(1.0699,1)" font-family="Liberation Serif" font-weight="bold" font-size="52.99" fill="#012D4F" >[P</text>
<text transform="translate(783.75,1981.30) scale(1.1254,1)" font-family="Liberation Serif" font-weight="bold" font-size="35.45" fill="#012D4F" >(14)666</text>
<text transform="translate(910.67,1966.50) scale(1.0978,1)" font-family="Liberation Serif" font-weight="bold" font-size="53.76" fill="#012D4F" >]TMPP</text>
<text transform="translate(122.37,66.90) scale(1.0581,1)" font-family="Liberation Serif" font-weight="normal" font-size="62.71" fill="#000" >16.82</text>
<text transform="translate(432.21,2112.80) scale(1.0379,1)" font-family="Liberation Serif" font-weight="normal" font-size="63.46" fill="#000" >18.09</text>
<polygon points="274.6,42.5 319.5,46.9 321.2,37.5 374.8,55.2 318.1,62.5 319.2,52.9 274.6,48.4" fill="#000"/>
<polygon points="472.8,2035.7 439.3,1976.0 448.6,1970.8 411.9,1933.7 424.5,1984.3 433.9,1979.1 467.4,2038.7" fill="#000"/>
<text transform="translate(196.99,2199.8) scale(1.0836,1)" font-family="Liberation Serif" font-weight="bold" font-size="63.0" fill="#000">10</text>
<text transform="translate(417.90,2199.8) scale(1.0836,1)" font-family="Liberation Serif" font-weight="bold" font-size="63.0" fill="#000">20</text>
<text transform="translate(638.81,2199.8) scale(1.0836,1)" font-family="Liberation Serif" font-weight="bold" font-size="63.0" fill="#000">30</text>
<text transform="translate(859.72,2199.8) scale(1.0836,1)" font-family="Liberation Serif" font-weight="bold" font-size="63.0" fill="#000">40</text>
<text transform="translate(1080.63,2199.8) scale(1.0836,1)" font-family="Liberation Serif" font-weight="bold" font-size="63.0" fill="#000">50</text>
<text transform="translate(332.18,2304.80) scale(1.0799,1)" font-family="Liberation Serif" font-weight="bold" font-size="75.44" fill="#000" >2 Theta (degree)</text>
<text transform="translate(79.6,1326.12) rotate(-90) scale(1,1.1032)" font-family="Liberation Serif" font-weight="bold" font-size="74.89" fill="#000">Intensity (a.u.)</text>
</svg></body></html>
